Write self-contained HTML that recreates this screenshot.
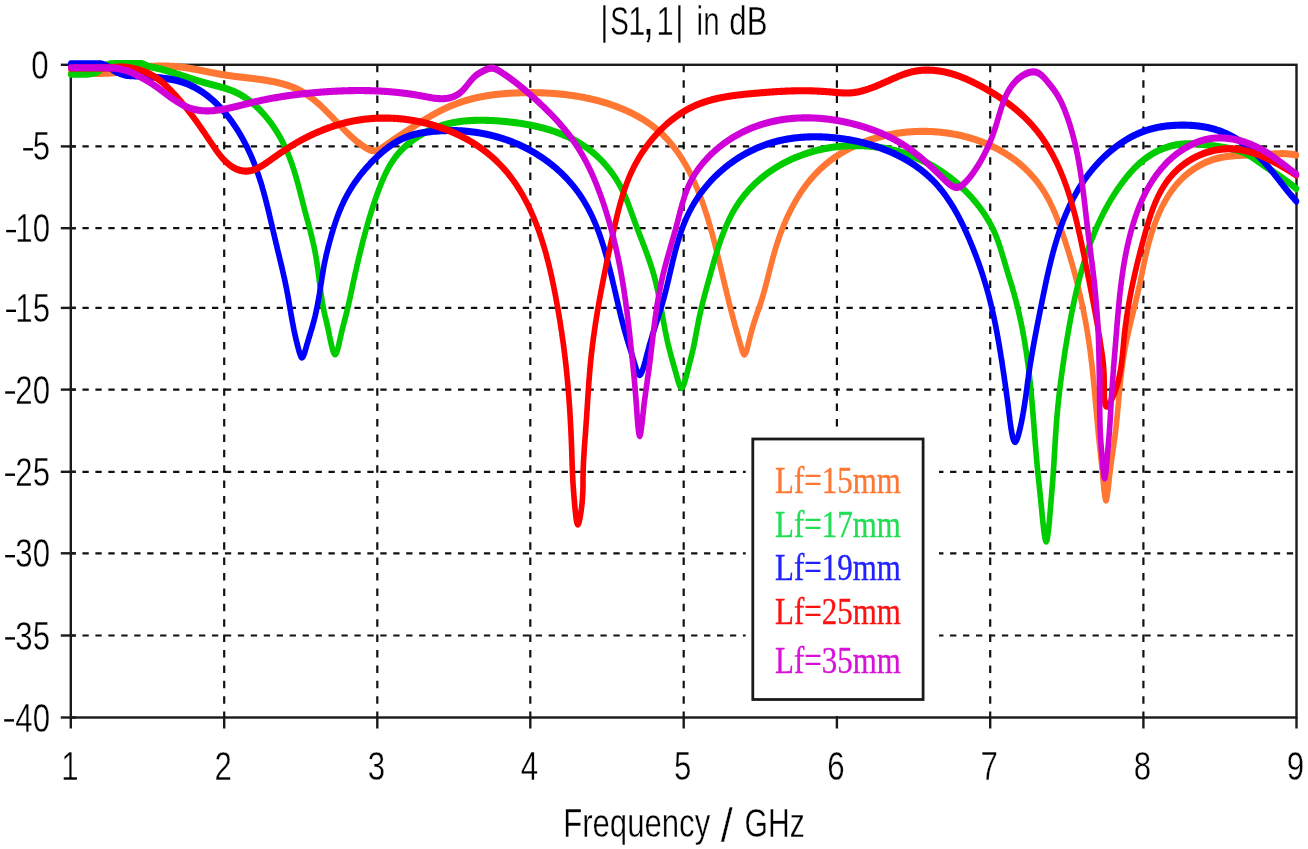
<!DOCTYPE html><html><head><meta charset="utf-8"><style>html,body{margin:0;padding:0;background:#fff;overflow:hidden;}svg{display:block;filter:blur(0.5px);}</style></head><body>
<svg width="1308" height="849" viewBox="0 0 1308 849">
<rect x="0" y="0" width="1308" height="849" fill="#fff"/>
<g stroke="#111" stroke-width="2.2" stroke-dasharray="7.5 7.9" fill="none"><line x1="224.2" y1="64.8" x2="224.2" y2="717.5" /><line x1="377.3" y1="64.8" x2="377.3" y2="717.5" /><line x1="530.3" y1="64.8" x2="530.3" y2="717.5" /><line x1="683.7" y1="64.8" x2="683.7" y2="717.5" /><line x1="836.9" y1="64.8" x2="836.9" y2="717.5" /><line x1="990.2" y1="64.8" x2="990.2" y2="717.5" /><line x1="1143.4" y1="64.8" x2="1143.4" y2="717.5" /></g>
<g stroke="#111" stroke-width="2.2" stroke-dasharray="6.3 6.65" fill="none"><line x1="69.5" y1="146.4" x2="1296.5" y2="146.4" /><line x1="69.5" y1="228.2" x2="1296.5" y2="228.2" /><line x1="69.5" y1="307.9" x2="1296.5" y2="307.9" /><line x1="69.5" y1="389.6" x2="1296.5" y2="389.6" /><line x1="69.5" y1="471.8" x2="1296.5" y2="471.8" /><line x1="69.5" y1="553.3" x2="1296.5" y2="553.3" /><line x1="69.5" y1="635.5" x2="1296.5" y2="635.5" /></g>
<rect x="745.7" y="431" width="193.3" height="285" fill="#fff"/>
<g stroke="#1a1a1a" stroke-width="2.4" fill="none"><line x1="60.8" y1="64.8" x2="75.8" y2="64.8" /><line x1="60.8" y1="146.4" x2="75.8" y2="146.4" /><line x1="60.8" y1="228.2" x2="75.8" y2="228.2" /><line x1="60.8" y1="307.9" x2="75.8" y2="307.9" /><line x1="60.8" y1="389.6" x2="75.8" y2="389.6" /><line x1="60.8" y1="471.8" x2="75.8" y2="471.8" /><line x1="60.8" y1="553.3" x2="75.8" y2="553.3" /><line x1="60.8" y1="635.5" x2="75.8" y2="635.5" /><line x1="60.8" y1="717.5" x2="75.8" y2="717.5" /><line x1="70.8" y1="717.5" x2="70.8" y2="728.5" /><line x1="224.2" y1="717.5" x2="224.2" y2="728.5" /><line x1="377.3" y1="717.5" x2="377.3" y2="728.5" /><line x1="530.3" y1="717.5" x2="530.3" y2="728.5" /><line x1="683.7" y1="717.5" x2="683.7" y2="728.5" /><line x1="836.9" y1="717.5" x2="836.9" y2="728.5" /><line x1="990.2" y1="717.5" x2="990.2" y2="728.5" /><line x1="1143.4" y1="717.5" x2="1143.4" y2="728.5" /><line x1="1296.5" y1="717.5" x2="1296.5" y2="728.5" /></g>
<rect x="70.8" y="64.8" width="1225.7" height="652.7" fill="none" stroke="#1a1a1a" stroke-width="2.4"/>
<g fill="none" stroke-width="5.6" stroke-linejoin="round" stroke-linecap="round" transform="scale(1,1.27)">
<path stroke="#FF7733" d="M70.8,57.64 L71.3,57.65 L71.8,57.67 L72.3,57.68 L72.8,57.69 L73.3,57.70 L73.8,57.72 L74.3,57.73 L74.8,57.74 L75.3,57.75 L75.8,57.76 L76.3,57.77 L76.8,57.77 L77.3,57.78 L77.8,57.79 L78.3,57.80 L78.8,57.80 L79.3,57.81 L79.8,57.82 L80.3,57.82 L80.8,57.83 L81.3,57.83 L81.8,57.84 L82.3,57.84 L82.8,57.84 L83.3,57.85 L83.8,57.85 L84.3,57.85 L84.8,57.86 L85.3,57.86 L85.8,57.86 L86.3,57.86 L86.8,57.86 L87.3,57.87 L87.8,57.87 L88.3,57.87 L88.8,57.87 L89.3,57.87 L89.8,57.87 L90.3,57.87 L90.8,57.87 L91.3,57.87 L91.8,57.87 L92.3,57.87 L92.8,57.87 L93.3,57.87 L93.8,57.87 L94.3,57.87 L94.8,57.87 L95.3,57.87 L95.8,57.87 L96.3,57.87 L96.8,57.87 L97.3,57.86 L97.8,57.86 L98.3,57.85 L98.8,57.84 L99.3,57.83 L99.8,57.83 L100.3,57.81 L100.8,57.80 L101.3,57.79 L101.8,57.78 L102.3,57.76 L102.8,57.75 L103.3,57.73 L103.8,57.72 L104.3,57.70 L104.8,57.68 L105.3,57.66 L105.8,57.65 L106.3,57.63 L106.8,57.60 L107.3,57.58 L107.8,57.56 L108.3,57.54 L108.8,57.52 L109.3,57.49 L109.8,57.47 L110.3,57.44 L110.8,57.42 L111.3,57.39 L111.8,57.37 L112.3,57.34 L112.8,57.31 L113.3,57.28 L113.8,57.26 L114.3,57.23 L114.8,57.19 L115.3,57.14 L115.8,57.09 L116.3,57.03 L116.8,56.97 L117.3,56.90 L117.8,56.82 L118.3,56.74 L118.8,56.65 L119.3,56.56 L119.8,56.47 L120.3,56.37 L120.8,56.27 L121.3,56.17 L121.8,56.07 L122.3,55.96 L122.8,55.85 L123.3,55.75 L123.8,55.64 L124.3,55.53 L124.8,55.43 L125.3,55.32 L125.8,55.22 L126.3,55.12 L126.8,55.02 L127.3,54.93 L127.8,54.84 L128.3,54.75 L128.8,54.67 L129.3,54.59 L129.8,54.52 L130.3,54.45 L130.8,54.38 L131.3,54.31 L131.8,54.24 L132.3,54.17 L132.8,54.09 L133.3,54.02 L133.8,53.95 L134.3,53.88 L134.8,53.81 L135.3,53.73 L135.8,53.66 L136.3,53.59 L136.8,53.52 L137.3,53.45 L137.8,53.38 L138.3,53.31 L138.8,53.24 L139.3,53.17 L139.8,53.11 L140.5,53.02 L141.2,52.94 L141.9,52.86 L142.6,52.79 L143.3,52.72 L144.0,52.65 L144.7,52.59 L145.4,52.54 L146.1,52.49 L146.8,52.44 L147.5,52.40 L148.2,52.37 L148.9,52.34 L149.6,52.31 L150.3,52.29 L150.9,52.27 L151.6,52.24 L152.3,52.22 L153.0,52.20 L153.7,52.18 L154.4,52.15 L155.1,52.13 L155.8,52.11 L156.5,52.09 L157.2,52.07 L157.9,52.05 L158.6,52.04 L159.2,52.02 L159.9,52.01 L160.6,52.00 L161.3,51.99 L162.0,51.98 L162.7,51.98 L163.4,51.98 L164.1,51.98 L164.8,51.98 L165.5,51.99 L166.2,52.00 L166.8,52.02 L167.5,52.04 L168.2,52.06 L168.9,52.08 L169.6,52.11 L170.3,52.13 L171.0,52.16 L171.7,52.19 L172.4,52.23 L173.0,52.26 L173.7,52.30 L174.4,52.34 L175.1,52.39 L175.8,52.43 L176.5,52.48 L177.2,52.53 L177.9,52.58 L178.5,52.63 L179.2,52.69 L179.9,52.75 L180.6,52.81 L181.3,52.87 L182.0,52.93 L182.7,53.00 L183.3,53.07 L184.0,53.14 L184.7,53.21 L185.4,53.29 L186.1,53.37 L186.8,53.45 L187.5,53.53 L188.1,53.61 L188.8,53.70 L189.5,53.78 L190.2,53.87 L190.9,53.96 L191.6,54.06 L192.2,54.15 L192.9,54.24 L193.6,54.34 L194.3,54.44 L195.0,54.54 L195.7,54.64 L196.3,54.74 L197.0,54.84 L197.7,54.95 L198.4,55.05 L199.1,55.15 L199.8,55.26 L200.5,55.37 L201.1,55.47 L201.8,55.58 L202.5,55.69 L203.2,55.80 L203.9,55.91 L204.6,56.02 L205.3,56.13 L206.0,56.24 L206.6,56.35 L207.3,56.46 L208.0,56.57 L208.7,56.68 L209.4,56.79 L210.1,56.90 L210.8,57.01 L211.5,57.12 L212.2,57.22 L212.9,57.33 L213.5,57.44 L214.2,57.55 L214.9,57.65 L215.6,57.76 L216.3,57.86 L217.0,57.97 L217.7,58.07 L218.4,58.17 L219.1,58.27 L219.8,58.37 L220.5,58.47 L221.2,58.56 L221.9,58.66 L222.6,58.75 L223.3,58.84 L224.0,58.93 L224.7,59.02 L225.4,59.11 L226.1,59.20 L226.8,59.28 L227.5,59.36 L228.3,59.44 L229.0,59.52 L229.7,59.60 L230.4,59.68 L231.1,59.76 L231.8,59.83 L232.5,59.91 L233.2,59.98 L233.9,60.05 L234.6,60.13 L235.4,60.20 L236.1,60.27 L236.8,60.34 L237.5,60.40 L238.2,60.47 L238.9,60.54 L239.6,60.61 L240.4,60.67 L241.1,60.74 L241.8,60.81 L242.5,60.87 L243.2,60.94 L243.9,61.00 L244.6,61.07 L245.4,61.13 L246.1,61.20 L246.8,61.26 L247.5,61.33 L248.2,61.39 L248.9,61.46 L249.6,61.52 L250.3,61.59 L251.1,61.66 L251.8,61.72 L252.5,61.79 L253.2,61.86 L253.9,61.93 L254.6,62.00 L255.3,62.07 L256.0,62.14 L256.7,62.21 L257.4,62.28 L258.2,62.36 L258.9,62.43 L259.6,62.51 L260.3,62.58 L261.0,62.66 L261.7,62.74 L262.4,62.82 L263.1,62.90 L263.8,62.98 L264.5,63.07 L265.2,63.15 L265.9,63.24 L266.6,63.33 L267.3,63.42 L268.0,63.51 L268.6,63.60 L269.3,63.70 L270.0,63.80 L270.7,63.90 L271.4,64.00 L272.1,64.10 L272.8,64.21 L273.5,64.31 L274.1,64.42 L274.8,64.54 L275.5,64.65 L276.2,64.77 L276.9,64.88 L277.5,65.01 L278.2,65.13 L278.9,65.26 L279.5,65.39 L280.2,65.52 L280.9,65.65 L281.5,65.79 L282.2,65.93 L282.9,66.07 L283.5,66.22 L284.2,66.37 L284.8,66.52 L285.5,66.67 L286.1,66.83 L286.8,66.99 L287.4,67.16 L288.1,67.33 L288.7,67.50 L289.3,67.67 L290.0,67.85 L290.6,68.03 L291.3,68.22 L291.9,68.41 L292.5,68.60 L293.1,68.79 L293.8,69.00 L294.4,69.20 L295.0,69.41 L295.6,69.62 L296.2,69.84 L296.8,70.06 L297.5,70.28 L298.1,70.51 L298.7,70.74 L299.3,70.98 L299.9,71.22 L300.5,71.47 L301.0,71.72 L301.6,71.97 L302.2,72.23 L302.8,72.49 L303.4,72.76 L304.0,73.03 L304.5,73.31 L305.1,73.59 L305.7,73.88 L306.2,74.17 L306.8,74.46 L307.4,74.76 L307.9,75.06 L308.5,75.37 L309.0,75.68 L309.6,75.99 L310.2,76.31 L310.7,76.63 L311.2,76.95 L311.8,77.28 L312.3,77.61 L312.9,77.94 L313.4,78.28 L313.9,78.62 L314.5,78.96 L315.0,79.31 L315.5,79.66 L316.1,80.01 L316.6,80.36 L317.1,80.72 L317.6,81.08 L318.2,81.44 L318.7,81.81 L319.2,82.18 L319.7,82.55 L320.2,82.92 L320.8,83.29 L321.3,83.67 L321.8,84.05 L322.3,84.43 L322.8,84.81 L323.3,85.20 L323.8,85.58 L324.3,85.97 L324.8,86.36 L325.3,86.75 L325.8,87.15 L326.3,87.54 L326.8,87.94 L327.3,88.33 L327.8,88.73 L328.3,89.13 L328.8,89.53 L329.3,89.93 L329.8,90.34 L330.3,90.74 L330.8,91.14 L331.3,91.55 L331.8,91.95 L332.3,92.36 L332.8,92.77 L333.3,93.17 L333.8,93.58 L334.3,93.99 L334.8,94.40 L335.3,94.81 L335.8,95.22 L336.3,95.62 L336.8,96.03 L337.3,96.44 L337.8,96.85 L338.2,97.26 L338.7,97.67 L339.2,98.07 L339.7,98.48 L340.2,98.89 L340.7,99.29 L341.2,99.70 L341.7,100.10 L342.2,100.51 L342.7,100.91 L343.2,101.31 L343.7,101.71 L344.2,102.11 L344.7,102.51 L345.2,102.91 L345.7,103.30 L346.2,103.70 L346.7,104.09 L347.2,104.49 L347.7,104.88 L348.2,105.26 L348.8,105.65 L349.3,106.04 L349.8,106.42 L350.3,106.80 L350.8,107.18 L351.3,107.56 L351.8,107.93 L352.4,108.31 L352.9,108.68 L353.4,109.05 L353.9,109.41 L354.5,109.78 L355.0,110.14 L355.5,110.50 L356.1,110.86 L356.6,111.21 L357.2,111.57 L357.7,111.91 L358.3,112.26 L358.9,112.61 L359.4,112.95 L360.0,113.29 L360.6,113.62 L361.2,113.95 L361.8,114.28 L362.4,114.61 L363.0,114.93 L363.6,115.25 L364.2,115.57 L364.8,115.88 L365.4,116.18 L366.0,116.47 L366.7,116.76 L367.3,117.03 L367.9,117.28 L368.6,117.53 L369.2,117.75 L369.8,117.96 L370.5,118.14 L371.1,118.30 L371.7,118.44 L372.4,118.55 L373.0,118.64 L373.6,118.70 L374.3,118.73 L374.9,118.72 L375.5,118.68 L376.1,118.61 L376.7,118.50 L377.3,118.37 L377.9,118.20 L378.5,118.01 L379.1,117.80 L379.6,117.57 L380.2,117.31 L380.8,117.05 L381.4,116.76 L381.9,116.47 L382.5,116.16 L383.1,115.85 L383.7,115.53 L384.2,115.20 L384.8,114.88 L385.4,114.56 L385.9,114.24 L386.5,113.92 L387.1,113.59 L387.7,113.27 L388.2,112.95 L388.8,112.63 L389.4,112.31 L390.0,111.99 L390.6,111.68 L391.1,111.36 L391.7,111.04 L392.3,110.72 L392.9,110.40 L393.5,110.09 L394.0,109.77 L394.6,109.45 L395.2,109.14 L395.8,108.82 L396.4,108.51 L397.0,108.19 L397.6,107.88 L398.2,107.57 L398.7,107.25 L399.3,106.94 L399.9,106.63 L400.5,106.31 L401.1,106.00 L401.7,105.69 L402.3,105.38 L402.9,105.07 L403.5,104.76 L404.1,104.45 L404.7,104.14 L405.3,103.83 L405.9,103.52 L406.5,103.21 L407.1,102.90 L407.7,102.60 L408.3,102.29 L408.9,101.98 L409.5,101.68 L410.1,101.37 L410.7,101.06 L411.3,100.76 L411.9,100.45 L412.5,100.15 L413.1,99.85 L413.7,99.54 L414.4,99.24 L415.0,98.94 L415.6,98.63 L416.2,98.33 L416.8,98.03 L417.4,97.73 L418.0,97.43 L418.6,97.13 L419.2,96.83 L419.9,96.53 L420.5,96.23 L421.1,95.93 L421.7,95.63 L422.3,95.33 L422.9,95.03 L423.6,94.74 L424.2,94.44 L424.8,94.14 L425.4,93.85 L426.1,93.55 L426.7,93.26 L427.3,92.97 L427.9,92.68 L428.5,92.39 L429.2,92.10 L429.8,91.81 L430.4,91.52 L431.1,91.24 L431.7,90.96 L432.3,90.67 L432.9,90.39 L433.6,90.11 L434.2,89.84 L434.8,89.56 L435.5,89.28 L436.1,89.01 L436.7,88.74 L437.4,88.47 L438.0,88.21 L438.6,87.94 L439.3,87.68 L439.9,87.42 L440.5,87.16 L441.2,86.91 L441.8,86.65 L442.4,86.40 L443.1,86.15 L443.7,85.91 L444.4,85.66 L445.0,85.42 L445.6,85.18 L446.3,84.95 L446.9,84.72 L447.6,84.49 L448.2,84.26 L448.9,84.04 L449.5,83.82 L450.2,83.60 L450.8,83.38 L451.4,83.17 L452.1,82.96 L452.7,82.75 L453.4,82.55 L454.0,82.35 L454.7,82.15 L455.3,81.95 L456.0,81.76 L456.6,81.57 L457.3,81.38 L457.9,81.19 L458.6,81.01 L459.3,80.83 L459.9,80.65 L460.6,80.48 L461.2,80.30 L461.9,80.13 L462.5,79.97 L463.2,79.80 L463.8,79.64 L464.5,79.48 L465.2,79.32 L465.8,79.16 L466.5,79.01 L467.1,78.86 L467.8,78.71 L468.5,78.56 L469.1,78.42 L469.8,78.28 L470.4,78.14 L471.1,78.00 L471.8,77.87 L472.4,77.74 L473.1,77.61 L473.8,77.48 L474.4,77.35 L475.1,77.23 L475.8,77.11 L476.4,76.99 L477.1,76.87 L477.8,76.76 L478.4,76.64 L479.1,76.53 L479.8,76.42 L480.4,76.32 L481.1,76.21 L481.8,76.11 L482.5,76.01 L483.1,75.91 L483.8,75.81 L484.5,75.72 L485.1,75.63 L485.8,75.54 L486.5,75.45 L487.2,75.36 L487.8,75.28 L488.5,75.19 L489.2,75.11 L489.9,75.03 L490.6,74.95 L491.2,74.88 L491.9,74.80 L492.6,74.73 L493.3,74.66 L494.0,74.59 L494.6,74.52 L495.3,74.46 L496.0,74.39 L496.7,74.33 L497.4,74.27 L498.0,74.21 L498.7,74.15 L499.4,74.10 L500.1,74.04 L500.8,73.99 L501.5,73.94 L502.1,73.89 L502.8,73.84 L503.5,73.79 L504.2,73.75 L504.9,73.70 L505.6,73.66 L506.3,73.62 L506.9,73.58 L507.6,73.54 L508.3,73.50 L509.0,73.47 L509.7,73.43 L510.4,73.40 L511.1,73.37 L511.8,73.34 L512.5,73.31 L513.2,73.28 L513.8,73.26 L514.5,73.23 L515.2,73.21 L515.9,73.18 L516.6,73.16 L517.3,73.14 L518.0,73.12 L518.7,73.10 L519.4,73.09 L520.1,73.07 L520.8,73.05 L521.5,73.04 L522.2,73.03 L522.9,73.01 L523.6,73.00 L524.3,72.99 L525.0,72.99 L525.7,72.98 L526.4,72.97 L527.1,72.97 L527.8,72.96 L528.5,72.96 L529.2,72.95 L529.9,72.95 L530.6,72.95 L531.3,72.95 L532.0,72.96 L532.7,72.96 L533.4,72.96 L534.1,72.97 L534.8,72.98 L535.5,72.99 L536.2,72.99 L536.9,73.00 L537.6,73.02 L538.3,73.03 L539.0,73.04 L539.7,73.06 L540.4,73.07 L541.1,73.09 L541.8,73.11 L542.5,73.13 L543.2,73.15 L543.9,73.17 L544.6,73.20 L545.3,73.22 L546.0,73.25 L546.7,73.28 L547.4,73.31 L548.1,73.34 L548.8,73.37 L549.5,73.40 L550.2,73.44 L551.0,73.47 L551.7,73.51 L552.4,73.55 L553.1,73.59 L553.8,73.63 L554.5,73.67 L555.2,73.71 L555.9,73.76 L556.6,73.80 L557.3,73.85 L558.0,73.90 L558.7,73.95 L559.4,74.00 L560.1,74.06 L560.8,74.11 L561.5,74.17 L562.2,74.22 L562.9,74.28 L563.6,74.34 L564.3,74.40 L565.0,74.47 L565.7,74.53 L566.4,74.60 L567.1,74.67 L567.8,74.74 L568.5,74.81 L569.2,74.88 L569.9,74.95 L570.6,75.03 L571.3,75.10 L572.0,75.18 L572.7,75.26 L573.4,75.34 L574.1,75.43 L574.8,75.51 L575.5,75.60 L576.2,75.69 L576.9,75.77 L577.6,75.86 L578.3,75.96 L579.0,76.05 L579.7,76.15 L580.4,76.24 L581.1,76.34 L581.8,76.44 L582.5,76.55 L583.2,76.65 L583.9,76.75 L584.6,76.86 L585.2,76.97 L585.9,77.08 L586.6,77.19 L587.3,77.31 L588.0,77.42 L588.7,77.54 L589.4,77.66 L590.1,77.78 L590.8,77.90 L591.5,78.02 L592.1,78.15 L592.8,78.28 L593.5,78.40 L594.2,78.54 L594.9,78.67 L595.6,78.80 L596.3,78.94 L596.9,79.08 L597.6,79.22 L598.3,79.36 L599.0,79.50 L599.7,79.65 L600.4,79.79 L601.0,79.94 L601.7,80.09 L602.4,80.24 L603.1,80.40 L603.7,80.55 L604.4,80.71 L605.1,80.87 L605.8,81.03 L606.4,81.20 L607.1,81.36 L607.8,81.53 L608.5,81.70 L609.1,81.87 L609.8,82.04 L610.5,82.22 L611.1,82.39 L611.8,82.57 L612.5,82.75 L613.1,82.93 L613.8,83.12 L614.4,83.30 L615.1,83.49 L615.8,83.68 L616.4,83.87 L617.1,84.07 L617.7,84.27 L618.4,84.46 L619.0,84.66 L619.7,84.87 L620.3,85.07 L621.0,85.28 L621.6,85.48 L622.3,85.69 L622.9,85.91 L623.5,86.12 L624.2,86.34 L624.8,86.56 L625.5,86.78 L626.1,87.00 L626.7,87.22 L627.4,87.45 L628.0,87.68 L628.6,87.91 L629.3,88.14 L629.9,88.38 L630.5,88.62 L631.1,88.86 L631.7,89.10 L632.4,89.34 L633.0,89.59 L633.6,89.84 L634.2,90.09 L634.8,90.34 L635.4,90.59 L636.0,90.85 L636.6,91.11 L637.2,91.37 L637.8,91.63 L638.4,91.90 L639.0,92.17 L639.6,92.44 L640.2,92.71 L640.8,92.98 L641.4,93.26 L642.0,93.54 L642.6,93.82 L643.2,94.10 L643.7,94.39 L644.3,94.68 L644.9,94.97 L645.5,95.26 L646.0,95.56 L646.6,95.85 L647.2,96.15 L647.7,96.46 L648.3,96.76 L648.9,97.07 L649.4,97.37 L650.0,97.69 L650.5,98.00 L651.1,98.32 L651.6,98.63 L652.2,98.95 L652.7,99.28 L653.3,99.60 L653.8,99.93 L654.3,100.26 L654.9,100.59 L655.4,100.93 L655.9,101.27 L656.4,101.61 L657.0,101.95 L657.5,102.29 L658.0,102.64 L658.5,102.99 L659.0,103.34 L659.5,103.70 L660.0,104.06 L660.5,104.42 L661.0,104.78 L661.5,105.14 L662.0,105.51 L662.5,105.88 L663.0,106.25 L663.5,106.62 L663.9,107.00 L664.4,107.38 L664.9,107.76 L665.4,108.15 L665.8,108.53 L666.3,108.92 L666.8,109.31 L667.2,109.70 L667.7,110.10 L668.1,110.49 L668.6,110.89 L669.0,111.30 L669.5,111.70 L669.9,112.10 L670.4,112.51 L670.8,112.92 L671.3,113.34 L671.7,113.75 L672.1,114.17 L672.6,114.58 L673.0,115.00 L673.4,115.43 L673.8,115.85 L674.2,116.28 L674.7,116.71 L675.1,117.14 L675.5,117.57 L675.9,118.00 L676.3,118.44 L676.7,118.88 L677.1,119.32 L677.5,119.76 L677.9,120.20 L678.3,120.65 L678.7,121.09 L679.1,121.54 L679.5,121.99 L679.9,122.45 L680.2,122.90 L680.6,123.36 L681.0,123.81 L681.4,124.27 L681.7,124.74 L682.1,125.20 L682.5,125.66 L682.9,126.13 L683.2,126.60 L683.6,127.06 L683.9,127.54 L684.3,128.01 L684.6,128.48 L685.0,128.96 L685.4,129.43 L685.7,129.91 L686.0,130.39 L686.4,130.87 L686.7,131.36 L687.1,131.84 L687.4,132.33 L687.7,132.81 L688.1,133.30 L688.4,133.79 L688.7,134.28 L689.1,134.77 L689.4,135.27 L689.7,135.76 L690.0,136.26 L690.4,136.76 L690.7,137.25 L691.0,137.75 L691.3,138.26 L691.6,138.76 L691.9,139.26 L692.2,139.77 L692.5,140.27 L692.8,140.78 L693.1,141.29 L693.4,141.80 L693.7,142.31 L694.0,142.82 L694.3,143.33 L694.6,143.84 L694.9,144.36 L695.2,144.87 L695.5,145.39 L695.8,145.91 L696.1,146.43 L696.3,146.95 L696.6,147.47 L696.9,147.99 L697.2,148.51 L697.5,149.03 L697.7,149.56 L698.0,150.08 L698.3,150.61 L698.5,151.13 L698.8,151.66 L699.1,152.19 L699.3,152.71 L699.6,153.24 L699.8,153.77 L700.1,154.30 L700.4,154.84 L700.6,155.37 L700.9,155.90 L701.1,156.43 L701.4,156.97 L701.6,157.50 L701.9,158.04 L702.1,158.57 L702.4,159.11 L702.6,159.65 L702.8,160.18 L703.1,160.72 L703.3,161.26 L703.6,161.80 L703.8,162.34 L704.0,162.88 L704.3,163.42 L704.5,163.96 L704.7,164.50 L704.9,165.04 L705.2,165.58 L705.4,166.12 L705.6,166.66 L705.8,167.21 L706.1,167.75 L706.3,168.29 L706.5,168.84 L706.7,169.38 L706.9,169.92 L707.2,170.47 L707.4,171.01 L707.6,171.56 L707.8,172.10 L708.0,172.64 L708.2,173.19 L708.4,173.73 L708.6,174.28 L708.8,174.82 L709.0,175.37 L709.2,175.91 L709.5,176.46 L709.7,177.01 L709.9,177.55 L710.1,178.10 L710.2,178.64 L710.4,179.19 L710.6,179.73 L710.8,180.28 L711.0,180.82 L711.2,181.37 L711.4,181.91 L711.6,182.45 L711.8,183.00 L712.0,183.54 L712.2,184.09 L712.4,184.63 L712.5,185.17 L712.7,185.72 L712.9,186.26 L713.1,186.80 L713.3,187.34 L713.5,187.89 L713.6,188.43 L713.8,188.97 L714.0,189.51 L714.2,190.05 L714.4,190.59 L714.5,191.13 L714.7,191.67 L714.9,192.21 L715.1,192.75 L715.2,193.29 L715.4,193.82 L715.6,194.36 L715.8,194.90 L715.9,195.43 L716.1,195.97 L716.3,196.50 L716.4,197.04 L716.6,197.57 L716.8,198.10 L716.9,198.63 L717.1,199.17 L717.3,199.70 L717.4,200.23 L717.6,200.76 L717.8,201.29 L717.9,201.81 L718.1,202.34 L718.3,202.87 L718.4,203.39 L718.6,203.92 L718.7,204.44 L718.9,204.96 L719.1,205.49 L719.2,206.01 L719.4,206.53 L719.5,207.05 L719.7,207.57 L719.9,208.08 L720.0,208.60 L720.2,209.12 L720.3,209.63 L720.5,210.15 L720.6,210.66 L720.8,211.18 L721.0,211.69 L721.1,212.20 L721.3,212.71 L721.4,213.22 L721.6,213.74 L721.7,214.25 L721.9,214.76 L722.0,215.27 L722.2,215.78 L722.4,216.28 L722.5,216.79 L722.7,217.30 L722.8,217.81 L723.0,218.32 L723.1,218.82 L723.3,219.33 L723.4,219.84 L723.6,220.35 L723.7,220.85 L723.9,221.36 L724.0,221.87 L724.2,222.38 L724.4,222.88 L724.5,223.39 L724.7,223.90 L724.8,224.41 L725.0,224.92 L725.1,225.42 L725.3,225.93 L725.4,226.44 L725.6,226.95 L725.7,227.46 L725.9,227.97 L726.1,228.48 L726.2,228.99 L726.4,229.50 L726.5,230.01 L726.7,230.53 L726.8,231.04 L727.0,231.55 L727.2,232.07 L727.3,232.58 L727.5,233.10 L727.6,233.61 L727.8,234.13 L728.0,234.65 L728.1,235.17 L728.3,235.69 L728.5,236.21 L728.6,236.73 L728.8,237.25 L728.9,237.77 L729.1,238.30 L729.3,238.82 L729.4,239.35 L729.6,239.88 L729.8,240.41 L729.9,240.93 L730.1,241.46 L730.3,242.00 L730.5,242.53 L730.6,243.06 L730.8,243.60 L731.0,244.13 L731.1,244.67 L731.3,245.21 L731.5,245.75 L731.7,246.29 L731.9,246.83 L732.0,247.37 L732.2,247.91 L732.4,248.46 L732.6,249.01 L732.8,249.55 L732.9,250.10 L733.1,250.65 L733.3,251.20 L733.5,251.75 L733.7,252.31 L733.9,252.86 L734.1,253.42 L734.2,253.98 L734.4,254.54 L734.6,255.10 L734.8,255.66 L735.0,256.22 L735.2,256.78 L735.4,257.35 L735.6,257.92 L735.8,258.48 L736.0,259.05 L736.2,259.62 L736.4,260.20 L736.6,260.77 L736.8,261.34 L737.0,261.92 L737.2,262.50 L737.4,263.07 L737.7,263.65 L737.9,264.23 L738.1,264.82 L738.3,265.40 L738.5,265.98 L738.7,266.57 L738.9,267.16 L739.1,267.74 L739.3,268.33 L739.6,268.92 L739.8,269.51 L740.0,270.10 L740.2,270.70 L740.4,271.29 L740.7,271.89 L740.9,272.48 L741.1,273.08 L741.3,273.67 L741.5,274.26 L741.8,274.84 L742.0,275.40 L742.2,275.94 L742.4,276.45 L742.6,276.92 L742.9,277.36 L743.1,277.75 L743.3,278.09 L743.5,278.37 L743.8,278.59 L744.0,278.75 L744.2,278.83 L744.4,278.83 L744.7,278.77 L744.9,278.65 L745.1,278.46 L745.3,278.21 L745.6,277.90 L745.8,277.55 L746.0,277.14 L746.2,276.69 L746.5,276.20 L746.7,275.66 L746.9,275.10 L747.1,274.50 L747.4,273.87 L747.6,273.22 L747.8,272.54 L748.0,271.85 L748.3,271.14 L748.5,270.42 L748.7,269.70 L748.9,268.97 L749.1,268.23 L749.4,267.50 L749.6,266.78 L749.8,266.06 L750.0,265.36 L750.3,264.67 L750.5,263.99 L750.7,263.32 L750.9,262.66 L751.1,262.00 L751.4,261.36 L751.6,260.73 L751.8,260.11 L752.0,259.50 L752.2,258.90 L752.4,258.30 L752.7,257.71 L752.9,257.13 L753.1,256.56 L753.3,256.00 L753.5,255.44 L753.7,254.89 L753.9,254.35 L754.2,253.81 L754.4,253.28 L754.6,252.76 L754.8,252.24 L755.0,251.72 L755.2,251.21 L755.4,250.71 L755.6,250.21 L755.9,249.71 L756.1,249.22 L756.3,248.73 L756.5,248.24 L756.7,247.76 L756.9,247.28 L757.1,246.81 L757.3,246.33 L757.5,245.86 L757.7,245.39 L757.9,244.92 L758.1,244.45 L758.3,243.98 L758.6,243.51 L758.8,243.05 L759.0,242.58 L759.2,242.11 L759.4,241.65 L759.6,241.18 L759.8,240.71 L760.0,240.24 L760.2,239.77 L760.4,239.29 L760.6,238.82 L760.8,238.34 L761.0,237.86 L761.2,237.38 L761.4,236.89 L761.6,236.40 L761.8,235.90 L762.0,235.41 L762.2,234.90 L762.4,234.40 L762.5,233.88 L762.7,233.37 L762.9,232.85 L763.1,232.32 L763.3,231.80 L763.5,231.26 L763.7,230.73 L763.9,230.19 L764.1,229.65 L764.3,229.10 L764.5,228.56 L764.7,228.01 L764.9,227.45 L765.0,226.90 L765.2,226.34 L765.4,225.79 L765.6,225.23 L765.8,224.67 L766.0,224.10 L766.2,223.54 L766.4,222.98 L766.5,222.41 L766.7,221.85 L766.9,221.28 L767.1,220.72 L767.3,220.15 L767.5,219.59 L767.6,219.03 L767.8,218.46 L768.0,217.90 L768.2,217.34 L768.4,216.78 L768.5,216.22 L768.7,215.67 L768.9,215.11 L769.1,214.56 L769.2,214.01 L769.4,213.46 L769.6,212.92 L769.8,212.38 L770.0,211.83 L770.1,211.29 L770.3,210.75 L770.5,210.22 L770.7,209.68 L770.8,209.15 L771.0,208.62 L771.2,208.09 L771.4,207.56 L771.5,207.03 L771.7,206.51 L771.9,205.98 L772.1,205.46 L772.2,204.94 L772.4,204.42 L772.6,203.90 L772.8,203.38 L772.9,202.87 L773.1,202.35 L773.3,201.84 L773.5,201.32 L773.7,200.81 L773.8,200.30 L774.0,199.79 L774.2,199.28 L774.4,198.77 L774.6,198.26 L774.8,197.75 L775.0,197.24 L775.2,196.74 L775.3,196.23 L775.5,195.73 L775.7,195.22 L775.9,194.72 L776.1,194.21 L776.3,193.71 L776.5,193.20 L776.7,192.70 L776.9,192.20 L777.1,191.69 L777.3,191.19 L777.5,190.69 L777.7,190.18 L778.0,189.68 L778.2,189.17 L778.4,188.67 L778.6,188.17 L778.8,187.66 L779.0,187.16 L779.3,186.65 L779.5,186.15 L779.7,185.64 L779.9,185.14 L780.2,184.63 L780.4,184.12 L780.6,183.61 L780.9,183.11 L781.1,182.60 L781.4,182.09 L781.6,181.58 L781.9,181.06 L782.1,180.55 L782.4,180.04 L782.6,179.53 L782.9,179.01 L783.2,178.50 L783.4,177.98 L783.7,177.47 L784.0,176.95 L784.2,176.44 L784.5,175.92 L784.8,175.40 L785.1,174.89 L785.4,174.37 L785.6,173.85 L785.9,173.34 L786.2,172.82 L786.5,172.30 L786.8,171.79 L787.1,171.27 L787.4,170.75 L787.7,170.24 L788.0,169.72 L788.3,169.21 L788.6,168.69 L789.0,168.18 L789.3,167.66 L789.6,167.15 L789.9,166.64 L790.2,166.12 L790.6,165.61 L790.9,165.10 L791.2,164.59 L791.6,164.08 L791.9,163.57 L792.2,163.06 L792.6,162.55 L792.9,162.05 L793.3,161.54 L793.6,161.04 L794.0,160.54 L794.3,160.03 L794.7,159.53 L795.0,159.03 L795.4,158.53 L795.8,158.04 L796.1,157.54 L796.5,157.05 L796.9,156.55 L797.3,156.06 L797.6,155.57 L798.0,155.08 L798.4,154.59 L798.8,154.11 L799.2,153.63 L799.5,153.14 L799.9,152.66 L800.3,152.18 L800.7,151.71 L801.1,151.23 L801.5,150.76 L801.9,150.29 L802.3,149.82 L802.7,149.35 L803.2,148.89 L803.6,148.43 L804.0,147.97 L804.4,147.51 L804.8,147.05 L805.2,146.60 L805.7,146.15 L806.1,145.70 L806.5,145.26 L806.9,144.81 L807.4,144.37 L807.8,143.93 L808.3,143.50 L808.7,143.06 L809.1,142.63 L809.6,142.21 L810.0,141.78 L810.5,141.36 L810.9,140.94 L811.4,140.52 L811.8,140.10 L812.3,139.69 L812.8,139.28 L813.2,138.87 L813.7,138.46 L814.2,138.06 L814.6,137.66 L815.1,137.26 L815.6,136.87 L816.0,136.47 L816.5,136.08 L817.0,135.69 L817.5,135.31 L818.0,134.92 L818.5,134.54 L819.0,134.16 L819.4,133.79 L819.9,133.41 L820.4,133.04 L820.9,132.67 L821.4,132.31 L821.9,131.94 L822.4,131.58 L823.0,131.22 L823.5,130.87 L824.0,130.51 L824.5,130.16 L825.0,129.81 L825.5,129.46 L826.0,129.12 L826.6,128.78 L827.1,128.44 L827.6,128.10 L828.1,127.76 L828.7,127.43 L829.2,127.10 L829.8,126.77 L830.3,126.45 L830.8,126.12 L831.4,125.80 L831.9,125.48 L832.5,125.17 L833.0,124.85 L833.6,124.54 L834.1,124.23 L834.7,123.93 L835.2,123.62 L835.8,123.32 L836.3,123.02 L836.9,122.72 L837.5,122.43 L838.0,122.13 L838.6,121.84 L839.2,121.56 L839.8,121.27 L840.3,120.99 L840.9,120.70 L841.5,120.43 L842.1,120.15 L842.7,119.87 L843.2,119.60 L843.8,119.33 L844.4,119.06 L845.0,118.80 L845.6,118.54 L846.2,118.28 L846.8,118.02 L847.4,117.76 L848.0,117.51 L848.6,117.25 L849.2,117.01 L849.8,116.76 L850.4,116.51 L851.0,116.27 L851.7,116.03 L852.3,115.79 L852.9,115.56 L853.5,115.32 L854.1,115.09 L854.8,114.86 L855.4,114.63 L856.0,114.41 L856.6,114.19 L857.3,113.97 L857.9,113.75 L858.5,113.53 L859.2,113.32 L859.8,113.11 L860.4,112.90 L861.1,112.69 L861.7,112.49 L862.4,112.29 L863.0,112.09 L863.7,111.89 L864.3,111.70 L865.0,111.50 L865.6,111.31 L866.3,111.12 L866.9,110.94 L867.6,110.75 L868.2,110.57 L868.9,110.39 L869.5,110.22 L870.2,110.04 L870.9,109.87 L871.5,109.70 L872.2,109.53 L872.9,109.37 L873.5,109.20 L874.2,109.04 L874.9,108.88 L875.5,108.73 L876.2,108.57 L876.9,108.42 L877.6,108.27 L878.2,108.12 L878.9,107.98 L879.6,107.83 L880.3,107.69 L880.9,107.56 L881.6,107.42 L882.3,107.29 L883.0,107.15 L883.7,107.02 L884.4,106.90 L885.0,106.77 L885.7,106.65 L886.4,106.53 L887.1,106.41 L887.8,106.30 L888.5,106.18 L889.2,106.07 L889.9,105.96 L890.6,105.86 L891.3,105.75 L892.0,105.65 L892.7,105.55 L893.4,105.46 L894.1,105.36 L894.7,105.27 L895.4,105.18 L896.1,105.09 L896.8,105.00 L897.5,104.92 L898.3,104.84 L899.0,104.76 L899.7,104.68 L900.4,104.61 L901.1,104.54 L901.8,104.47 L902.5,104.40 L903.2,104.33 L903.9,104.27 L904.6,104.21 L905.3,104.15 L906.0,104.09 L906.7,104.04 L907.4,103.99 L908.1,103.94 L908.8,103.89 L909.6,103.85 L910.3,103.81 L911.0,103.77 L911.7,103.73 L912.4,103.69 L913.1,103.66 L913.8,103.63 L914.5,103.60 L915.2,103.57 L916.0,103.55 L916.7,103.53 L917.4,103.51 L918.1,103.49 L918.8,103.47 L919.5,103.46 L920.2,103.45 L920.9,103.44 L921.7,103.44 L922.4,103.43 L923.1,103.43 L923.8,103.43 L924.5,103.44 L925.2,103.44 L925.9,103.45 L926.6,103.46 L927.4,103.47 L928.1,103.49 L928.8,103.51 L929.5,103.53 L930.2,103.55 L930.9,103.57 L931.6,103.60 L932.4,103.63 L933.1,103.66 L933.8,103.69 L934.5,103.73 L935.2,103.76 L935.9,103.80 L936.6,103.85 L937.3,103.89 L938.0,103.94 L938.7,103.99 L939.5,104.04 L940.2,104.09 L940.9,104.15 L941.6,104.21 L942.3,104.27 L943.0,104.33 L943.7,104.40 L944.4,104.47 L945.1,104.54 L945.8,104.61 L946.5,104.68 L947.2,104.76 L947.9,104.84 L948.6,104.92 L949.3,105.00 L950.0,105.09 L950.7,105.18 L951.4,105.27 L952.1,105.36 L952.8,105.46 L953.5,105.56 L954.2,105.66 L954.9,105.76 L955.6,105.86 L956.3,105.97 L957.0,106.08 L957.7,106.19 L958.4,106.31 L959.1,106.42 L959.8,106.54 L960.5,106.66 L961.1,106.78 L961.8,106.91 L962.5,107.04 L963.2,107.17 L963.9,107.30 L964.6,107.43 L965.3,107.57 L965.9,107.71 L966.6,107.85 L967.3,108.00 L968.0,108.14 L968.7,108.29 L969.3,108.44 L970.0,108.60 L970.7,108.75 L971.4,108.91 L972.0,109.07 L972.7,109.23 L973.4,109.40 L974.0,109.56 L974.7,109.73 L975.4,109.90 L976.0,110.08 L976.7,110.26 L977.3,110.43 L978.0,110.61 L978.7,110.80 L979.3,110.98 L980.0,111.17 L980.6,111.36 L981.3,111.55 L981.9,111.75 L982.6,111.95 L983.2,112.15 L983.9,112.35 L984.5,112.55 L985.2,112.76 L985.8,112.97 L986.4,113.18 L987.1,113.39 L987.7,113.61 L988.4,113.83 L989.0,114.05 L989.6,114.27 L990.2,114.49 L990.9,114.72 L991.5,114.95 L992.1,115.18 L992.8,115.42 L993.4,115.66 L994.0,115.89 L994.6,116.14 L995.2,116.38 L995.8,116.63 L996.5,116.87 L997.1,117.12 L997.7,117.38 L998.3,117.63 L998.9,117.89 L999.5,118.15 L1000.1,118.41 L1000.7,118.68 L1001.3,118.94 L1001.9,119.21 L1002.5,119.48 L1003.1,119.76 L1003.6,120.03 L1004.2,120.31 L1004.8,120.59 L1005.4,120.88 L1006.0,121.16 L1006.6,121.45 L1007.1,121.74 L1007.7,122.03 L1008.3,122.32 L1008.9,122.62 L1009.4,122.92 L1010.0,123.22 L1010.5,123.53 L1011.1,123.83 L1011.7,124.14 L1012.2,124.45 L1012.8,124.76 L1013.3,125.08 L1013.9,125.40 L1014.4,125.72 L1015.0,126.04 L1015.5,126.36 L1016.1,126.69 L1016.6,127.02 L1017.1,127.35 L1017.7,127.68 L1018.2,128.02 L1018.7,128.36 L1019.2,128.70 L1019.8,129.04 L1020.3,129.38 L1020.8,129.73 L1021.3,130.08 L1021.8,130.43 L1022.4,130.79 L1022.9,131.14 L1023.4,131.50 L1023.9,131.86 L1024.4,132.22 L1024.9,132.59 L1025.4,132.96 L1025.9,133.33 L1026.4,133.70 L1026.8,134.07 L1027.3,134.45 L1027.8,134.83 L1028.3,135.21 L1028.8,135.59 L1029.2,135.98 L1029.7,136.37 L1030.2,136.76 L1030.6,137.15 L1031.1,137.55 L1031.6,137.94 L1032.0,138.34 L1032.5,138.74 L1032.9,139.15 L1033.4,139.55 L1033.8,139.96 L1034.3,140.37 L1034.7,140.78 L1035.2,141.20 L1035.6,141.62 L1036.0,142.04 L1036.5,142.46 L1036.9,142.88 L1037.3,143.31 L1037.7,143.74 L1038.1,144.17 L1038.6,144.60 L1039.0,145.04 L1039.4,145.47 L1039.8,145.91 L1040.2,146.36 L1040.6,146.80 L1041.0,147.25 L1041.4,147.70 L1041.8,148.15 L1042.1,148.60 L1042.5,149.06 L1042.9,149.51 L1043.3,149.97 L1043.7,150.44 L1044.0,150.90 L1044.4,151.37 L1044.8,151.84 L1045.1,152.31 L1045.5,152.78 L1045.8,153.26 L1046.2,153.73 L1046.5,154.21 L1046.9,154.69 L1047.2,155.18 L1047.6,155.66 L1047.9,156.15 L1048.2,156.64 L1048.6,157.13 L1048.9,157.62 L1049.2,158.11 L1049.6,158.61 L1049.9,159.11 L1050.2,159.61 L1050.5,160.11 L1050.8,160.61 L1051.1,161.11 L1051.4,161.62 L1051.7,162.13 L1052.0,162.63 L1052.3,163.14 L1052.6,163.65 L1052.9,164.17 L1053.2,164.68 L1053.5,165.19 L1053.8,165.71 L1054.1,166.23 L1054.4,166.75 L1054.7,167.27 L1054.9,167.79 L1055.2,168.31 L1055.5,168.83 L1055.8,169.35 L1056.0,169.88 L1056.3,170.40 L1056.6,170.93 L1056.8,171.45 L1057.1,171.98 L1057.4,172.51 L1057.6,173.04 L1057.9,173.57 L1058.1,174.10 L1058.4,174.63 L1058.7,175.16 L1058.9,175.69 L1059.2,176.23 L1059.4,176.76 L1059.7,177.29 L1059.9,177.83 L1060.1,178.36 L1060.4,178.90 L1060.6,179.43 L1060.9,179.97 L1061.1,180.50 L1061.3,181.04 L1061.6,181.57 L1061.8,182.11 L1062.0,182.64 L1062.3,183.18 L1062.5,183.71 L1062.7,184.25 L1063.0,184.79 L1063.2,185.32 L1063.4,185.86 L1063.6,186.39 L1063.9,186.93 L1064.1,187.46 L1064.3,188.00 L1064.5,188.53 L1064.8,189.06 L1065.0,189.60 L1065.2,190.13 L1065.4,190.66 L1065.6,191.20 L1065.9,191.73 L1066.1,192.26 L1066.3,192.79 L1066.5,193.32 L1066.7,193.85 L1066.9,194.39 L1067.1,194.92 L1067.4,195.45 L1067.6,195.98 L1067.8,196.51 L1068.0,197.04 L1068.2,197.57 L1068.4,198.10 L1068.6,198.62 L1068.8,199.15 L1069.0,199.68 L1069.2,200.21 L1069.4,200.74 L1069.6,201.27 L1069.8,201.79 L1070.0,202.32 L1070.2,202.85 L1070.4,203.38 L1070.6,203.90 L1070.8,204.43 L1071.0,204.96 L1071.2,205.48 L1071.4,206.01 L1071.6,206.54 L1071.8,207.06 L1072.0,207.59 L1072.2,208.12 L1072.4,208.64 L1072.5,209.17 L1072.7,209.69 L1072.9,210.22 L1073.1,210.74 L1073.3,211.27 L1073.5,211.80 L1073.7,212.32 L1073.8,212.85 L1074.0,213.37 L1074.2,213.90 L1074.4,214.42 L1074.6,214.95 L1074.8,215.47 L1074.9,216.00 L1075.1,216.52 L1075.3,217.05 L1075.5,217.57 L1075.6,218.10 L1075.8,218.62 L1076.0,219.15 L1076.2,219.67 L1076.3,220.19 L1076.5,220.72 L1076.7,221.24 L1076.8,221.77 L1077.0,222.29 L1077.2,222.82 L1077.4,223.34 L1077.5,223.87 L1077.7,224.39 L1077.8,224.92 L1078.0,225.44 L1078.2,225.97 L1078.3,226.50 L1078.5,227.02 L1078.7,227.55 L1078.8,228.07 L1079.0,228.60 L1079.1,229.12 L1079.3,229.65 L1079.5,230.18 L1079.6,230.70 L1079.8,231.23 L1079.9,231.76 L1080.1,232.28 L1080.2,232.81 L1080.4,233.34 L1080.5,233.86 L1080.7,234.39 L1080.8,234.92 L1081.0,235.44 L1081.1,235.97 L1081.3,236.50 L1081.4,237.03 L1081.6,237.56 L1081.7,238.09 L1081.9,238.61 L1082.0,239.14 L1082.2,239.67 L1082.3,240.20 L1082.4,240.73 L1082.6,241.26 L1082.7,241.79 L1082.9,242.32 L1083.0,242.85 L1083.1,243.38 L1083.3,243.91 L1083.4,244.45 L1083.6,244.98 L1083.7,245.51 L1083.8,246.04 L1084.0,246.57 L1084.1,247.11 L1084.2,247.64 L1084.3,248.17 L1084.5,248.71 L1084.6,249.24 L1084.7,249.77 L1084.9,250.31 L1085.0,250.84 L1085.1,251.38 L1085.2,251.92 L1085.4,252.45 L1085.5,252.99 L1085.6,253.52 L1085.7,254.06 L1085.9,254.60 L1086.0,255.14 L1086.1,255.68 L1086.2,256.21 L1086.4,256.75 L1086.5,257.29 L1086.6,257.83 L1086.7,258.37 L1086.8,258.91 L1086.9,259.45 L1087.1,260.00 L1087.2,260.54 L1087.3,261.08 L1087.4,261.62 L1087.5,262.17 L1087.6,262.71 L1087.7,263.25 L1087.8,263.80 L1087.9,264.34 L1088.1,264.89 L1088.2,265.44 L1088.3,265.98 L1088.4,266.53 L1088.5,267.08 L1088.6,267.63 L1088.7,268.17 L1088.8,268.72 L1088.9,269.27 L1089.0,269.82 L1089.1,270.37 L1089.2,270.93 L1089.3,271.48 L1089.4,272.03 L1089.5,272.58 L1089.6,273.14 L1089.7,273.69 L1089.8,274.25 L1089.9,274.80 L1090.0,275.36 L1090.1,275.91 L1090.2,276.47 L1090.3,277.03 L1090.4,277.59 L1090.5,278.15 L1090.5,278.70 L1090.6,279.26 L1090.7,279.83 L1090.8,280.39 L1090.9,280.95 L1091.0,281.51 L1091.1,282.07 L1091.2,282.63 L1091.2,283.20 L1091.3,283.76 L1091.4,284.33 L1091.5,284.89 L1091.6,285.46 L1091.7,286.02 L1091.8,286.59 L1091.8,287.15 L1091.9,287.72 L1092.0,288.28 L1092.1,288.85 L1092.2,289.42 L1092.2,289.98 L1092.3,290.55 L1092.4,291.12 L1092.5,291.68 L1092.5,292.25 L1092.6,292.82 L1092.7,293.39 L1092.8,293.95 L1092.8,294.52 L1092.9,295.09 L1093.0,295.65 L1093.1,296.22 L1093.1,296.79 L1093.2,297.36 L1093.3,297.92 L1093.4,298.49 L1093.4,299.06 L1093.5,299.62 L1093.6,300.19 L1093.6,300.76 L1093.7,301.32 L1093.8,301.89 L1093.9,302.45 L1093.9,303.02 L1094.0,303.58 L1094.1,304.15 L1094.1,304.71 L1094.2,305.28 L1094.3,305.84 L1094.3,306.40 L1094.4,306.97 L1094.5,307.53 L1094.5,308.09 L1094.6,308.65 L1094.7,309.21 L1094.7,309.77 L1094.8,310.33 L1094.9,310.89 L1094.9,311.45 L1095.0,312.01 L1095.0,312.56 L1095.1,313.12 L1095.2,313.68 L1095.2,314.23 L1095.3,314.79 L1095.4,315.34 L1095.4,315.89 L1095.5,316.45 L1095.5,317.00 L1095.6,317.55 L1095.7,318.10 L1095.7,318.65 L1095.8,319.20 L1095.9,319.74 L1095.9,320.29 L1096.0,320.84 L1096.0,321.38 L1096.1,321.92 L1096.2,322.47 L1096.2,323.01 L1096.3,323.55 L1096.3,324.09 L1096.4,324.63 L1096.5,325.16 L1096.5,325.70 L1096.6,326.24 L1096.6,326.77 L1096.7,327.30 L1096.8,327.84 L1096.8,328.37 L1096.9,328.90 L1096.9,329.42 L1097.0,329.95 L1097.1,330.48 L1097.1,331.00 L1097.2,331.52 L1097.2,332.04 L1097.3,332.57 L1097.4,333.08 L1097.4,333.60 L1097.5,334.12 L1097.5,334.63 L1097.6,335.15 L1097.7,335.66 L1097.7,336.17 L1097.8,336.68 L1097.8,337.18 L1097.9,337.69 L1098.0,338.19 L1098.0,338.69 L1098.1,339.20 L1098.1,339.69 L1098.2,340.19 L1098.3,340.69 L1098.3,341.18 L1098.4,341.67 L1098.5,342.17 L1098.5,342.65 L1098.6,343.14 L1098.6,343.63 L1098.7,344.11 L1098.8,344.60 L1098.8,345.08 L1098.9,345.57 L1099.0,346.05 L1099.0,346.53 L1099.1,347.02 L1099.1,347.50 L1099.2,347.98 L1099.3,348.47 L1099.3,348.95 L1099.4,349.44 L1099.5,349.93 L1099.5,350.42 L1099.6,350.91 L1099.7,351.40 L1099.7,351.89 L1099.8,352.39 L1099.9,352.89 L1099.9,353.39 L1100.0,353.89 L1100.1,354.40 L1100.1,354.90 L1100.2,355.42 L1100.3,355.93 L1100.4,356.45 L1100.4,356.97 L1100.5,357.49 L1100.6,358.02 L1100.6,358.56 L1100.7,359.10 L1100.8,359.64 L1100.9,360.19 L1100.9,360.74 L1101.0,361.29 L1101.1,361.86 L1101.2,362.42 L1101.2,363.00 L1101.3,363.57 L1101.4,364.16 L1101.5,364.75 L1101.5,365.35 L1101.6,365.95 L1101.7,366.56 L1101.8,367.18 L1101.9,367.80 L1101.9,368.43 L1102.0,369.07 L1102.1,369.71 L1102.2,370.37 L1102.3,371.03 L1102.3,371.70 L1102.4,372.37 L1102.5,373.06 L1102.6,373.75 L1102.7,374.46 L1102.8,375.17 L1102.8,375.89 L1102.9,376.62 L1103.0,377.36 L1103.1,378.10 L1103.2,378.85 L1103.3,379.61 L1103.4,380.37 L1103.5,381.12 L1103.6,381.87 L1103.6,382.62 L1103.7,383.36 L1103.8,384.10 L1103.9,384.82 L1104.0,385.53 L1104.1,386.22 L1104.2,386.90 L1104.3,387.55 L1104.4,388.19 L1104.5,388.80 L1104.6,389.39 L1104.7,389.95 L1104.8,390.48 L1104.9,390.99 L1105.0,391.45 L1105.1,391.88 L1105.2,392.28 L1105.3,392.63 L1105.4,392.95 L1105.5,393.22 L1105.6,393.44 L1105.7,393.62 L1105.8,393.75 L1105.9,393.82 L1106.0,393.84 L1106.1,393.81 L1106.2,393.72 L1106.3,393.59 L1106.4,393.40 L1106.5,393.17 L1106.6,392.89 L1106.7,392.57 L1106.8,392.21 L1106.9,391.81 L1107.0,391.37 L1107.1,390.90 L1107.2,390.39 L1107.3,389.86 L1107.4,389.29 L1107.5,388.70 L1107.6,388.08 L1107.7,387.44 L1107.9,386.78 L1108.0,386.10 L1108.1,385.41 L1108.2,384.70 L1108.3,383.97 L1108.4,383.24 L1108.5,382.50 L1108.6,381.75 L1108.7,380.99 L1108.8,380.24 L1108.9,379.48 L1109.0,378.73 L1109.1,377.97 L1109.2,377.23 L1109.3,376.49 L1109.4,375.76 L1109.5,375.04 L1109.6,374.32 L1109.7,373.62 L1109.9,372.92 L1110.0,372.24 L1110.1,371.56 L1110.2,370.89 L1110.3,370.22 L1110.4,369.56 L1110.5,368.92 L1110.6,368.27 L1110.7,367.64 L1110.8,367.01 L1110.9,366.39 L1111.0,365.77 L1111.1,365.16 L1111.2,364.56 L1111.3,363.97 L1111.4,363.37 L1111.5,362.79 L1111.6,362.21 L1111.7,361.64 L1111.8,361.07 L1111.9,360.50 L1112.0,359.94 L1112.1,359.39 L1112.2,358.84 L1112.3,358.29 L1112.4,357.75 L1112.5,357.22 L1112.6,356.68 L1112.7,356.15 L1112.8,355.63 L1112.9,355.10 L1113.0,354.58 L1113.1,354.07 L1113.2,353.55 L1113.3,353.04 L1113.3,352.54 L1113.4,352.03 L1113.5,351.53 L1113.6,351.02 L1113.7,350.52 L1113.8,350.03 L1113.9,349.53 L1114.0,349.04 L1114.1,348.54 L1114.2,348.05 L1114.3,347.56 L1114.3,347.07 L1114.4,346.58 L1114.5,346.09 L1114.6,345.60 L1114.7,345.11 L1114.8,344.62 L1114.8,344.13 L1114.9,343.64 L1115.0,343.14 L1115.1,342.65 L1115.2,342.16 L1115.3,341.67 L1115.3,341.17 L1115.4,340.67 L1115.5,340.18 L1115.6,339.68 L1115.6,339.18 L1115.7,338.67 L1115.8,338.17 L1115.9,337.67 L1115.9,337.16 L1116.0,336.65 L1116.1,336.15 L1116.2,335.64 L1116.2,335.12 L1116.3,334.61 L1116.4,334.10 L1116.4,333.58 L1116.5,333.07 L1116.6,332.55 L1116.6,332.03 L1116.7,331.52 L1116.8,331.00 L1116.8,330.47 L1116.9,329.95 L1117.0,329.43 L1117.0,328.90 L1117.1,328.38 L1117.2,327.85 L1117.2,327.33 L1117.3,326.80 L1117.4,326.27 L1117.4,325.74 L1117.5,325.21 L1117.5,324.67 L1117.6,324.14 L1117.7,323.61 L1117.7,323.07 L1117.8,322.54 L1117.9,322.00 L1117.9,321.46 L1118.0,320.92 L1118.1,320.39 L1118.1,319.85 L1118.2,319.31 L1118.2,318.77 L1118.3,318.22 L1118.4,317.68 L1118.4,317.14 L1118.5,316.59 L1118.6,316.05 L1118.6,315.50 L1118.7,314.96 L1118.7,314.41 L1118.8,313.86 L1118.9,313.32 L1118.9,312.77 L1119.0,312.22 L1119.1,311.67 L1119.1,311.12 L1119.2,310.57 L1119.3,310.02 L1119.3,309.47 L1119.4,308.92 L1119.5,308.37 L1119.5,307.81 L1119.6,307.26 L1119.7,306.71 L1119.7,306.15 L1119.8,305.60 L1119.9,305.05 L1119.9,304.49 L1120.0,303.94 L1120.1,303.38 L1120.2,302.83 L1120.2,302.27 L1120.3,301.71 L1120.4,301.16 L1120.5,300.60 L1120.5,300.04 L1120.6,299.49 L1120.7,298.93 L1120.8,298.37 L1120.8,297.82 L1120.9,297.26 L1121.0,296.70 L1121.1,296.14 L1121.2,295.59 L1121.2,295.03 L1121.3,294.47 L1121.4,293.91 L1121.5,293.35 L1121.6,292.80 L1121.7,292.24 L1121.7,291.68 L1121.8,291.12 L1121.9,290.57 L1122.0,290.01 L1122.1,289.45 L1122.2,288.89 L1122.3,288.34 L1122.4,287.78 L1122.5,287.22 L1122.6,286.67 L1122.7,286.11 L1122.8,285.55 L1122.9,285.00 L1123.0,284.44 L1123.1,283.89 L1123.2,283.33 L1123.3,282.78 L1123.4,282.22 L1123.5,281.67 L1123.6,281.11 L1123.7,280.56 L1123.8,280.01 L1123.9,279.45 L1124.1,278.90 L1124.2,278.35 L1124.3,277.80 L1124.4,277.25 L1124.5,276.70 L1124.7,276.15 L1124.8,275.60 L1124.9,275.05 L1125.0,274.50 L1125.2,273.95 L1125.3,273.40 L1125.4,272.86 L1125.6,272.31 L1125.7,271.76 L1125.8,271.22 L1126.0,270.67 L1126.1,270.13 L1126.2,269.58 L1126.4,269.04 L1126.5,268.50 L1126.7,267.95 L1126.8,267.41 L1126.9,266.87 L1127.1,266.32 L1127.2,265.78 L1127.4,265.24 L1127.5,264.70 L1127.7,264.16 L1127.8,263.62 L1128.0,263.08 L1128.1,262.54 L1128.3,262.00 L1128.4,261.46 L1128.6,260.92 L1128.7,260.39 L1128.9,259.85 L1129.1,259.31 L1129.2,258.77 L1129.4,258.24 L1129.5,257.70 L1129.7,257.16 L1129.8,256.63 L1130.0,256.09 L1130.2,255.56 L1130.3,255.02 L1130.5,254.49 L1130.7,253.95 L1130.8,253.42 L1131.0,252.88 L1131.1,252.35 L1131.3,251.82 L1131.5,251.28 L1131.6,250.75 L1131.8,250.22 L1132.0,249.69 L1132.1,249.15 L1132.3,248.62 L1132.5,248.09 L1132.6,247.56 L1132.8,247.03 L1132.9,246.49 L1133.1,245.96 L1133.3,245.43 L1133.4,244.90 L1133.6,244.37 L1133.8,243.84 L1133.9,243.31 L1134.1,242.78 L1134.3,242.25 L1134.4,241.72 L1134.6,241.19 L1134.8,240.66 L1134.9,240.13 L1135.1,239.60 L1135.3,239.07 L1135.4,238.54 L1135.6,238.01 L1135.7,237.48 L1135.9,236.95 L1136.1,236.42 L1136.2,235.90 L1136.4,235.37 L1136.5,234.84 L1136.7,234.31 L1136.9,233.78 L1137.0,233.25 L1137.2,232.72 L1137.3,232.19 L1137.5,231.67 L1137.7,231.14 L1137.8,230.61 L1138.0,230.08 L1138.1,229.55 L1138.3,229.02 L1138.4,228.50 L1138.6,227.97 L1138.7,227.44 L1138.9,226.91 L1139.0,226.38 L1139.2,225.85 L1139.3,225.32 L1139.5,224.79 L1139.6,224.27 L1139.8,223.74 L1139.9,223.21 L1140.0,222.68 L1140.2,222.15 L1140.3,221.62 L1140.5,221.09 L1140.6,220.56 L1140.7,220.03 L1140.9,219.50 L1141.0,218.97 L1141.2,218.44 L1141.3,217.91 L1141.4,217.38 L1141.6,216.85 L1141.7,216.32 L1141.9,215.79 L1142.0,215.26 L1142.1,214.73 L1142.3,214.20 L1142.4,213.67 L1142.5,213.14 L1142.7,212.61 L1142.8,212.08 L1143.0,211.54 L1143.1,211.01 L1143.2,210.48 L1143.4,209.95 L1143.5,209.41 L1143.7,208.88 L1143.8,208.35 L1143.9,207.81 L1144.1,207.28 L1144.2,206.75 L1144.4,206.21 L1144.5,205.68 L1144.7,205.14 L1144.8,204.61 L1145.0,204.07 L1145.1,203.54 L1145.3,203.00 L1145.4,202.47 L1145.6,201.93 L1145.7,201.39 L1145.9,200.86 L1146.0,200.32 L1146.2,199.78 L1146.3,199.24 L1146.5,198.71 L1146.7,198.17 L1146.8,197.63 L1147.0,197.09 L1147.2,196.55 L1147.3,196.01 L1147.5,195.47 L1147.7,194.93 L1147.8,194.39 L1148.0,193.85 L1148.2,193.31 L1148.4,192.77 L1148.5,192.22 L1148.7,191.68 L1148.9,191.14 L1149.1,190.60 L1149.3,190.06 L1149.5,189.51 L1149.7,188.97 L1149.9,188.43 L1150.1,187.89 L1150.2,187.35 L1150.4,186.81 L1150.7,186.26 L1150.9,185.72 L1151.1,185.18 L1151.3,184.64 L1151.5,184.10 L1151.7,183.56 L1151.9,183.02 L1152.1,182.48 L1152.3,181.94 L1152.6,181.41 L1152.8,180.87 L1153.0,180.33 L1153.2,179.80 L1153.5,179.26 L1153.7,178.72 L1153.9,178.19 L1154.2,177.66 L1154.4,177.12 L1154.7,176.59 L1154.9,176.06 L1155.2,175.53 L1155.4,175.00 L1155.7,174.47 L1155.9,173.94 L1156.2,173.41 L1156.4,172.89 L1156.7,172.36 L1157.0,171.84 L1157.2,171.31 L1157.5,170.79 L1157.8,170.27 L1158.0,169.75 L1158.3,169.23 L1158.6,168.71 L1158.9,168.20 L1159.2,167.68 L1159.5,167.17 L1159.8,166.66 L1160.1,166.15 L1160.4,165.64 L1160.7,165.13 L1161.0,164.62 L1161.3,164.12 L1161.6,163.61 L1161.9,163.11 L1162.2,162.61 L1162.5,162.11 L1162.9,161.62 L1163.2,161.12 L1163.5,160.63 L1163.8,160.14 L1164.2,159.65 L1164.5,159.16 L1164.9,158.67 L1165.2,158.19 L1165.6,157.71 L1165.9,157.23 L1166.3,156.75 L1166.6,156.27 L1167.0,155.80 L1167.3,155.32 L1167.7,154.85 L1168.1,154.39 L1168.5,153.92 L1168.8,153.46 L1169.2,152.99 L1169.6,152.53 L1170.0,152.08 L1170.4,151.62 L1170.8,151.17 L1171.2,150.72 L1171.6,150.27 L1172.0,149.83 L1172.4,149.39 L1172.8,148.95 L1173.2,148.51 L1173.7,148.07 L1174.1,147.64 L1174.5,147.21 L1174.9,146.79 L1175.4,146.36 L1175.8,145.94 L1176.3,145.52 L1176.7,145.11 L1177.2,144.69 L1177.6,144.28 L1178.1,143.87 L1178.5,143.47 L1179.0,143.07 L1179.5,142.67 L1180.0,142.27 L1180.4,141.88 L1180.9,141.49 L1181.4,141.11 L1181.9,140.72 L1182.4,140.34 L1182.9,139.97 L1183.4,139.59 L1183.9,139.22 L1184.4,138.86 L1184.9,138.49 L1185.4,138.13 L1186.0,137.78 L1186.5,137.42 L1187.0,137.07 L1187.5,136.73 L1188.1,136.38 L1188.6,136.04 L1189.2,135.71 L1189.7,135.38 L1190.3,135.05 L1190.8,134.72 L1191.4,134.40 L1191.9,134.09 L1192.5,133.77 L1193.1,133.46 L1193.6,133.16 L1194.2,132.85 L1194.8,132.56 L1195.4,132.26 L1195.9,131.97 L1196.5,131.69 L1197.1,131.40 L1197.7,131.13 L1198.3,130.85 L1198.9,130.58 L1199.5,130.32 L1200.1,130.05 L1200.7,129.80 L1201.3,129.54 L1201.9,129.29 L1202.6,129.05 L1203.2,128.81 L1203.8,128.57 L1204.4,128.34 L1205.0,128.12 L1205.7,127.89 L1206.3,127.68 L1206.9,127.46 L1207.6,127.25 L1208.2,127.05 L1208.8,126.85 L1209.5,126.65 L1210.1,126.46 L1210.8,126.28 L1211.4,126.10 L1212.1,125.92 L1212.7,125.75 L1213.4,125.58 L1214.1,125.42 L1214.7,125.26 L1215.4,125.11 L1216.0,124.97 L1216.7,124.82 L1217.4,124.69 L1218.1,124.56 L1218.7,124.43 L1219.4,124.31 L1220.1,124.19 L1220.8,124.07 L1221.4,123.96 L1222.1,123.86 L1222.8,123.76 L1223.5,123.66 L1224.2,123.57 L1224.9,123.48 L1225.5,123.40 L1226.2,123.31 L1226.9,123.24 L1227.6,123.16 L1228.3,123.09 L1229.0,123.02 L1229.7,122.96 L1230.4,122.90 L1231.1,122.84 L1231.8,122.78 L1232.5,122.73 L1233.2,122.68 L1233.9,122.63 L1234.6,122.59 L1235.3,122.55 L1236.0,122.51 L1236.7,122.47 L1237.5,122.43 L1238.2,122.40 L1238.9,122.37 L1239.6,122.34 L1240.3,122.31 L1241.0,122.28 L1241.7,122.26 L1242.4,122.23 L1243.1,122.21 L1243.8,122.19 L1244.6,122.17 L1245.3,122.15 L1246.0,122.13 L1246.7,122.12 L1247.4,122.10 L1248.1,122.08 L1248.8,122.07 L1249.5,122.05 L1250.3,122.04 L1251.0,122.03 L1251.7,122.01 L1252.4,122.00 L1253.1,121.98 L1253.8,121.97 L1254.5,121.96 L1255.2,121.94 L1255.9,121.93 L1256.7,121.91 L1257.4,121.90 L1258.1,121.88 L1258.8,121.86 L1259.5,121.85 L1260.2,121.83 L1260.9,121.81 L1261.6,121.78 L1262.3,121.76 L1263.0,121.74 L1263.7,121.71 L1264.4,121.68 L1265.1,121.66 L1265.8,121.63 L1266.5,121.59 L1267.2,121.56 L1267.9,121.53 L1268.6,121.49 L1269.3,121.45 L1270.0,121.42 L1270.7,121.38 L1271.4,121.35 L1272.1,121.31 L1272.8,121.28 L1273.5,121.24 L1274.1,121.21 L1274.8,121.18 L1275.5,121.15 L1276.2,121.12 L1276.9,121.09 L1277.6,121.07 L1278.3,121.05 L1279.0,121.03 L1279.7,121.02 L1280.4,121.00 L1281.1,121.00 L1281.7,120.99 L1282.4,120.99 L1283.1,121.00 L1283.8,121.00 L1284.5,121.02 L1285.2,121.04 L1285.9,121.06 L1286.6,121.09 L1287.3,121.12 L1288.0,121.16 L1288.7,121.21 L1289.4,121.26 L1290.1,121.32 L1290.8,121.39 L1291.5,121.46 L1292.2,121.55 L1292.9,121.64 L1293.6,121.73 L1294.3,121.84 L1295.0,121.95 L1295.7,122.07 L1296.4,122.21"/>
<path stroke="#00CC00" d="M70.8,58.43 L71.3,58.43 L71.8,58.43 L72.3,58.43 L72.8,58.43 L73.3,58.43 L73.8,58.43 L74.3,58.43 L74.8,58.43 L75.3,58.43 L75.8,58.43 L76.3,58.43 L76.8,58.43 L77.3,58.43 L77.8,58.43 L78.3,58.43 L78.8,58.43 L79.3,58.43 L79.8,58.43 L80.3,58.43 L80.8,58.43 L81.3,58.43 L81.8,58.43 L82.3,58.43 L82.8,58.43 L83.3,58.43 L83.8,58.43 L84.3,58.43 L84.8,58.43 L85.3,58.42 L85.8,58.42 L86.3,58.40 L86.8,58.38 L87.3,58.36 L87.8,58.32 L88.3,58.29 L88.8,58.24 L89.3,58.19 L89.8,58.14 L90.3,58.08 L90.8,58.02 L91.3,57.95 L91.8,57.87 L92.3,57.79 L92.8,57.71 L93.3,57.62 L93.8,57.53 L94.3,57.43 L94.8,57.33 L95.3,57.23 L95.8,57.12 L96.3,57.01 L96.8,56.90 L97.3,56.77 L97.8,56.56 L98.3,56.29 L98.8,55.97 L99.3,55.60 L99.8,55.20 L100.3,54.77 L100.8,54.34 L101.3,53.91 L101.8,53.50 L102.3,53.11 L102.8,52.76 L103.3,52.45 L103.8,52.20 L104.3,52.02 L104.8,51.84 L105.3,51.66 L105.8,51.48 L106.3,51.31 L106.8,51.15 L107.3,50.99 L107.8,50.85 L108.3,50.71 L108.8,50.59 L109.3,50.47 L109.8,50.38 L110.3,50.30 L110.8,50.23 L111.3,50.19 L111.8,50.16 L112.3,50.15 L112.8,50.15 L113.3,50.14 L113.8,50.14 L114.3,50.13 L114.8,50.12 L115.3,50.12 L115.8,50.11 L116.3,50.11 L116.8,50.10 L117.3,50.10 L117.8,50.09 L118.3,50.09 L118.8,50.08 L119.3,50.08 L119.8,50.08 L120.3,50.07 L120.8,50.07 L121.3,50.06 L121.8,50.06 L122.3,50.06 L122.8,50.05 L123.3,50.05 L123.8,50.05 L124.3,50.04 L124.8,50.04 L125.3,50.04 L125.8,50.04 L126.3,50.03 L126.8,50.03 L127.3,50.03 L127.8,50.03 L128.3,50.02 L128.8,50.02 L129.3,50.02 L129.8,50.02 L130.3,50.02 L130.8,50.01 L131.3,50.01 L131.8,50.01 L132.3,50.01 L132.8,50.01 L133.3,50.01 L133.8,50.01 L134.3,50.01 L134.8,50.00 L135.3,50.00 L135.8,50.00 L136.3,50.00 L136.8,50.00 L137.3,50.00 L137.8,50.00 L138.3,50.00 L138.8,50.00 L139.3,50.00 L139.8,50.00 L140.0,50.00 L140.7,50.00 L141.4,50.03 L142.0,50.12 L142.7,50.26 L143.4,50.45 L144.1,50.66 L144.7,50.90 L145.4,51.15 L146.1,51.39 L146.8,51.64 L147.4,51.86 L148.1,52.07 L148.8,52.26 L149.5,52.42 L150.1,52.55 L150.8,52.67 L151.5,52.78 L152.2,52.89 L152.8,53.00 L153.5,53.11 L154.2,53.22 L154.9,53.33 L155.5,53.44 L156.2,53.55 L156.9,53.67 L157.6,53.79 L158.3,53.91 L158.9,54.03 L159.6,54.16 L160.3,54.29 L161.0,54.42 L161.7,54.56 L162.3,54.70 L163.0,54.85 L163.7,55.01 L164.4,55.16 L165.1,55.32 L165.7,55.48 L166.4,55.65 L167.1,55.81 L167.8,55.97 L168.5,56.14 L169.1,56.31 L169.8,56.47 L170.5,56.64 L171.2,56.81 L171.9,56.98 L172.6,57.15 L173.3,57.32 L173.9,57.50 L174.6,57.67 L175.3,57.84 L176.0,58.01 L176.7,58.19 L177.4,58.36 L178.1,58.54 L178.7,58.71 L179.4,58.89 L180.1,59.06 L180.8,59.24 L181.5,59.42 L182.2,59.59 L182.9,59.77 L183.6,59.94 L184.2,60.12 L184.9,60.29 L185.6,60.47 L186.3,60.64 L187.0,60.82 L187.7,60.99 L188.4,61.17 L189.0,61.34 L189.7,61.51 L190.4,61.69 L191.1,61.86 L191.8,62.03 L192.5,62.20 L193.1,62.37 L193.8,62.54 L194.5,62.71 L195.2,62.88 L195.9,63.04 L196.5,63.21 L197.2,63.37 L197.9,63.54 L198.6,63.70 L199.3,63.86 L199.9,64.02 L200.6,64.18 L201.3,64.33 L202.0,64.49 L202.6,64.64 L203.3,64.80 L204.0,64.95 L204.7,65.10 L205.3,65.24 L206.0,65.39 L206.7,65.54 L207.3,65.68 L208.0,65.82 L208.7,65.96 L209.3,66.10 L210.0,66.24 L210.7,66.37 L211.3,66.51 L212.0,66.65 L212.6,66.78 L213.3,66.92 L214.0,67.05 L214.6,67.19 L215.3,67.32 L215.9,67.46 L216.6,67.59 L217.2,67.73 L217.9,67.87 L218.5,68.00 L219.2,68.14 L219.8,68.28 L220.5,68.42 L221.1,68.57 L221.7,68.71 L222.4,68.86 L223.0,69.00 L223.7,69.15 L224.3,69.30 L224.9,69.46 L225.6,69.62 L226.2,69.78 L226.8,69.94 L227.4,70.10 L228.1,70.27 L228.7,70.44 L229.3,70.62 L229.9,70.79 L230.6,70.98 L231.2,71.16 L231.8,71.35 L232.4,71.54 L233.0,71.74 L233.6,71.94 L234.2,72.15 L234.8,72.36 L235.4,72.58 L236.0,72.80 L236.6,73.02 L237.2,73.25 L237.8,73.49 L238.4,73.73 L239.0,73.97 L239.6,74.23 L240.2,74.48 L240.8,74.74 L241.4,75.01 L241.9,75.28 L242.5,75.55 L243.1,75.83 L243.7,76.11 L244.2,76.40 L244.8,76.69 L245.4,76.99 L245.9,77.29 L246.5,77.60 L247.1,77.91 L247.6,78.22 L248.2,78.54 L248.7,78.86 L249.3,79.19 L249.8,79.52 L250.4,79.85 L250.9,80.19 L251.5,80.53 L252.0,80.88 L252.5,81.23 L253.1,81.58 L253.6,81.94 L254.1,82.30 L254.7,82.67 L255.2,83.03 L255.7,83.41 L256.2,83.78 L256.7,84.16 L257.3,84.54 L257.8,84.93 L258.3,85.32 L258.8,85.71 L259.3,86.10 L259.8,86.50 L260.3,86.90 L260.8,87.31 L261.3,87.71 L261.7,88.12 L262.2,88.54 L262.7,88.95 L263.2,89.37 L263.7,89.79 L264.2,90.22 L264.6,90.64 L265.1,91.07 L265.6,91.51 L266.0,91.94 L266.5,92.38 L266.9,92.82 L267.4,93.26 L267.8,93.70 L268.3,94.15 L268.7,94.60 L269.2,95.05 L269.6,95.50 L270.1,95.95 L270.5,96.41 L270.9,96.87 L271.3,97.33 L271.8,97.79 L272.2,98.26 L272.6,98.73 L273.0,99.19 L273.4,99.66 L273.8,100.13 L274.2,100.61 L274.6,101.08 L275.0,101.56 L275.4,102.04 L275.8,102.51 L276.2,103.00 L276.6,103.48 L277.0,103.96 L277.4,104.44 L277.7,104.93 L278.1,105.42 L278.5,105.90 L278.8,106.39 L279.2,106.88 L279.6,107.37 L279.9,107.86 L280.3,108.36 L280.6,108.85 L281.0,109.34 L281.3,109.84 L281.6,110.33 L282.0,110.83 L282.3,111.32 L282.6,111.82 L282.9,112.32 L283.3,112.82 L283.6,113.31 L283.9,113.81 L284.2,114.31 L284.5,114.81 L284.8,115.31 L285.1,115.81 L285.4,116.31 L285.7,116.81 L286.0,117.31 L286.3,117.82 L286.6,118.32 L286.8,118.82 L287.1,119.32 L287.4,119.83 L287.7,120.33 L287.9,120.84 L288.2,121.34 L288.4,121.85 L288.7,122.35 L289.0,122.86 L289.2,123.37 L289.5,123.87 L289.7,124.38 L290.0,124.89 L290.2,125.40 L290.4,125.91 L290.7,126.41 L290.9,126.92 L291.2,127.43 L291.4,127.94 L291.6,128.46 L291.8,128.97 L292.1,129.48 L292.3,129.99 L292.5,130.50 L292.7,131.01 L292.9,131.53 L293.2,132.04 L293.4,132.55 L293.6,133.07 L293.8,133.58 L294.0,134.10 L294.2,134.61 L294.4,135.13 L294.6,135.64 L294.8,136.16 L295.0,136.68 L295.2,137.19 L295.4,137.71 L295.6,138.23 L295.8,138.75 L296.0,139.27 L296.2,139.79 L296.4,140.30 L296.5,140.82 L296.7,141.34 L296.9,141.86 L297.1,142.38 L297.3,142.91 L297.5,143.43 L297.6,143.95 L297.8,144.47 L298.0,144.99 L298.2,145.51 L298.4,146.04 L298.5,146.56 L298.7,147.08 L298.9,147.61 L299.1,148.13 L299.2,148.66 L299.4,149.18 L299.6,149.71 L299.8,150.23 L299.9,150.76 L300.1,151.29 L300.3,151.81 L300.4,152.34 L300.6,152.87 L300.8,153.39 L301.0,153.92 L301.1,154.45 L301.3,154.98 L301.5,155.51 L301.6,156.03 L301.8,156.56 L302.0,157.09 L302.2,157.62 L302.3,158.15 L302.5,158.68 L302.7,159.21 L302.8,159.75 L303.0,160.28 L303.2,160.81 L303.4,161.34 L303.5,161.87 L303.7,162.40 L303.9,162.94 L304.1,163.47 L304.2,164.00 L304.4,164.54 L304.6,165.07 L304.8,165.60 L304.9,166.14 L305.1,166.67 L305.3,167.21 L305.5,167.74 L305.7,168.28 L305.8,168.81 L306.0,169.35 L306.2,169.89 L306.4,170.42 L306.6,170.96 L306.8,171.50 L306.9,172.03 L307.1,172.57 L307.3,173.11 L307.5,173.65 L307.7,174.18 L307.9,174.72 L308.0,175.26 L308.2,175.80 L308.4,176.34 L308.6,176.88 L308.8,177.42 L309.0,177.96 L309.1,178.50 L309.3,179.04 L309.5,179.58 L309.7,180.12 L309.9,180.66 L310.0,181.20 L310.2,181.74 L310.4,182.28 L310.6,182.82 L310.7,183.36 L310.9,183.91 L311.1,184.45 L311.3,184.99 L311.4,185.53 L311.6,186.08 L311.8,186.62 L311.9,187.16 L312.1,187.71 L312.3,188.25 L312.4,188.79 L312.6,189.34 L312.8,189.88 L312.9,190.43 L313.1,190.97 L313.2,191.52 L313.4,192.06 L313.6,192.61 L313.7,193.15 L313.9,193.70 L314.0,194.24 L314.2,194.79 L314.3,195.33 L314.4,195.88 L314.6,196.43 L314.7,196.97 L314.9,197.52 L315.0,198.07 L315.1,198.61 L315.3,199.16 L315.4,199.71 L315.5,200.26 L315.6,200.80 L315.8,201.35 L315.9,201.90 L316.0,202.45 L316.1,202.99 L316.2,203.54 L316.4,204.09 L316.5,204.64 L316.6,205.19 L316.7,205.73 L316.8,206.28 L316.9,206.83 L317.0,207.38 L317.1,207.92 L317.2,208.47 L317.3,209.02 L317.4,209.57 L317.5,210.11 L317.6,210.66 L317.7,211.21 L317.8,211.75 L317.9,212.30 L318.0,212.85 L318.1,213.39 L318.2,213.94 L318.3,214.48 L318.3,215.03 L318.4,215.57 L318.5,216.12 L318.6,216.66 L318.7,217.20 L318.8,217.75 L318.9,218.29 L319.0,218.83 L319.1,219.38 L319.1,219.92 L319.2,220.46 L319.3,221.00 L319.4,221.54 L319.5,222.08 L319.6,222.62 L319.7,223.16 L319.7,223.70 L319.8,224.23 L319.9,224.77 L320.0,225.31 L320.1,225.84 L320.2,226.38 L320.3,226.91 L320.3,227.45 L320.4,227.98 L320.5,228.51 L320.6,229.05 L320.7,229.58 L320.8,230.11 L320.9,230.64 L321.0,231.17 L321.1,231.70 L321.2,232.22 L321.3,232.75 L321.4,233.28 L321.5,233.80 L321.6,234.33 L321.7,234.85 L321.8,235.37 L321.9,235.89 L322.0,236.41 L322.1,236.93 L322.2,237.45 L322.3,237.97 L322.4,238.49 L322.5,239.00 L322.6,239.52 L322.8,240.03 L322.9,240.55 L323.0,241.06 L323.1,241.57 L323.2,242.08 L323.4,242.59 L323.5,243.10 L323.6,243.60 L323.8,244.11 L323.9,244.61 L324.0,245.11 L324.2,245.62 L324.3,246.12 L324.5,246.62 L324.6,247.13 L324.7,247.64 L324.9,248.15 L325.0,248.66 L325.2,249.17 L325.4,249.69 L325.5,250.21 L325.7,250.74 L325.8,251.28 L326.0,251.82 L326.2,252.36 L326.3,252.92 L326.5,253.48 L326.7,254.05 L326.8,254.62 L327.0,255.21 L327.2,255.81 L327.3,256.41 L327.5,257.03 L327.7,257.66 L327.9,258.30 L328.1,258.95 L328.2,259.62 L328.4,260.29 L328.6,260.99 L328.8,261.69 L329.0,262.41 L329.2,263.14 L329.4,263.87 L329.5,264.61 L329.7,265.35 L329.9,266.09 L330.1,266.83 L330.3,267.56 L330.5,268.29 L330.7,269.02 L330.9,269.73 L331.1,270.43 L331.3,271.12 L331.5,271.79 L331.7,272.44 L331.9,273.08 L332.1,273.69 L332.3,274.27 L332.5,274.83 L332.7,275.36 L332.9,275.86 L333.1,276.33 L333.3,276.76 L333.5,277.16 L333.7,277.52 L333.9,277.83 L334.1,278.10 L334.3,278.33 L334.5,278.51 L334.7,278.64 L334.9,278.72 L335.1,278.74 L335.3,278.71 L335.5,278.62 L335.7,278.48 L335.9,278.29 L336.2,278.04 L336.4,277.75 L336.6,277.42 L336.8,277.04 L337.0,276.63 L337.2,276.18 L337.4,275.69 L337.6,275.17 L337.8,274.63 L338.0,274.05 L338.2,273.46 L338.4,272.84 L338.6,272.20 L338.8,271.55 L339.0,270.89 L339.2,270.21 L339.3,269.52 L339.5,268.83 L339.7,268.14 L339.9,267.45 L340.1,266.76 L340.3,266.07 L340.5,265.39 L340.7,264.72 L340.9,264.06 L341.1,263.41 L341.3,262.78 L341.4,262.15 L341.6,261.53 L341.8,260.93 L342.0,260.33 L342.2,259.75 L342.4,259.17 L342.5,258.60 L342.7,258.03 L342.9,257.48 L343.1,256.93 L343.2,256.39 L343.4,255.85 L343.6,255.32 L343.8,254.79 L343.9,254.27 L344.1,253.75 L344.3,253.24 L344.4,252.73 L344.6,252.22 L344.8,251.71 L345.0,251.21 L345.1,250.71 L345.3,250.21 L345.5,249.71 L345.6,249.20 L345.8,248.70 L345.9,248.20 L346.1,247.70 L346.3,247.19 L346.4,246.69 L346.6,246.18 L346.8,245.67 L346.9,245.15 L347.1,244.64 L347.2,244.12 L347.4,243.59 L347.5,243.07 L347.7,242.54 L347.9,242.02 L348.0,241.49 L348.2,240.95 L348.3,240.42 L348.5,239.88 L348.6,239.35 L348.8,238.81 L348.9,238.27 L349.1,237.73 L349.3,237.18 L349.4,236.64 L349.6,236.09 L349.7,235.55 L349.9,235.00 L350.0,234.45 L350.2,233.90 L350.3,233.36 L350.5,232.81 L350.6,232.26 L350.8,231.71 L350.9,231.15 L351.1,230.60 L351.2,230.05 L351.4,229.50 L351.5,228.95 L351.7,228.40 L351.8,227.85 L352.0,227.30 L352.1,226.75 L352.3,226.21 L352.4,225.66 L352.6,225.11 L352.7,224.57 L352.9,224.02 L353.0,223.48 L353.1,222.93 L353.3,222.39 L353.4,221.85 L353.6,221.31 L353.7,220.77 L353.9,220.23 L354.0,219.70 L354.2,219.16 L354.3,218.62 L354.5,218.09 L354.6,217.56 L354.8,217.02 L354.9,216.49 L355.1,215.96 L355.2,215.43 L355.4,214.90 L355.5,214.37 L355.7,213.84 L355.8,213.31 L356.0,212.78 L356.1,212.25 L356.3,211.72 L356.4,211.20 L356.6,210.67 L356.7,210.14 L356.9,209.62 L357.0,209.09 L357.2,208.57 L357.3,208.04 L357.5,207.52 L357.6,206.99 L357.8,206.47 L358.0,205.95 L358.1,205.42 L358.3,204.90 L358.4,204.38 L358.6,203.85 L358.7,203.33 L358.9,202.81 L359.1,202.28 L359.2,201.76 L359.4,201.24 L359.5,200.71 L359.7,200.19 L359.8,199.66 L360.0,199.14 L360.2,198.62 L360.3,198.09 L360.5,197.57 L360.7,197.04 L360.8,196.52 L361.0,195.99 L361.2,195.47 L361.3,194.94 L361.5,194.42 L361.7,193.89 L361.8,193.36 L362.0,192.83 L362.2,192.31 L362.3,191.78 L362.5,191.25 L362.7,190.72 L362.8,190.19 L363.0,189.66 L363.2,189.12 L363.4,188.59 L363.5,188.06 L363.7,187.53 L363.9,186.99 L364.1,186.46 L364.3,185.93 L364.4,185.39 L364.6,184.86 L364.8,184.32 L365.0,183.79 L365.2,183.25 L365.4,182.71 L365.5,182.18 L365.7,181.64 L365.9,181.10 L366.1,180.57 L366.3,180.03 L366.5,179.49 L366.7,178.95 L366.9,178.42 L367.1,177.88 L367.3,177.34 L367.4,176.80 L367.6,176.26 L367.8,175.72 L368.0,175.19 L368.2,174.65 L368.4,174.11 L368.6,173.57 L368.8,173.03 L369.0,172.49 L369.2,171.96 L369.4,171.42 L369.6,170.88 L369.9,170.34 L370.1,169.80 L370.3,169.27 L370.5,168.73 L370.7,168.19 L370.9,167.66 L371.1,167.12 L371.3,166.58 L371.5,166.05 L371.7,165.51 L372.0,164.97 L372.2,164.44 L372.4,163.91 L372.6,163.37 L372.8,162.84 L373.1,162.30 L373.3,161.77 L373.5,161.24 L373.7,160.71 L373.9,160.17 L374.2,159.64 L374.4,159.11 L374.6,158.58 L374.9,158.05 L375.1,157.52 L375.3,157.00 L375.5,156.47 L375.8,155.94 L376.0,155.41 L376.2,154.89 L376.5,154.36 L376.7,153.84 L377.0,153.32 L377.2,152.79 L377.4,152.27 L377.7,151.75 L377.9,151.23 L378.2,150.71 L378.4,150.19 L378.7,149.68 L378.9,149.16 L379.2,148.64 L379.4,148.13 L379.6,147.61 L379.9,147.10 L380.2,146.59 L380.4,146.08 L380.7,145.57 L380.9,145.06 L381.2,144.55 L381.4,144.04 L381.7,143.54 L382.0,143.03 L382.2,142.53 L382.5,142.03 L382.8,141.53 L383.0,141.03 L383.3,140.53 L383.6,140.03 L383.9,139.54 L384.1,139.05 L384.4,138.55 L384.7,138.06 L385.0,137.57 L385.3,137.08 L385.6,136.60 L385.9,136.11 L386.2,135.63 L386.5,135.15 L386.8,134.67 L387.1,134.19 L387.4,133.71 L387.7,133.24 L388.1,132.76 L388.4,132.29 L388.7,131.82 L389.1,131.36 L389.4,130.89 L389.7,130.43 L390.1,129.96 L390.4,129.50 L390.8,129.05 L391.1,128.59 L391.5,128.14 L391.9,127.68 L392.3,127.23 L392.6,126.79 L393.0,126.34 L393.4,125.90 L393.8,125.46 L394.2,125.02 L394.6,124.58 L395.0,124.14 L395.4,123.71 L395.8,123.28 L396.3,122.85 L396.7,122.43 L397.1,122.01 L397.6,121.59 L398.0,121.17 L398.5,120.75 L398.9,120.34 L399.4,119.93 L399.9,119.52 L400.3,119.12 L400.8,118.71 L401.3,118.31 L401.8,117.92 L402.3,117.52 L402.8,117.13 L403.3,116.74 L403.8,116.36 L404.3,115.97 L404.8,115.59 L405.3,115.22 L405.9,114.84 L406.4,114.47 L406.9,114.10 L407.4,113.73 L408.0,113.37 L408.5,113.01 L409.1,112.66 L409.6,112.30 L410.2,111.95 L410.7,111.60 L411.3,111.26 L411.9,110.92 L412.4,110.58 L413.0,110.25 L413.6,109.92 L414.1,109.59 L414.7,109.26 L415.3,108.94 L415.9,108.63 L416.5,108.31 L417.1,108.00 L417.7,107.69 L418.3,107.39 L418.9,107.09 L419.5,106.79 L420.1,106.50 L420.7,106.21 L421.3,105.92 L421.9,105.64 L422.5,105.36 L423.1,105.09 L423.8,104.82 L424.4,104.55 L425.0,104.29 L425.6,104.03 L426.3,103.77 L426.9,103.52 L427.5,103.27 L428.2,103.03 L428.8,102.79 L429.4,102.55 L430.1,102.32 L430.7,102.09 L431.3,101.87 L432.0,101.65 L432.6,101.44 L433.3,101.22 L433.9,101.02 L434.6,100.81 L435.2,100.61 L435.9,100.42 L436.5,100.23 L437.2,100.04 L437.8,99.85 L438.5,99.67 L439.1,99.50 L439.8,99.32 L440.4,99.15 L441.1,98.99 L441.8,98.83 L442.4,98.67 L443.1,98.51 L443.7,98.36 L444.4,98.21 L445.1,98.07 L445.7,97.93 L446.4,97.79 L447.1,97.66 L447.8,97.53 L448.4,97.40 L449.1,97.28 L449.8,97.15 L450.4,97.04 L451.1,96.92 L451.8,96.81 L452.5,96.71 L453.2,96.60 L453.8,96.50 L454.5,96.40 L455.2,96.31 L455.9,96.21 L456.6,96.13 L457.2,96.04 L457.9,95.96 L458.6,95.88 L459.3,95.80 L460.0,95.72 L460.7,95.65 L461.4,95.58 L462.0,95.52 L462.7,95.46 L463.4,95.40 L464.1,95.34 L464.8,95.28 L465.5,95.23 L466.2,95.18 L466.9,95.13 L467.6,95.09 L468.3,95.05 L469.0,95.01 L469.7,94.97 L470.4,94.94 L471.1,94.90 L471.8,94.87 L472.5,94.85 L473.2,94.82 L473.9,94.80 L474.6,94.78 L475.3,94.76 L476.0,94.75 L476.7,94.73 L477.4,94.72 L478.1,94.71 L478.8,94.70 L479.5,94.70 L480.2,94.70 L480.9,94.70 L481.6,94.70 L482.3,94.70 L483.0,94.70 L483.7,94.71 L484.4,94.72 L485.1,94.73 L485.8,94.74 L486.5,94.76 L487.2,94.77 L487.9,94.79 L488.6,94.81 L489.4,94.83 L490.1,94.85 L490.8,94.88 L491.5,94.91 L492.2,94.93 L492.9,94.96 L493.6,94.99 L494.3,95.03 L495.0,95.06 L495.7,95.09 L496.4,95.13 L497.2,95.17 L497.9,95.21 L498.6,95.25 L499.3,95.29 L500.0,95.33 L500.7,95.38 L501.4,95.42 L502.1,95.47 L502.8,95.52 L503.5,95.57 L504.3,95.62 L505.0,95.67 L505.7,95.73 L506.4,95.78 L507.1,95.84 L507.8,95.89 L508.5,95.95 L509.2,96.01 L509.9,96.07 L510.6,96.13 L511.3,96.20 L512.1,96.26 L512.8,96.33 L513.5,96.40 L514.2,96.47 L514.9,96.54 L515.6,96.61 L516.3,96.69 L517.0,96.76 L517.7,96.84 L518.4,96.92 L519.1,97.00 L519.8,97.08 L520.5,97.16 L521.2,97.25 L521.9,97.33 L522.6,97.42 L523.3,97.51 L524.0,97.60 L524.7,97.69 L525.4,97.79 L526.1,97.88 L526.8,97.98 L527.5,98.08 L528.2,98.18 L528.9,98.28 L529.6,98.39 L530.3,98.50 L531.0,98.60 L531.7,98.71 L532.4,98.83 L533.1,98.94 L533.8,99.05 L534.5,99.17 L535.2,99.29 L535.8,99.41 L536.5,99.53 L537.2,99.66 L537.9,99.78 L538.6,99.91 L539.3,100.04 L540.0,100.17 L540.6,100.31 L541.3,100.44 L542.0,100.58 L542.7,100.72 L543.4,100.86 L544.0,101.01 L544.7,101.15 L545.4,101.30 L546.1,101.45 L546.7,101.60 L547.4,101.76 L548.1,101.91 L548.7,102.07 L549.4,102.23 L550.1,102.40 L550.7,102.56 L551.4,102.73 L552.1,102.90 L552.7,103.07 L553.4,103.24 L554.1,103.42 L554.7,103.60 L555.4,103.78 L556.0,103.96 L556.7,104.14 L557.3,104.33 L558.0,104.52 L558.6,104.71 L559.3,104.90 L559.9,105.10 L560.6,105.30 L561.2,105.50 L561.8,105.70 L562.5,105.91 L563.1,106.12 L563.8,106.33 L564.4,106.54 L565.0,106.76 L565.7,106.97 L566.3,107.19 L566.9,107.42 L567.5,107.64 L568.2,107.87 L568.8,108.10 L569.4,108.33 L570.0,108.57 L570.6,108.81 L571.3,109.05 L571.9,109.29 L572.5,109.53 L573.1,109.78 L573.7,110.03 L574.3,110.29 L574.9,110.54 L575.5,110.80 L576.1,111.06 L576.7,111.33 L577.3,111.59 L577.9,111.86 L578.5,112.14 L579.1,112.41 L579.7,112.69 L580.3,112.97 L580.8,113.25 L581.4,113.54 L582.0,113.83 L582.6,114.12 L583.1,114.42 L583.7,114.71 L584.3,115.01 L584.9,115.32 L585.4,115.62 L586.0,115.93 L586.6,116.24 L587.1,116.56 L587.7,116.88 L588.2,117.20 L588.8,117.52 L589.3,117.85 L589.9,118.18 L590.4,118.51 L591.0,118.85 L591.5,119.18 L592.0,119.53 L592.6,119.87 L593.1,120.22 L593.6,120.57 L594.2,120.92 L594.7,121.28 L595.2,121.64 L595.7,122.00 L596.2,122.37 L596.8,122.74 L597.3,123.11 L597.8,123.48 L598.3,123.86 L598.8,124.24 L599.3,124.62 L599.8,125.01 L600.3,125.39 L600.8,125.79 L601.3,126.18 L601.7,126.57 L602.2,126.97 L602.7,127.37 L603.2,127.78 L603.7,128.18 L604.1,128.59 L604.6,129.00 L605.1,129.41 L605.5,129.83 L606.0,130.25 L606.4,130.67 L606.9,131.09 L607.3,131.51 L607.8,131.94 L608.2,132.37 L608.7,132.80 L609.1,133.23 L609.5,133.67 L610.0,134.11 L610.4,134.55 L610.8,134.99 L611.2,135.43 L611.7,135.88 L612.1,136.33 L612.5,136.78 L612.9,137.23 L613.3,137.68 L613.7,138.14 L614.1,138.60 L614.5,139.06 L614.9,139.52 L615.3,139.98 L615.6,140.45 L616.0,140.91 L616.4,141.38 L616.8,141.85 L617.1,142.32 L617.5,142.80 L617.9,143.27 L618.2,143.75 L618.6,144.23 L618.9,144.71 L619.3,145.19 L619.6,145.67 L620.0,146.15 L620.3,146.64 L620.6,147.13 L621.0,147.62 L621.3,148.10 L621.6,148.60 L621.9,149.09 L622.2,149.58 L622.5,150.08 L622.8,150.57 L623.1,151.07 L623.4,151.57 L623.7,152.07 L624.0,152.57 L624.3,153.07 L624.6,153.57 L624.9,154.08 L625.2,154.58 L625.4,155.09 L625.7,155.60 L626.0,156.10 L626.2,156.61 L626.5,157.12 L626.8,157.63 L627.0,158.14 L627.3,158.66 L627.6,159.17 L627.8,159.68 L628.1,160.20 L628.3,160.71 L628.6,161.23 L628.8,161.74 L629.1,162.26 L629.3,162.78 L629.5,163.30 L629.8,163.82 L630.0,164.34 L630.3,164.86 L630.5,165.38 L630.8,165.90 L631.0,166.42 L631.2,166.94 L631.5,167.46 L631.7,167.98 L631.9,168.51 L632.2,169.03 L632.4,169.55 L632.7,170.08 L632.9,170.60 L633.1,171.12 L633.4,171.65 L633.6,172.17 L633.9,172.70 L634.1,173.22 L634.4,173.75 L634.6,174.27 L634.8,174.80 L635.1,175.32 L635.3,175.84 L635.6,176.37 L635.8,176.89 L636.1,177.42 L636.3,177.94 L636.6,178.47 L636.8,178.99 L637.1,179.52 L637.3,180.04 L637.6,180.57 L637.8,181.09 L638.1,181.62 L638.4,182.14 L638.6,182.67 L638.9,183.19 L639.1,183.72 L639.4,184.24 L639.6,184.77 L639.9,185.29 L640.2,185.82 L640.4,186.34 L640.7,186.87 L640.9,187.39 L641.2,187.92 L641.4,188.44 L641.7,188.97 L642.0,189.49 L642.2,190.02 L642.5,190.55 L642.7,191.07 L643.0,191.60 L643.2,192.12 L643.5,192.65 L643.7,193.17 L644.0,193.70 L644.2,194.22 L644.5,194.75 L644.8,195.27 L645.0,195.80 L645.3,196.33 L645.5,196.85 L645.7,197.38 L646.0,197.90 L646.2,198.43 L646.5,198.95 L646.7,199.48 L647.0,200.01 L647.2,200.53 L647.5,201.06 L647.7,201.58 L647.9,202.11 L648.2,202.63 L648.4,203.16 L648.7,203.69 L648.9,204.21 L649.1,204.74 L649.3,205.26 L649.6,205.79 L649.8,206.32 L650.0,206.84 L650.3,207.37 L650.5,207.89 L650.7,208.42 L650.9,208.95 L651.1,209.47 L651.3,210.00 L651.6,210.52 L651.8,211.05 L652.0,211.58 L652.2,212.10 L652.4,212.63 L652.6,213.15 L652.8,213.68 L653.0,214.21 L653.2,214.73 L653.4,215.26 L653.6,215.79 L653.8,216.31 L654.0,216.84 L654.1,217.36 L654.3,217.89 L654.5,218.42 L654.7,218.94 L654.9,219.47 L655.0,219.99 L655.2,220.52 L655.4,221.05 L655.5,221.57 L655.7,222.10 L655.9,222.63 L656.0,223.15 L656.2,223.68 L656.4,224.20 L656.5,224.73 L656.7,225.26 L656.8,225.78 L657.0,226.31 L657.1,226.84 L657.3,227.36 L657.4,227.89 L657.6,228.42 L657.7,228.94 L657.9,229.47 L658.0,229.99 L658.1,230.52 L658.3,231.05 L658.4,231.57 L658.5,232.10 L658.7,232.63 L658.8,233.15 L658.9,233.68 L659.1,234.21 L659.2,234.73 L659.3,235.26 L659.5,235.78 L659.6,236.31 L659.7,236.84 L659.9,237.36 L660.0,237.89 L660.1,238.42 L660.2,238.94 L660.4,239.47 L660.5,240.00 L660.6,240.52 L660.7,241.05 L660.8,241.57 L661.0,242.10 L661.1,242.63 L661.2,243.15 L661.3,243.68 L661.5,244.21 L661.6,244.73 L661.7,245.26 L661.8,245.79 L661.9,246.31 L662.1,246.84 L662.2,247.36 L662.3,247.89 L662.4,248.42 L662.5,248.94 L662.6,249.47 L662.8,250.00 L662.9,250.52 L663.0,251.05 L663.1,251.57 L663.2,252.10 L663.4,252.63 L663.5,253.15 L663.6,253.68 L663.7,254.21 L663.9,254.73 L664.0,255.26 L664.1,255.78 L664.2,256.31 L664.4,256.84 L664.5,257.36 L664.6,257.89 L664.7,258.42 L664.9,258.94 L665.0,259.47 L665.1,259.99 L665.2,260.52 L665.4,261.05 L665.5,261.57 L665.6,262.10 L665.8,262.62 L665.9,263.15 L666.1,263.68 L666.2,264.20 L666.3,264.73 L666.5,265.26 L666.6,265.78 L666.8,266.31 L666.9,266.83 L667.0,267.36 L667.2,267.88 L667.3,268.41 L667.5,268.94 L667.6,269.46 L667.8,269.99 L668.0,270.51 L668.1,271.04 L668.3,271.57 L668.4,272.09 L668.6,272.62 L668.8,273.14 L668.9,273.67 L669.1,274.20 L669.3,274.73 L669.4,275.26 L669.6,275.78 L669.8,276.32 L670.0,276.85 L670.1,277.38 L670.3,277.91 L670.5,278.45 L670.7,278.99 L670.9,279.53 L671.0,280.07 L671.2,280.61 L671.4,281.15 L671.6,281.70 L671.8,282.25 L672.0,282.80 L672.2,283.36 L672.4,283.91 L672.6,284.47 L672.8,285.04 L673.0,285.60 L673.2,286.17 L673.4,286.74 L673.6,287.32 L673.8,287.90 L674.0,288.48 L674.2,289.06 L674.4,289.65 L674.7,290.25 L674.9,290.84 L675.1,291.45 L675.3,292.05 L675.5,292.66 L675.7,293.28 L676.0,293.90 L676.2,294.52 L676.4,295.15 L676.6,295.79 L676.9,296.43 L677.1,297.07 L677.3,297.72 L677.5,298.37 L677.8,299.02 L678.0,299.66 L678.2,300.29 L678.5,300.90 L678.7,301.48 L679.0,302.04 L679.2,302.57 L679.4,303.06 L679.7,303.52 L679.9,303.92 L680.2,304.28 L680.4,304.58 L680.7,304.83 L680.9,305.01 L681.2,305.12 L681.4,305.16 L681.7,305.13 L681.9,305.04 L682.2,304.88 L682.4,304.66 L682.7,304.38 L682.9,304.06 L683.2,303.68 L683.4,303.26 L683.7,302.79 L683.9,302.29 L684.2,301.75 L684.4,301.18 L684.7,300.58 L684.9,299.95 L685.2,299.30 L685.4,298.63 L685.7,297.95 L685.9,297.25 L686.2,296.55 L686.4,295.84 L686.6,295.12 L686.9,294.41 L687.1,293.71 L687.3,293.01 L687.5,292.32 L687.7,291.64 L688.0,290.98 L688.2,290.33 L688.4,289.69 L688.6,289.05 L688.8,288.43 L689.0,287.82 L689.2,287.22 L689.4,286.63 L689.6,286.04 L689.8,285.46 L689.9,284.89 L690.1,284.33 L690.3,283.77 L690.5,283.22 L690.7,282.68 L690.8,282.14 L691.0,281.61 L691.2,281.08 L691.3,280.55 L691.5,280.03 L691.7,279.51 L691.8,279.00 L692.0,278.49 L692.1,277.98 L692.3,277.47 L692.4,276.96 L692.6,276.45 L692.7,275.95 L692.9,275.44 L693.0,274.94 L693.2,274.43 L693.3,273.92 L693.5,273.41 L693.6,272.90 L693.8,272.39 L693.9,271.87 L694.0,271.35 L694.2,270.83 L694.3,270.30 L694.4,269.78 L694.6,269.25 L694.7,268.71 L694.8,268.18 L695.0,267.64 L695.1,267.10 L695.2,266.56 L695.4,266.01 L695.5,265.47 L695.6,264.92 L695.7,264.37 L695.9,263.82 L696.0,263.27 L696.1,262.72 L696.3,262.17 L696.4,261.61 L696.5,261.06 L696.7,260.51 L696.8,259.95 L696.9,259.40 L697.0,258.84 L697.2,258.29 L697.3,257.74 L697.4,257.18 L697.6,256.63 L697.7,256.08 L697.8,255.52 L698.0,254.97 L698.1,254.43 L698.2,253.88 L698.4,253.33 L698.5,252.79 L698.7,252.24 L698.8,251.70 L698.9,251.16 L699.1,250.62 L699.2,250.09 L699.4,249.55 L699.5,249.02 L699.7,248.48 L699.8,247.95 L700.0,247.42 L700.1,246.90 L700.3,246.37 L700.4,245.84 L700.6,245.32 L700.7,244.79 L700.9,244.27 L701.0,243.75 L701.2,243.23 L701.3,242.71 L701.5,242.19 L701.6,241.68 L701.8,241.16 L702.0,240.64 L702.1,240.13 L702.3,239.61 L702.4,239.10 L702.6,238.59 L702.8,238.07 L702.9,237.56 L703.1,237.05 L703.3,236.54 L703.4,236.03 L703.6,235.52 L703.8,235.01 L703.9,234.50 L704.1,233.99 L704.3,233.48 L704.5,232.97 L704.6,232.46 L704.8,231.95 L705.0,231.44 L705.1,230.93 L705.3,230.42 L705.5,229.91 L705.7,229.40 L705.8,228.89 L706.0,228.38 L706.2,227.87 L706.4,227.36 L706.6,226.85 L706.7,226.34 L706.9,225.83 L707.1,225.32 L707.3,224.81 L707.4,224.29 L707.6,223.78 L707.8,223.26 L708.0,222.75 L708.2,222.23 L708.4,221.72 L708.5,221.20 L708.7,220.68 L708.9,220.16 L709.1,219.64 L709.3,219.12 L709.5,218.60 L709.6,218.07 L709.8,217.55 L710.0,217.02 L710.2,216.50 L710.4,215.97 L710.6,215.44 L710.8,214.91 L710.9,214.38 L711.1,213.84 L711.3,213.31 L711.5,212.78 L711.7,212.24 L711.9,211.71 L712.1,211.17 L712.3,210.63 L712.5,210.09 L712.7,209.56 L712.8,209.02 L713.0,208.48 L713.2,207.93 L713.4,207.39 L713.6,206.85 L713.8,206.31 L714.0,205.76 L714.2,205.22 L714.4,204.68 L714.6,204.13 L714.8,203.59 L715.0,203.04 L715.2,202.50 L715.4,201.95 L715.6,201.41 L715.9,200.86 L716.1,200.31 L716.3,199.77 L716.5,199.22 L716.7,198.67 L716.9,198.13 L717.1,197.58 L717.3,197.04 L717.6,196.49 L717.8,195.94 L718.0,195.40 L718.2,194.85 L718.4,194.31 L718.7,193.76 L718.9,193.21 L719.1,192.67 L719.4,192.13 L719.6,191.58 L719.8,191.04 L720.1,190.49 L720.3,189.95 L720.5,189.41 L720.8,188.87 L721.0,188.33 L721.3,187.78 L721.5,187.24 L721.8,186.71 L722.0,186.17 L722.3,185.63 L722.5,185.09 L722.8,184.56 L723.0,184.02 L723.3,183.49 L723.5,182.95 L723.8,182.42 L724.1,181.89 L724.3,181.36 L724.6,180.83 L724.9,180.30 L725.2,179.77 L725.4,179.25 L725.7,178.72 L726.0,178.20 L726.3,177.67 L726.6,177.15 L726.9,176.63 L727.2,176.11 L727.5,175.60 L727.8,175.08 L728.1,174.56 L728.4,174.05 L728.7,173.54 L729.0,173.03 L729.3,172.52 L729.6,172.01 L729.9,171.51 L730.2,171.01 L730.6,170.50 L730.9,170.00 L731.2,169.51 L731.5,169.01 L731.9,168.51 L732.2,168.02 L732.6,167.53 L732.9,167.04 L733.2,166.56 L733.6,166.07 L734.0,165.59 L734.3,165.11 L734.7,164.63 L735.0,164.15 L735.4,163.68 L735.8,163.20 L736.1,162.73 L736.5,162.27 L736.9,161.80 L737.3,161.34 L737.7,160.88 L738.0,160.42 L738.4,159.96 L738.8,159.51 L739.2,159.05 L739.6,158.60 L740.0,158.16 L740.4,157.71 L740.9,157.27 L741.3,156.83 L741.7,156.39 L742.1,155.95 L742.5,155.51 L742.9,155.08 L743.4,154.65 L743.8,154.22 L744.2,153.80 L744.7,153.38 L745.1,152.95 L745.6,152.53 L746.0,152.12 L746.5,151.70 L746.9,151.29 L747.4,150.88 L747.8,150.47 L748.3,150.07 L748.7,149.66 L749.2,149.26 L749.7,148.86 L750.1,148.47 L750.6,148.07 L751.1,147.68 L751.6,147.29 L752.1,146.90 L752.5,146.52 L753.0,146.13 L753.5,145.75 L754.0,145.37 L754.5,145.00 L755.0,144.62 L755.5,144.25 L756.0,143.88 L756.5,143.51 L757.0,143.15 L757.5,142.79 L758.0,142.43 L758.6,142.07 L759.1,141.71 L759.6,141.36 L760.1,141.01 L760.6,140.66 L761.2,140.31 L761.7,139.96 L762.2,139.62 L762.8,139.28 L763.3,138.94 L763.8,138.61 L764.4,138.28 L764.9,137.94 L765.5,137.62 L766.0,137.29 L766.6,136.96 L767.1,136.64 L767.7,136.32 L768.2,136.01 L768.8,135.69 L769.4,135.38 L769.9,135.07 L770.5,134.76 L771.1,134.45 L771.6,134.15 L772.2,133.85 L772.8,133.55 L773.3,133.25 L773.9,132.96 L774.5,132.66 L775.1,132.37 L775.7,132.09 L776.2,131.80 L776.8,131.52 L777.4,131.24 L778.0,130.96 L778.6,130.68 L779.2,130.41 L779.8,130.14 L780.4,129.87 L781.0,129.60 L781.6,129.34 L782.2,129.08 L782.8,128.82 L783.4,128.56 L784.0,128.30 L784.6,128.05 L785.3,127.80 L785.9,127.55 L786.5,127.30 L787.1,127.06 L787.7,126.82 L788.4,126.58 L789.0,126.34 L789.6,126.11 L790.2,125.88 L790.9,125.65 L791.5,125.42 L792.1,125.20 L792.7,124.97 L793.4,124.75 L794.0,124.53 L794.7,124.32 L795.3,124.11 L795.9,123.89 L796.6,123.69 L797.2,123.48 L797.9,123.28 L798.5,123.07 L799.2,122.87 L799.8,122.68 L800.5,122.48 L801.1,122.29 L801.8,122.10 L802.4,121.91 L803.1,121.73 L803.7,121.55 L804.4,121.36 L805.0,121.19 L805.7,121.01 L806.4,120.84 L807.0,120.67 L807.7,120.50 L808.3,120.33 L809.0,120.17 L809.7,120.01 L810.3,119.85 L811.0,119.69 L811.7,119.54 L812.4,119.38 L813.0,119.23 L813.7,119.09 L814.4,118.94 L815.1,118.80 L815.7,118.66 L816.4,118.52 L817.1,118.39 L817.8,118.25 L818.4,118.12 L819.1,117.99 L819.8,117.87 L820.5,117.74 L821.2,117.62 L821.9,117.51 L822.5,117.39 L823.2,117.27 L823.9,117.16 L824.6,117.05 L825.3,116.95 L826.0,116.84 L826.7,116.74 L827.4,116.64 L828.0,116.54 L828.7,116.45 L829.4,116.36 L830.1,116.27 L830.8,116.18 L831.5,116.10 L832.2,116.01 L832.9,115.93 L833.6,115.85 L834.3,115.78 L835.0,115.71 L835.7,115.64 L836.4,115.57 L837.1,115.50 L837.8,115.44 L838.5,115.38 L839.2,115.32 L839.9,115.26 L840.6,115.21 L841.3,115.16 L842.0,115.11 L842.7,115.06 L843.4,115.02 L844.1,114.98 L844.8,114.94 L845.5,114.90 L846.2,114.87 L846.9,114.83 L847.6,114.81 L848.3,114.78 L849.0,114.75 L849.7,114.73 L850.4,114.71 L851.1,114.69 L851.8,114.68 L852.5,114.67 L853.2,114.66 L854.0,114.65 L854.7,114.65 L855.4,114.64 L856.1,114.64 L856.8,114.65 L857.5,114.65 L858.2,114.66 L858.9,114.67 L859.6,114.68 L860.3,114.69 L861.0,114.71 L861.7,114.73 L862.4,114.75 L863.1,114.78 L863.8,114.80 L864.5,114.83 L865.2,114.87 L865.9,114.90 L866.6,114.94 L867.3,114.98 L868.1,115.02 L868.8,115.06 L869.5,115.11 L870.2,115.16 L870.9,115.21 L871.6,115.26 L872.3,115.32 L873.0,115.38 L873.7,115.44 L874.4,115.51 L875.1,115.57 L875.8,115.64 L876.5,115.71 L877.2,115.79 L877.9,115.86 L878.6,115.94 L879.3,116.02 L880.0,116.11 L880.7,116.19 L881.4,116.28 L882.1,116.38 L882.8,116.47 L883.4,116.57 L884.1,116.66 L884.8,116.77 L885.5,116.87 L886.2,116.98 L886.9,117.09 L887.6,117.20 L888.3,117.31 L889.0,117.43 L889.7,117.55 L890.4,117.67 L891.1,117.79 L891.7,117.92 L892.4,118.05 L893.1,118.18 L893.8,118.31 L894.5,118.45 L895.2,118.59 L895.8,118.73 L896.5,118.88 L897.2,119.02 L897.9,119.17 L898.6,119.32 L899.2,119.48 L899.9,119.63 L900.6,119.79 L901.3,119.96 L901.9,120.12 L902.6,120.29 L903.3,120.46 L904.0,120.63 L904.6,120.80 L905.3,120.98 L906.0,121.16 L906.6,121.34 L907.3,121.52 L908.0,121.71 L908.6,121.90 L909.3,122.09 L909.9,122.28 L910.6,122.48 L911.3,122.68 L911.9,122.88 L912.6,123.08 L913.2,123.29 L913.9,123.49 L914.5,123.70 L915.2,123.92 L915.8,124.13 L916.5,124.35 L917.1,124.57 L917.8,124.79 L918.4,125.01 L919.1,125.24 L919.7,125.47 L920.4,125.70 L921.0,125.93 L921.6,126.17 L922.3,126.41 L922.9,126.65 L923.5,126.89 L924.2,127.13 L924.8,127.38 L925.4,127.63 L926.1,127.88 L926.7,128.13 L927.3,128.39 L927.9,128.65 L928.6,128.91 L929.2,129.17 L929.8,129.43 L930.4,129.70 L931.0,129.97 L931.7,130.24 L932.3,130.51 L932.9,130.79 L933.5,131.07 L934.1,131.35 L934.7,131.63 L935.3,131.91 L935.9,132.20 L936.5,132.48 L937.1,132.77 L937.7,133.07 L938.3,133.36 L938.9,133.66 L939.5,133.96 L940.1,134.26 L940.7,134.56 L941.3,134.86 L941.9,135.17 L942.4,135.48 L943.0,135.79 L943.6,136.10 L944.2,136.42 L944.8,136.73 L945.3,137.05 L945.9,137.37 L946.5,137.69 L947.0,138.02 L947.6,138.34 L948.2,138.67 L948.7,139.00 L949.3,139.34 L949.9,139.67 L950.4,140.01 L951.0,140.34 L951.5,140.68 L952.1,141.03 L952.6,141.37 L953.2,141.72 L953.7,142.06 L954.3,142.41 L954.8,142.76 L955.4,143.12 L955.9,143.47 L956.4,143.83 L957.0,144.19 L957.5,144.55 L958.0,144.91 L958.6,145.28 L959.1,145.64 L959.6,146.01 L960.1,146.38 L960.6,146.75 L961.2,147.12 L961.7,147.50 L962.2,147.88 L962.7,148.25 L963.2,148.63 L963.7,149.02 L964.2,149.40 L964.7,149.79 L965.2,150.17 L965.7,150.56 L966.2,150.95 L966.7,151.35 L967.2,151.74 L967.7,152.14 L968.1,152.53 L968.6,152.93 L969.1,153.33 L969.6,153.74 L970.1,154.14 L970.5,154.55 L971.0,154.95 L971.5,155.36 L971.9,155.77 L972.4,156.18 L972.8,156.60 L973.3,157.01 L973.8,157.43 L974.2,157.85 L974.7,158.27 L975.1,158.69 L975.5,159.12 L976.0,159.54 L976.4,159.97 L976.9,160.40 L977.3,160.83 L977.7,161.26 L978.1,161.69 L978.6,162.12 L979.0,162.56 L979.4,163.00 L979.8,163.44 L980.2,163.88 L980.7,164.32 L981.1,164.76 L981.5,165.21 L981.9,165.65 L982.3,166.10 L982.7,166.55 L983.1,167.00 L983.5,167.45 L983.8,167.91 L984.2,168.36 L984.6,168.82 L985.0,169.27 L985.4,169.73 L985.7,170.19 L986.1,170.66 L986.5,171.12 L986.8,171.58 L987.2,172.05 L987.6,172.52 L987.9,172.98 L988.3,173.45 L988.6,173.92 L989.0,174.40 L989.3,174.87 L989.6,175.34 L990.0,175.82 L990.3,176.30 L990.6,176.77 L991.0,177.25 L991.3,177.73 L991.6,178.22 L991.9,178.70 L992.2,179.18 L992.5,179.67 L992.8,180.15 L993.1,180.64 L993.4,181.13 L993.7,181.62 L994.0,182.11 L994.3,182.60 L994.6,183.09 L994.8,183.59 L995.1,184.08 L995.4,184.58 L995.6,185.08 L995.9,185.57 L996.2,186.07 L996.4,186.57 L996.7,187.07 L996.9,187.57 L997.2,188.08 L997.4,188.58 L997.6,189.09 L997.9,189.59 L998.1,190.10 L998.3,190.60 L998.6,191.11 L998.8,191.62 L999.0,192.13 L999.2,192.64 L999.4,193.15 L999.7,193.67 L999.9,194.18 L1000.1,194.69 L1000.3,195.21 L1000.5,195.72 L1000.7,196.24 L1000.9,196.76 L1001.1,197.27 L1001.3,197.79 L1001.5,198.31 L1001.7,198.83 L1001.9,199.35 L1002.1,199.87 L1002.3,200.39 L1002.5,200.92 L1002.7,201.44 L1002.9,201.96 L1003.1,202.49 L1003.3,203.01 L1003.5,203.54 L1003.7,204.06 L1003.9,204.59 L1004.1,205.12 L1004.3,205.65 L1004.5,206.18 L1004.7,206.70 L1004.9,207.23 L1005.1,207.76 L1005.3,208.29 L1005.5,208.83 L1005.7,209.36 L1005.9,209.89 L1006.1,210.42 L1006.3,210.95 L1006.5,211.49 L1006.7,212.02 L1006.9,212.55 L1007.1,213.09 L1007.3,213.62 L1007.5,214.16 L1007.7,214.70 L1007.9,215.23 L1008.1,215.77 L1008.3,216.30 L1008.5,216.84 L1008.7,217.38 L1009.0,217.92 L1009.2,218.45 L1009.4,218.99 L1009.6,219.53 L1009.8,220.07 L1010.0,220.61 L1010.2,221.15 L1010.4,221.69 L1010.6,222.23 L1010.8,222.77 L1011.1,223.31 L1011.3,223.85 L1011.5,224.39 L1011.7,224.93 L1011.9,225.47 L1012.1,226.01 L1012.3,226.55 L1012.5,227.09 L1012.7,227.63 L1012.9,228.17 L1013.1,228.71 L1013.3,229.25 L1013.5,229.79 L1013.7,230.34 L1013.9,230.88 L1014.1,231.42 L1014.3,231.96 L1014.5,232.50 L1014.6,233.04 L1014.8,233.58 L1015.0,234.13 L1015.2,234.67 L1015.4,235.21 L1015.6,235.75 L1015.8,236.29 L1015.9,236.83 L1016.1,237.37 L1016.3,237.92 L1016.5,238.46 L1016.6,239.00 L1016.8,239.54 L1017.0,240.08 L1017.2,240.62 L1017.3,241.16 L1017.5,241.71 L1017.7,242.25 L1017.8,242.79 L1018.0,243.33 L1018.2,243.87 L1018.3,244.41 L1018.5,244.95 L1018.6,245.49 L1018.8,246.03 L1019.0,246.57 L1019.1,247.12 L1019.3,247.66 L1019.4,248.20 L1019.6,248.74 L1019.7,249.28 L1019.9,249.82 L1020.0,250.36 L1020.2,250.90 L1020.3,251.44 L1020.5,251.98 L1020.6,252.52 L1020.8,253.06 L1020.9,253.60 L1021.1,254.14 L1021.2,254.68 L1021.3,255.21 L1021.5,255.75 L1021.6,256.29 L1021.8,256.83 L1021.9,257.37 L1022.0,257.91 L1022.2,258.45 L1022.3,258.98 L1022.4,259.52 L1022.6,260.06 L1022.7,260.60 L1022.8,261.13 L1022.9,261.67 L1023.1,262.21 L1023.2,262.75 L1023.3,263.28 L1023.4,263.82 L1023.6,264.35 L1023.7,264.89 L1023.8,265.43 L1023.9,265.96 L1024.1,266.50 L1024.2,267.03 L1024.3,267.57 L1024.4,268.10 L1024.5,268.64 L1024.6,269.17 L1024.8,269.71 L1024.9,270.24 L1025.0,270.77 L1025.1,271.31 L1025.2,271.84 L1025.3,272.38 L1025.4,272.91 L1025.5,273.44 L1025.6,273.98 L1025.7,274.51 L1025.8,275.05 L1026.0,275.58 L1026.1,276.11 L1026.2,276.65 L1026.3,277.18 L1026.4,277.71 L1026.5,278.25 L1026.6,278.78 L1026.7,279.32 L1026.8,279.85 L1026.9,280.38 L1027.0,280.92 L1027.1,281.45 L1027.2,281.99 L1027.3,282.52 L1027.3,283.06 L1027.4,283.59 L1027.5,284.13 L1027.6,284.67 L1027.7,285.20 L1027.8,285.74 L1027.9,286.27 L1028.0,286.81 L1028.1,287.35 L1028.2,287.89 L1028.3,288.42 L1028.3,288.96 L1028.4,289.50 L1028.5,290.04 L1028.6,290.58 L1028.7,291.12 L1028.8,291.66 L1028.8,292.20 L1028.9,292.74 L1029.0,293.28 L1029.1,293.82 L1029.2,294.36 L1029.3,294.91 L1029.3,295.45 L1029.4,295.99 L1029.5,296.54 L1029.6,297.08 L1029.6,297.63 L1029.7,298.17 L1029.8,298.72 L1029.9,299.27 L1029.9,299.81 L1030.0,300.36 L1030.1,300.91 L1030.2,301.46 L1030.2,302.01 L1030.3,302.56 L1030.4,303.11 L1030.5,303.66 L1030.5,304.22 L1030.6,304.77 L1030.7,305.32 L1030.7,305.88 L1030.8,306.44 L1030.9,306.99 L1031.0,307.55 L1031.0,308.11 L1031.1,308.66 L1031.2,309.22 L1031.2,309.78 L1031.3,310.34 L1031.4,310.90 L1031.4,311.46 L1031.5,312.02 L1031.6,312.58 L1031.6,313.14 L1031.7,313.71 L1031.7,314.27 L1031.8,314.83 L1031.9,315.40 L1031.9,315.96 L1032.0,316.52 L1032.1,317.09 L1032.1,317.65 L1032.2,318.21 L1032.2,318.78 L1032.3,319.34 L1032.4,319.91 L1032.4,320.47 L1032.5,321.04 L1032.5,321.60 L1032.6,322.17 L1032.7,322.73 L1032.7,323.30 L1032.8,323.87 L1032.8,324.43 L1032.9,325.00 L1033.0,325.56 L1033.0,326.13 L1033.1,326.69 L1033.1,327.26 L1033.2,327.82 L1033.2,328.39 L1033.3,328.95 L1033.4,329.52 L1033.4,330.08 L1033.5,330.64 L1033.5,331.21 L1033.6,331.77 L1033.6,332.33 L1033.7,332.90 L1033.8,333.46 L1033.8,334.02 L1033.9,334.58 L1033.9,335.14 L1034.0,335.70 L1034.0,336.26 L1034.1,336.82 L1034.1,337.38 L1034.2,337.94 L1034.2,338.50 L1034.3,339.06 L1034.4,339.61 L1034.4,340.17 L1034.5,340.73 L1034.5,341.28 L1034.6,341.84 L1034.6,342.39 L1034.7,342.94 L1034.7,343.49 L1034.8,344.05 L1034.8,344.60 L1034.9,345.15 L1035.0,345.70 L1035.0,346.25 L1035.1,346.79 L1035.1,347.34 L1035.2,347.89 L1035.2,348.43 L1035.3,348.97 L1035.3,349.52 L1035.4,350.06 L1035.4,350.60 L1035.5,351.14 L1035.6,351.68 L1035.6,352.22 L1035.7,352.75 L1035.7,353.29 L1035.8,353.83 L1035.8,354.36 L1035.9,354.89 L1035.9,355.42 L1036.0,355.95 L1036.1,356.48 L1036.1,357.01 L1036.2,357.54 L1036.2,358.06 L1036.3,358.58 L1036.3,359.11 L1036.4,359.63 L1036.4,360.15 L1036.5,360.67 L1036.6,361.18 L1036.6,361.70 L1036.7,362.21 L1036.7,362.72 L1036.8,363.23 L1036.9,363.74 L1036.9,364.25 L1037.0,364.76 L1037.0,365.26 L1037.1,365.77 L1037.1,366.27 L1037.2,366.77 L1037.3,367.27 L1037.3,367.76 L1037.4,368.26 L1037.4,368.75 L1037.5,369.25 L1037.6,369.74 L1037.6,370.23 L1037.7,370.72 L1037.8,371.22 L1037.8,371.71 L1037.9,372.20 L1037.9,372.69 L1038.0,373.18 L1038.1,373.68 L1038.1,374.17 L1038.2,374.67 L1038.3,375.16 L1038.3,375.66 L1038.4,376.16 L1038.5,376.66 L1038.5,377.16 L1038.6,377.66 L1038.7,378.17 L1038.7,378.68 L1038.8,379.19 L1038.9,379.70 L1038.9,380.22 L1039.0,380.74 L1039.1,381.26 L1039.2,381.79 L1039.2,382.32 L1039.3,382.85 L1039.4,383.39 L1039.4,383.93 L1039.5,384.48 L1039.6,385.03 L1039.7,385.58 L1039.7,386.14 L1039.8,386.71 L1039.9,387.27 L1040.0,387.85 L1040.0,388.43 L1040.1,389.01 L1040.2,389.61 L1040.3,390.20 L1040.3,390.81 L1040.4,391.41 L1040.5,392.03 L1040.6,392.65 L1040.7,393.28 L1040.7,393.92 L1040.8,394.56 L1040.9,395.21 L1041.0,395.87 L1041.1,396.54 L1041.2,397.21 L1041.3,397.89 L1041.3,398.58 L1041.4,399.28 L1041.5,399.98 L1041.6,400.70 L1041.7,401.42 L1041.8,402.15 L1041.9,402.89 L1042.0,403.63 L1042.0,404.37 L1042.1,405.12 L1042.2,405.87 L1042.3,406.63 L1042.4,407.38 L1042.5,408.13 L1042.6,408.88 L1042.7,409.62 L1042.8,410.37 L1042.9,411.10 L1043.0,411.84 L1043.1,412.56 L1043.2,413.28 L1043.3,413.98 L1043.4,414.68 L1043.5,415.37 L1043.6,416.04 L1043.7,416.71 L1043.8,417.36 L1043.9,417.99 L1044.0,418.61 L1044.1,419.21 L1044.2,419.79 L1044.3,420.35 L1044.4,420.90 L1044.5,421.42 L1044.6,421.92 L1044.7,422.40 L1044.8,422.85 L1044.9,423.28 L1045.0,423.69 L1045.1,424.06 L1045.2,424.41 L1045.3,424.73 L1045.4,425.02 L1045.5,425.28 L1045.6,425.51 L1045.7,425.70 L1045.8,425.86 L1045.9,425.98 L1046.0,426.07 L1046.1,426.12 L1046.2,426.14 L1046.3,426.11 L1046.4,426.05 L1046.5,425.95 L1046.6,425.82 L1046.7,425.65 L1046.8,425.45 L1046.9,425.21 L1047.0,424.94 L1047.1,424.64 L1047.2,424.32 L1047.3,423.96 L1047.4,423.58 L1047.4,423.16 L1047.5,422.73 L1047.6,422.27 L1047.7,421.78 L1047.8,421.28 L1047.9,420.75 L1048.0,420.20 L1048.1,419.63 L1048.2,419.04 L1048.3,418.44 L1048.4,417.81 L1048.5,417.18 L1048.6,416.52 L1048.7,415.86 L1048.8,415.18 L1048.9,414.49 L1048.9,413.79 L1049.0,413.08 L1049.1,412.36 L1049.2,411.64 L1049.3,410.91 L1049.4,410.17 L1049.5,409.43 L1049.5,408.68 L1049.6,407.93 L1049.7,407.18 L1049.8,406.43 L1049.9,405.69 L1050.0,404.94 L1050.0,404.19 L1050.1,403.45 L1050.2,402.71 L1050.3,401.98 L1050.3,401.26 L1050.4,400.54 L1050.5,399.83 L1050.6,399.13 L1050.6,398.44 L1050.7,397.76 L1050.8,397.08 L1050.9,396.42 L1050.9,395.76 L1051.0,395.11 L1051.1,394.47 L1051.1,393.83 L1051.2,393.21 L1051.3,392.58 L1051.3,391.97 L1051.4,391.36 L1051.5,390.76 L1051.5,390.17 L1051.6,389.58 L1051.6,389.00 L1051.7,388.42 L1051.8,387.85 L1051.8,387.28 L1051.9,386.72 L1051.9,386.17 L1052.0,385.62 L1052.0,385.07 L1052.1,384.53 L1052.1,383.99 L1052.2,383.46 L1052.3,382.93 L1052.3,382.40 L1052.4,381.88 L1052.4,381.36 L1052.5,380.84 L1052.5,380.33 L1052.6,379.82 L1052.6,379.31 L1052.7,378.80 L1052.7,378.30 L1052.8,377.80 L1052.8,377.30 L1052.9,376.80 L1052.9,376.30 L1053.0,375.81 L1053.0,375.31 L1053.0,374.82 L1053.1,374.33 L1053.1,373.83 L1053.2,373.34 L1053.2,372.85 L1053.3,372.36 L1053.3,371.87 L1053.4,371.37 L1053.4,370.88 L1053.4,370.38 L1053.5,369.89 L1053.5,369.39 L1053.6,368.89 L1053.6,368.39 L1053.7,367.89 L1053.7,367.39 L1053.7,366.88 L1053.8,366.38 L1053.8,365.86 L1053.9,365.35 L1053.9,364.84 L1053.9,364.32 L1054.0,363.80 L1054.0,363.28 L1054.1,362.76 L1054.1,362.23 L1054.1,361.71 L1054.2,361.18 L1054.2,360.65 L1054.3,360.12 L1054.3,359.58 L1054.3,359.05 L1054.4,358.51 L1054.4,357.97 L1054.5,357.43 L1054.5,356.89 L1054.5,356.34 L1054.6,355.80 L1054.6,355.25 L1054.7,354.71 L1054.7,354.16 L1054.8,353.61 L1054.8,353.06 L1054.8,352.50 L1054.9,351.95 L1054.9,351.40 L1055.0,350.84 L1055.0,350.29 L1055.0,349.73 L1055.1,349.17 L1055.1,348.61 L1055.2,348.05 L1055.2,347.49 L1055.3,346.93 L1055.3,346.37 L1055.3,345.81 L1055.4,345.25 L1055.4,344.69 L1055.5,344.12 L1055.5,343.56 L1055.6,343.00 L1055.6,342.43 L1055.7,341.87 L1055.7,341.30 L1055.8,340.74 L1055.8,340.17 L1055.9,339.61 L1055.9,339.04 L1056.0,338.48 L1056.0,337.91 L1056.1,337.35 L1056.1,336.79 L1056.2,336.22 L1056.2,335.66 L1056.3,335.09 L1056.3,334.53 L1056.4,333.97 L1056.4,333.41 L1056.5,332.84 L1056.5,332.28 L1056.6,331.72 L1056.6,331.16 L1056.7,330.60 L1056.8,330.04 L1056.8,329.49 L1056.9,328.93 L1056.9,328.37 L1057.0,327.81 L1057.1,327.26 L1057.1,326.70 L1057.2,326.14 L1057.2,325.59 L1057.3,325.03 L1057.4,324.48 L1057.4,323.92 L1057.5,323.37 L1057.6,322.82 L1057.6,322.26 L1057.7,321.71 L1057.8,321.16 L1057.8,320.61 L1057.9,320.05 L1058.0,319.50 L1058.0,318.95 L1058.1,318.40 L1058.2,317.85 L1058.3,317.30 L1058.3,316.75 L1058.4,316.20 L1058.5,315.65 L1058.5,315.11 L1058.6,314.56 L1058.7,314.01 L1058.8,313.46 L1058.8,312.91 L1058.9,312.37 L1059.0,311.82 L1059.1,311.27 L1059.2,310.73 L1059.2,310.18 L1059.3,309.64 L1059.4,309.09 L1059.5,308.55 L1059.5,308.00 L1059.6,307.46 L1059.7,306.91 L1059.8,306.37 L1059.9,305.83 L1060.0,305.28 L1060.0,304.74 L1060.1,304.20 L1060.2,303.65 L1060.3,303.11 L1060.4,302.57 L1060.5,302.03 L1060.5,301.48 L1060.6,300.94 L1060.7,300.40 L1060.8,299.86 L1060.9,299.32 L1061.0,298.78 L1061.1,298.23 L1061.2,297.69 L1061.3,297.15 L1061.3,296.61 L1061.4,296.07 L1061.5,295.53 L1061.6,294.99 L1061.7,294.45 L1061.8,293.91 L1061.9,293.37 L1062.0,292.83 L1062.1,292.29 L1062.2,291.75 L1062.3,291.21 L1062.4,290.67 L1062.5,290.13 L1062.6,289.59 L1062.7,289.05 L1062.8,288.52 L1062.9,287.98 L1063.0,287.44 L1063.1,286.90 L1063.2,286.36 L1063.3,285.82 L1063.4,285.28 L1063.5,284.74 L1063.6,284.20 L1063.7,283.66 L1063.8,283.12 L1063.9,282.59 L1064.0,282.05 L1064.1,281.51 L1064.2,280.97 L1064.3,280.43 L1064.4,279.89 L1064.5,279.35 L1064.6,278.81 L1064.7,278.27 L1064.8,277.73 L1064.9,277.19 L1065.0,276.65 L1065.1,276.12 L1065.2,275.58 L1065.4,275.04 L1065.5,274.50 L1065.6,273.96 L1065.7,273.42 L1065.8,272.88 L1065.9,272.34 L1066.0,271.80 L1066.1,271.26 L1066.2,270.72 L1066.4,270.18 L1066.5,269.63 L1066.6,269.09 L1066.7,268.55 L1066.8,268.01 L1066.9,267.47 L1067.0,266.93 L1067.2,266.39 L1067.3,265.84 L1067.4,265.30 L1067.5,264.76 L1067.6,264.22 L1067.7,263.68 L1067.9,263.13 L1068.0,262.59 L1068.1,262.05 L1068.2,261.50 L1068.3,260.96 L1068.5,260.42 L1068.6,259.87 L1068.7,259.33 L1068.8,258.79 L1068.9,258.24 L1069.1,257.70 L1069.2,257.16 L1069.3,256.61 L1069.4,256.07 L1069.6,255.52 L1069.7,254.98 L1069.8,254.43 L1069.9,253.89 L1070.1,253.34 L1070.2,252.80 L1070.3,252.26 L1070.4,251.71 L1070.6,251.17 L1070.7,250.62 L1070.8,250.08 L1071.0,249.53 L1071.1,248.99 L1071.2,248.44 L1071.4,247.90 L1071.5,247.35 L1071.6,246.81 L1071.8,246.26 L1071.9,245.72 L1072.0,245.17 L1072.2,244.63 L1072.3,244.08 L1072.5,243.54 L1072.6,242.99 L1072.7,242.45 L1072.9,241.90 L1073.0,241.36 L1073.2,240.81 L1073.3,240.27 L1073.4,239.73 L1073.6,239.18 L1073.7,238.64 L1073.9,238.09 L1074.0,237.55 L1074.2,237.01 L1074.3,236.46 L1074.5,235.92 L1074.6,235.37 L1074.8,234.83 L1074.9,234.29 L1075.1,233.74 L1075.2,233.20 L1075.4,232.66 L1075.5,232.11 L1075.7,231.57 L1075.8,231.03 L1076.0,230.49 L1076.2,229.94 L1076.3,229.40 L1076.5,228.86 L1076.6,228.32 L1076.8,227.78 L1077.0,227.23 L1077.1,226.69 L1077.3,226.15 L1077.5,225.61 L1077.6,225.07 L1077.8,224.53 L1078.0,223.99 L1078.1,223.45 L1078.3,222.91 L1078.5,222.37 L1078.6,221.83 L1078.8,221.29 L1079.0,220.75 L1079.2,220.21 L1079.3,219.68 L1079.5,219.14 L1079.7,218.60 L1079.9,218.06 L1080.0,217.53 L1080.2,216.99 L1080.4,216.45 L1080.6,215.92 L1080.8,215.38 L1081.0,214.84 L1081.2,214.31 L1081.3,213.77 L1081.5,213.24 L1081.7,212.70 L1081.9,212.17 L1082.1,211.63 L1082.3,211.10 L1082.5,210.57 L1082.7,210.03 L1082.9,209.50 L1083.1,208.97 L1083.3,208.44 L1083.5,207.91 L1083.7,207.38 L1083.9,206.85 L1084.1,206.31 L1084.3,205.78 L1084.5,205.26 L1084.7,204.73 L1084.9,204.20 L1085.1,203.67 L1085.3,203.14 L1085.5,202.61 L1085.8,202.09 L1086.0,201.56 L1086.2,201.03 L1086.4,200.51 L1086.6,199.98 L1086.8,199.46 L1087.1,198.93 L1087.3,198.41 L1087.5,197.89 L1087.7,197.36 L1088.0,196.84 L1088.2,196.32 L1088.4,195.80 L1088.7,195.27 L1088.9,194.75 L1089.1,194.23 L1089.4,193.71 L1089.6,193.20 L1089.8,192.68 L1090.1,192.16 L1090.3,191.64 L1090.5,191.12 L1090.8,190.61 L1091.0,190.09 L1091.3,189.58 L1091.5,189.06 L1091.8,188.55 L1092.0,188.03 L1092.3,187.52 L1092.5,187.01 L1092.8,186.50 L1093.0,185.98 L1093.3,185.47 L1093.6,184.96 L1093.8,184.45 L1094.1,183.94 L1094.3,183.44 L1094.6,182.93 L1094.9,182.42 L1095.1,181.91 L1095.4,181.41 L1095.7,180.90 L1096.0,180.40 L1096.2,179.89 L1096.5,179.39 L1096.8,178.89 L1097.1,178.39 L1097.3,177.88 L1097.6,177.38 L1097.9,176.88 L1098.2,176.38 L1098.5,175.89 L1098.8,175.39 L1099.1,174.89 L1099.4,174.39 L1099.7,173.90 L1100.0,173.40 L1100.2,172.91 L1100.5,172.41 L1100.8,171.92 L1101.2,171.43 L1101.5,170.94 L1101.8,170.45 L1102.1,169.96 L1102.4,169.47 L1102.7,168.98 L1103.0,168.49 L1103.3,168.00 L1103.6,167.52 L1103.9,167.03 L1104.3,166.55 L1104.6,166.06 L1104.9,165.58 L1105.2,165.10 L1105.6,164.61 L1105.9,164.13 L1106.2,163.65 L1106.6,163.17 L1106.9,162.70 L1107.2,162.22 L1107.6,161.74 L1107.9,161.27 L1108.2,160.79 L1108.6,160.32 L1108.9,159.84 L1109.3,159.37 L1109.6,158.90 L1110.0,158.43 L1110.3,157.96 L1110.7,157.49 L1111.0,157.02 L1111.4,156.55 L1111.8,156.09 L1112.1,155.62 L1112.5,155.16 L1112.9,154.69 L1113.2,154.23 L1113.6,153.77 L1114.0,153.31 L1114.3,152.85 L1114.7,152.39 L1115.1,151.93 L1115.5,151.47 L1115.9,151.02 L1116.2,150.56 L1116.6,150.11 L1117.0,149.65 L1117.4,149.20 L1117.8,148.75 L1118.2,148.30 L1118.6,147.85 L1119.0,147.40 L1119.4,146.95 L1119.8,146.51 L1120.2,146.06 L1120.6,145.62 L1121.0,145.18 L1121.4,144.73 L1121.8,144.29 L1122.3,143.85 L1122.7,143.41 L1123.1,142.97 L1123.5,142.54 L1123.9,142.10 L1124.4,141.67 L1124.8,141.23 L1125.2,140.80 L1125.7,140.37 L1126.1,139.94 L1126.5,139.51 L1127.0,139.08 L1127.4,138.66 L1127.9,138.24 L1128.3,137.81 L1128.8,137.39 L1129.2,136.98 L1129.7,136.56 L1130.1,136.15 L1130.6,135.73 L1131.0,135.32 L1131.5,134.91 L1132.0,134.51 L1132.5,134.10 L1132.9,133.70 L1133.4,133.30 L1133.9,132.90 L1134.4,132.51 L1134.9,132.12 L1135.4,131.73 L1135.8,131.34 L1136.3,130.95 L1136.8,130.57 L1137.4,130.19 L1137.9,129.82 L1138.4,129.44 L1138.9,129.07 L1139.4,128.70 L1139.9,128.34 L1140.4,127.98 L1141.0,127.62 L1141.5,127.26 L1142.0,126.91 L1142.6,126.56 L1143.1,126.21 L1143.7,125.87 L1144.2,125.53 L1144.8,125.19 L1145.3,124.86 L1145.9,124.53 L1146.4,124.21 L1147.0,123.89 L1147.6,123.57 L1148.2,123.25 L1148.7,122.94 L1149.3,122.64 L1149.9,122.33 L1150.5,122.04 L1151.1,121.74 L1151.7,121.45 L1152.3,121.17 L1152.9,120.88 L1153.5,120.61 L1154.1,120.33 L1154.7,120.06 L1155.4,119.80 L1156.0,119.54 L1156.6,119.28 L1157.2,119.03 L1157.9,118.79 L1158.5,118.55 L1159.2,118.31 L1159.8,118.08 L1160.5,117.85 L1161.1,117.63 L1161.8,117.41 L1162.4,117.20 L1163.1,116.99 L1163.7,116.79 L1164.4,116.59 L1165.0,116.40 L1165.7,116.21 L1166.4,116.03 L1167.1,115.86 L1167.7,115.69 L1168.4,115.52 L1169.1,115.36 L1169.8,115.21 L1170.4,115.06 L1171.1,114.92 L1171.8,114.78 L1172.5,114.65 L1173.2,114.53 L1173.9,114.41 L1174.5,114.30 L1175.2,114.19 L1175.9,114.09 L1176.6,114.00 L1177.3,113.91 L1178.0,113.82 L1178.7,113.75 L1179.4,113.67 L1180.1,113.61 L1180.8,113.54 L1181.5,113.49 L1182.2,113.43 L1182.9,113.39 L1183.6,113.34 L1184.3,113.31 L1185.0,113.27 L1185.7,113.25 L1186.4,113.22 L1187.1,113.20 L1187.8,113.19 L1188.5,113.18 L1189.2,113.17 L1189.9,113.17 L1190.6,113.17 L1191.3,113.18 L1192.0,113.19 L1192.7,113.20 L1193.4,113.22 L1194.2,113.24 L1194.9,113.26 L1195.6,113.29 L1196.3,113.32 L1197.0,113.35 L1197.7,113.39 L1198.4,113.42 L1199.1,113.47 L1199.8,113.51 L1200.5,113.56 L1201.2,113.61 L1201.9,113.66 L1202.6,113.72 L1203.3,113.77 L1204.0,113.83 L1204.7,113.90 L1205.4,113.96 L1206.1,114.03 L1206.8,114.09 L1207.5,114.16 L1208.2,114.24 L1208.9,114.31 L1209.6,114.38 L1210.3,114.46 L1211.0,114.54 L1211.7,114.62 L1212.4,114.70 L1213.1,114.78 L1213.8,114.86 L1214.5,114.94 L1215.2,115.03 L1215.9,115.11 L1216.6,115.19 L1217.2,115.28 L1217.9,115.37 L1218.6,115.45 L1219.3,115.54 L1220.0,115.63 L1220.7,115.71 L1221.3,115.80 L1222.0,115.89 L1222.7,115.97 L1223.4,116.06 L1224.0,116.15 L1224.7,116.23 L1225.4,116.32 L1226.0,116.41 L1226.7,116.50 L1227.4,116.59 L1228.0,116.68 L1228.7,116.78 L1229.4,116.87 L1230.0,116.97 L1230.7,117.07 L1231.3,117.18 L1232.0,117.29 L1232.6,117.40 L1233.3,117.51 L1233.9,117.63 L1234.6,117.76 L1235.2,117.88 L1235.9,118.02 L1236.5,118.15 L1237.1,118.30 L1237.8,118.44 L1238.4,118.60 L1239.1,118.76 L1239.7,118.92 L1240.3,119.10 L1241.0,119.28 L1241.6,119.46 L1242.2,119.66 L1242.9,119.86 L1243.5,120.07 L1244.1,120.29 L1244.7,120.51 L1245.4,120.75 L1246.0,120.99 L1246.6,121.24 L1247.2,121.50 L1247.8,121.78 L1248.5,122.05 L1249.1,122.34 L1249.7,122.63 L1250.3,122.94 L1250.9,123.24 L1251.5,123.55 L1252.1,123.87 L1252.8,124.19 L1253.4,124.52 L1254.0,124.85 L1254.6,125.18 L1255.2,125.51 L1255.8,125.84 L1256.4,126.18 L1257.0,126.51 L1257.6,126.85 L1258.2,127.18 L1258.8,127.51 L1259.4,127.84 L1260.0,128.17 L1260.6,128.50 L1261.2,128.83 L1261.8,129.15 L1262.4,129.47 L1263.0,129.79 L1263.5,130.11 L1264.1,130.43 L1264.7,130.74 L1265.3,131.06 L1265.9,131.37 L1266.5,131.68 L1267.1,131.99 L1267.6,132.30 L1268.2,132.61 L1268.8,132.92 L1269.4,133.23 L1270.0,133.54 L1270.5,133.84 L1271.1,134.15 L1271.7,134.45 L1272.3,134.76 L1272.9,135.06 L1273.4,135.37 L1274.0,135.67 L1274.6,135.98 L1275.1,136.28 L1275.7,136.59 L1276.3,136.89 L1276.9,137.20 L1277.4,137.50 L1278.0,137.81 L1278.6,138.11 L1279.1,138.42 L1279.7,138.73 L1280.3,139.03 L1280.8,139.34 L1281.4,139.65 L1282.0,139.96 L1282.5,140.27 L1283.1,140.58 L1283.6,140.90 L1284.2,141.21 L1284.8,141.53 L1285.3,141.85 L1285.9,142.16 L1286.4,142.48 L1287.0,142.81 L1287.6,143.13 L1288.1,143.45 L1288.7,143.78 L1289.2,144.11 L1289.8,144.44 L1290.3,144.77 L1290.9,145.11 L1291.4,145.44 L1292.0,145.78 L1292.5,146.12 L1293.1,146.47 L1293.6,146.81 L1294.2,147.16 L1294.7,147.51 L1295.3,147.87 L1295.8,148.22 L1296.4,148.58"/>
<path stroke="#0000FF" d="M70.8,50.16 L71.3,50.16 L71.8,50.16 L72.3,50.16 L72.8,50.16 L73.3,50.16 L73.8,50.16 L74.3,50.16 L74.8,50.16 L75.3,50.16 L75.8,50.16 L76.3,50.16 L76.8,50.16 L77.3,50.16 L77.8,50.16 L78.3,50.16 L78.8,50.16 L79.3,50.16 L79.8,50.16 L80.3,50.16 L80.8,50.16 L81.3,50.16 L81.8,50.17 L82.3,50.17 L82.8,50.17 L83.3,50.17 L83.8,50.17 L84.3,50.17 L84.8,50.17 L85.3,50.17 L85.8,50.17 L86.3,50.18 L86.8,50.18 L87.3,50.18 L87.8,50.18 L88.3,50.18 L88.8,50.18 L89.3,50.18 L89.8,50.19 L90.3,50.19 L90.8,50.19 L91.3,50.19 L91.8,50.19 L92.3,50.20 L92.8,50.20 L93.3,50.20 L93.8,50.20 L94.3,50.20 L94.8,50.21 L95.3,50.21 L95.8,50.21 L96.3,50.21 L96.8,50.22 L97.3,50.22 L97.8,50.22 L98.3,50.23 L98.8,50.23 L99.3,50.23 L99.8,50.23 L100.3,50.24 L100.8,50.28 L101.3,50.34 L101.8,50.43 L102.3,50.53 L102.8,50.66 L103.3,50.80 L103.8,50.96 L104.3,51.13 L104.8,51.31 L105.3,51.50 L105.8,51.69 L106.3,51.88 L106.8,52.07 L107.3,52.26 L107.8,52.45 L108.3,52.63 L108.8,52.83 L109.3,53.05 L109.8,53.29 L110.3,53.54 L110.8,53.80 L111.3,54.07 L111.8,54.34 L112.3,54.61 L112.8,54.89 L113.3,55.16 L113.8,55.43 L114.3,55.69 L114.8,55.94 L115.3,56.18 L115.8,56.40 L116.3,56.60 L116.8,56.78 L117.3,56.95 L117.8,57.11 L118.3,57.27 L118.8,57.43 L119.3,57.58 L119.8,57.74 L120.3,57.89 L120.8,58.04 L121.3,58.18 L121.8,58.32 L122.3,58.46 L122.8,58.58 L123.3,58.71 L123.8,58.82 L124.3,58.93 L124.8,59.03 L125.3,59.12 L125.8,59.21 L126.3,59.28 L126.8,59.34 L127.3,59.39 L127.8,59.44 L128.3,59.47 L128.8,59.49 L129.3,59.52 L129.8,59.55 L130.3,59.57 L130.8,59.59 L131.3,59.61 L131.8,59.63 L132.3,59.65 L132.8,59.67 L133.3,59.68 L133.8,59.70 L134.3,59.71 L134.8,59.73 L135.3,59.74 L135.8,59.76 L136.3,59.77 L136.8,59.78 L137.3,59.79 L137.8,59.80 L138.3,59.81 L138.8,59.83 L139.3,59.84 L139.8,59.85 L140.3,59.87 L141.0,59.90 L141.7,59.93 L142.4,59.97 L143.1,60.01 L143.8,60.05 L144.5,60.09 L145.3,60.14 L146.0,60.19 L146.7,60.24 L147.4,60.29 L148.1,60.34 L148.8,60.38 L149.5,60.43 L150.3,60.49 L151.0,60.54 L151.7,60.59 L152.4,60.64 L153.1,60.70 L153.8,60.75 L154.5,60.81 L155.3,60.87 L156.0,60.93 L156.7,60.99 L157.4,61.05 L158.1,61.11 L158.8,61.17 L159.5,61.24 L160.2,61.31 L161.0,61.38 L161.7,61.45 L162.4,61.53 L163.1,61.60 L163.8,61.68 L164.5,61.75 L165.2,61.82 L165.9,61.88 L166.6,61.94 L167.3,62.01 L168.0,62.09 L168.7,62.16 L169.3,62.24 L170.0,62.32 L170.7,62.41 L171.4,62.50 L172.1,62.60 L172.8,62.70 L173.5,62.80 L174.1,62.91 L174.8,63.02 L175.5,63.14 L176.1,63.27 L176.8,63.39 L177.5,63.53 L178.1,63.66 L178.8,63.81 L179.4,63.95 L180.1,64.10 L180.8,64.26 L181.4,64.42 L182.0,64.58 L182.7,64.75 L183.3,64.93 L184.0,65.11 L184.6,65.29 L185.2,65.47 L185.9,65.67 L186.5,65.86 L187.1,66.06 L187.8,66.26 L188.4,66.47 L189.0,66.68 L189.6,66.90 L190.2,67.12 L190.8,67.34 L191.5,67.57 L192.1,67.80 L192.7,68.04 L193.3,68.28 L193.9,68.52 L194.5,68.77 L195.1,69.02 L195.7,69.28 L196.3,69.54 L196.8,69.80 L197.4,70.07 L198.0,70.34 L198.6,70.61 L199.2,70.89 L199.7,71.17 L200.3,71.46 L200.9,71.75 L201.5,72.04 L202.0,72.34 L202.6,72.63 L203.2,72.94 L203.7,73.24 L204.3,73.55 L204.8,73.87 L205.4,74.18 L205.9,74.50 L206.5,74.83 L207.0,75.15 L207.6,75.48 L208.1,75.81 L208.6,76.15 L209.2,76.49 L209.7,76.83 L210.2,77.18 L210.8,77.53 L211.3,77.88 L211.8,78.23 L212.3,78.59 L212.8,78.95 L213.4,79.31 L213.9,79.68 L214.4,80.05 L214.9,80.42 L215.4,80.79 L215.9,81.17 L216.4,81.55 L216.9,81.93 L217.4,82.32 L217.9,82.71 L218.4,83.10 L218.9,83.49 L219.4,83.89 L219.8,84.29 L220.3,84.69 L220.8,85.09 L221.3,85.50 L221.8,85.90 L222.2,86.32 L222.7,86.73 L223.2,87.14 L223.6,87.56 L224.1,87.98 L224.5,88.40 L225.0,88.83 L225.5,89.26 L225.9,89.68 L226.4,90.12 L226.8,90.55 L227.3,90.98 L227.7,91.42 L228.1,91.86 L228.6,92.30 L229.0,92.75 L229.4,93.19 L229.9,93.64 L230.3,94.09 L230.7,94.54 L231.1,94.99 L231.6,95.45 L232.0,95.90 L232.4,96.36 L232.8,96.82 L233.2,97.28 L233.6,97.75 L234.0,98.21 L234.4,98.68 L234.8,99.14 L235.2,99.61 L235.6,100.09 L236.0,100.56 L236.4,101.03 L236.8,101.51 L237.2,101.98 L237.6,102.46 L238.0,102.94 L238.3,103.42 L238.7,103.90 L239.1,104.39 L239.4,104.87 L239.8,105.36 L240.2,105.85 L240.5,106.33 L240.9,106.82 L241.3,107.31 L241.6,107.80 L242.0,108.30 L242.3,108.79 L242.7,109.28 L243.0,109.78 L243.4,110.28 L243.7,110.77 L244.0,111.27 L244.4,111.77 L244.7,112.27 L245.0,112.77 L245.4,113.27 L245.7,113.77 L246.0,114.28 L246.3,114.78 L246.7,115.28 L247.0,115.79 L247.3,116.29 L247.6,116.80 L247.9,117.30 L248.2,117.81 L248.5,118.32 L248.8,118.82 L249.1,119.33 L249.4,119.84 L249.7,120.35 L250.0,120.86 L250.3,121.37 L250.6,121.88 L250.9,122.39 L251.2,122.90 L251.4,123.41 L251.7,123.92 L252.0,124.43 L252.3,124.94 L252.5,125.45 L252.8,125.96 L253.1,126.48 L253.3,126.99 L253.6,127.50 L253.9,128.01 L254.1,128.53 L254.4,129.04 L254.6,129.56 L254.9,130.07 L255.1,130.59 L255.4,131.10 L255.6,131.62 L255.9,132.13 L256.1,132.65 L256.3,133.16 L256.6,133.68 L256.8,134.20 L257.0,134.71 L257.3,135.23 L257.5,135.75 L257.7,136.27 L258.0,136.78 L258.2,137.30 L258.4,137.82 L258.6,138.34 L258.9,138.86 L259.1,139.38 L259.3,139.90 L259.5,140.42 L259.7,140.94 L259.9,141.46 L260.1,141.98 L260.3,142.50 L260.6,143.02 L260.8,143.54 L261.0,144.06 L261.2,144.59 L261.4,145.11 L261.6,145.63 L261.8,146.15 L262.0,146.68 L262.2,147.20 L262.4,147.72 L262.5,148.25 L262.7,148.77 L262.9,149.29 L263.1,149.82 L263.3,150.34 L263.5,150.87 L263.7,151.39 L263.9,151.92 L264.0,152.44 L264.2,152.97 L264.4,153.49 L264.6,154.02 L264.8,154.54 L265.0,155.07 L265.1,155.60 L265.3,156.12 L265.5,156.65 L265.7,157.18 L265.8,157.70 L266.0,158.23 L266.2,158.76 L266.3,159.29 L266.5,159.82 L266.7,160.34 L266.9,160.87 L267.0,161.40 L267.2,161.93 L267.4,162.46 L267.5,162.99 L267.7,163.52 L267.9,164.04 L268.0,164.57 L268.2,165.10 L268.3,165.63 L268.5,166.16 L268.7,166.69 L268.8,167.22 L269.0,167.75 L269.2,168.28 L269.3,168.81 L269.5,169.35 L269.6,169.88 L269.8,170.41 L270.0,170.94 L270.1,171.47 L270.3,172.00 L270.4,172.53 L270.6,173.06 L270.7,173.60 L270.9,174.13 L271.1,174.66 L271.2,175.19 L271.4,175.73 L271.5,176.26 L271.7,176.79 L271.8,177.32 L272.0,177.86 L272.2,178.39 L272.3,178.92 L272.5,179.45 L272.6,179.99 L272.8,180.52 L272.9,181.05 L273.1,181.59 L273.3,182.12 L273.4,182.66 L273.6,183.19 L273.7,183.72 L273.9,184.26 L274.1,184.79 L274.2,185.32 L274.4,185.86 L274.5,186.39 L274.7,186.93 L274.8,187.46 L275.0,188.00 L275.2,188.53 L275.3,189.07 L275.5,189.60 L275.7,190.13 L275.8,190.67 L276.0,191.20 L276.1,191.74 L276.3,192.27 L276.5,192.81 L276.6,193.34 L276.8,193.88 L277.0,194.41 L277.1,194.95 L277.3,195.48 L277.4,196.02 L277.6,196.56 L277.8,197.09 L277.9,197.63 L278.1,198.16 L278.3,198.70 L278.4,199.23 L278.6,199.77 L278.8,200.30 L278.9,200.84 L279.1,201.37 L279.3,201.91 L279.4,202.45 L279.6,202.98 L279.7,203.52 L279.9,204.05 L280.1,204.59 L280.2,205.12 L280.4,205.66 L280.6,206.20 L280.7,206.73 L280.9,207.27 L281.0,207.80 L281.2,208.34 L281.4,208.87 L281.5,209.41 L281.7,209.94 L281.8,210.48 L282.0,211.02 L282.2,211.55 L282.3,212.09 L282.5,212.62 L282.6,213.16 L282.8,213.69 L282.9,214.23 L283.1,214.76 L283.3,215.30 L283.4,215.83 L283.6,216.37 L283.7,216.91 L283.9,217.44 L284.0,217.98 L284.2,218.51 L284.3,219.05 L284.5,219.58 L284.6,220.12 L284.8,220.65 L284.9,221.19 L285.1,221.72 L285.2,222.25 L285.3,222.79 L285.5,223.32 L285.6,223.86 L285.8,224.39 L285.9,224.93 L286.0,225.46 L286.2,226.00 L286.3,226.53 L286.5,227.06 L286.6,227.60 L286.7,228.13 L286.9,228.67 L287.0,229.20 L287.1,229.73 L287.2,230.27 L287.4,230.80 L287.5,231.33 L287.6,231.87 L287.7,232.40 L287.9,232.93 L288.0,233.47 L288.1,234.00 L288.2,234.53 L288.4,235.07 L288.5,235.60 L288.6,236.14 L288.7,236.67 L288.8,237.20 L288.9,237.74 L289.1,238.27 L289.2,238.81 L289.3,239.34 L289.4,239.88 L289.5,240.41 L289.6,240.95 L289.8,241.48 L289.9,242.02 L290.0,242.56 L290.1,243.09 L290.2,243.63 L290.3,244.17 L290.5,244.71 L290.6,245.25 L290.7,245.79 L290.8,246.32 L290.9,246.86 L291.0,247.40 L291.2,247.95 L291.3,248.49 L291.4,249.03 L291.5,249.57 L291.6,250.12 L291.8,250.66 L291.9,251.20 L292.0,251.75 L292.1,252.29 L292.3,252.84 L292.4,253.39 L292.5,253.94 L292.7,254.48 L292.8,255.03 L292.9,255.58 L293.1,256.14 L293.2,256.69 L293.3,257.24 L293.5,257.79 L293.6,258.35 L293.7,258.90 L293.9,259.46 L294.0,260.02 L294.2,260.57 L294.3,261.13 L294.5,261.69 L294.6,262.25 L294.8,262.82 L294.9,263.38 L295.1,263.95 L295.3,264.51 L295.4,265.08 L295.6,265.65 L295.8,266.22 L295.9,266.79 L296.1,267.37 L296.3,267.95 L296.4,268.53 L296.6,269.11 L296.8,269.69 L297.0,270.28 L297.2,270.86 L297.4,271.45 L297.6,272.05 L297.8,272.64 L298.0,273.24 L298.2,273.84 L298.4,274.44 L298.6,275.05 L298.8,275.66 L299.0,276.26 L299.2,276.87 L299.4,277.46 L299.7,278.03 L299.9,278.57 L300.1,279.08 L300.4,279.55 L300.6,279.98 L300.8,280.35 L301.1,280.67 L301.3,280.91 L301.5,281.09 L301.8,281.19 L302.0,281.21 L302.3,281.15 L302.5,281.01 L302.8,280.81 L303.0,280.54 L303.3,280.21 L303.5,279.83 L303.8,279.40 L304.0,278.92 L304.3,278.40 L304.5,277.85 L304.8,277.26 L305.0,276.65 L305.2,276.01 L305.5,275.36 L305.7,274.69 L306.0,274.02 L306.2,273.34 L306.5,272.66 L306.7,271.99 L307.0,271.33 L307.2,270.68 L307.4,270.03 L307.7,269.40 L307.9,268.77 L308.2,268.14 L308.4,267.53 L308.6,266.92 L308.8,266.32 L309.1,265.72 L309.3,265.14 L309.5,264.55 L309.7,263.97 L310.0,263.40 L310.2,262.83 L310.4,262.27 L310.6,261.71 L310.8,261.16 L311.0,260.61 L311.2,260.06 L311.5,259.52 L311.7,258.98 L311.9,258.44 L312.1,257.91 L312.3,257.38 L312.5,256.85 L312.6,256.32 L312.8,255.79 L313.0,255.27 L313.2,254.74 L313.4,254.22 L313.6,253.70 L313.7,253.17 L313.9,252.65 L314.1,252.13 L314.3,251.61 L314.4,251.09 L314.6,250.57 L314.8,250.05 L314.9,249.53 L315.1,249.01 L315.2,248.49 L315.4,247.97 L315.5,247.45 L315.7,246.93 L315.8,246.41 L316.0,245.89 L316.1,245.38 L316.3,244.86 L316.4,244.34 L316.5,243.82 L316.7,243.30 L316.8,242.78 L317.0,242.26 L317.1,241.73 L317.2,241.21 L317.3,240.69 L317.5,240.17 L317.6,239.65 L317.7,239.12 L317.8,238.60 L318.0,238.07 L318.1,237.55 L318.2,237.02 L318.3,236.50 L318.5,235.97 L318.6,235.44 L318.7,234.91 L318.8,234.38 L318.9,233.85 L319.0,233.32 L319.2,232.79 L319.3,232.25 L319.4,231.72 L319.5,231.18 L319.6,230.64 L319.7,230.10 L319.8,229.56 L319.9,229.02 L320.0,228.48 L320.2,227.94 L320.3,227.39 L320.4,226.84 L320.5,226.29 L320.6,225.74 L320.7,225.19 L320.8,224.64 L320.9,224.09 L321.0,223.53 L321.1,222.98 L321.2,222.42 L321.4,221.87 L321.5,221.31 L321.6,220.76 L321.7,220.20 L321.8,219.64 L321.9,219.08 L322.0,218.53 L322.1,217.97 L322.2,217.41 L322.4,216.86 L322.5,216.30 L322.6,215.75 L322.7,215.19 L322.8,214.64 L322.9,214.08 L323.1,213.53 L323.2,212.98 L323.3,212.43 L323.4,211.88 L323.5,211.34 L323.7,210.79 L323.8,210.25 L323.9,209.70 L324.0,209.16 L324.2,208.63 L324.3,208.09 L324.4,207.55 L324.6,207.02 L324.7,206.49 L324.8,205.96 L325.0,205.43 L325.1,204.90 L325.3,204.37 L325.4,203.85 L325.6,203.32 L325.7,202.80 L325.8,202.28 L326.0,201.76 L326.1,201.23 L326.3,200.71 L326.4,200.19 L326.6,199.67 L326.8,199.15 L326.9,198.64 L327.1,198.12 L327.2,197.60 L327.4,197.08 L327.6,196.56 L327.7,196.04 L327.9,195.52 L328.0,195.00 L328.2,194.48 L328.4,193.96 L328.6,193.44 L328.7,192.92 L328.9,192.40 L329.1,191.87 L329.3,191.35 L329.4,190.82 L329.6,190.30 L329.8,189.77 L330.0,189.24 L330.2,188.71 L330.4,188.18 L330.6,187.65 L330.8,187.12 L330.9,186.58 L331.1,186.04 L331.3,185.50 L331.5,184.96 L331.7,184.42 L331.9,183.88 L332.1,183.33 L332.4,182.78 L332.6,182.23 L332.8,181.68 L333.0,181.13 L333.2,180.58 L333.4,180.03 L333.6,179.48 L333.8,178.93 L334.1,178.38 L334.3,177.82 L334.5,177.27 L334.7,176.72 L335.0,176.17 L335.2,175.62 L335.4,175.08 L335.6,174.53 L335.9,173.99 L336.1,173.44 L336.4,172.90 L336.6,172.36 L336.8,171.83 L337.1,171.29 L337.3,170.76 L337.6,170.23 L337.8,169.71 L338.1,169.18 L338.3,168.66 L338.6,168.14 L338.8,167.62 L339.1,167.10 L339.4,166.59 L339.6,166.07 L339.9,165.56 L340.2,165.05 L340.4,164.55 L340.7,164.04 L341.0,163.54 L341.3,163.04 L341.5,162.54 L341.8,162.04 L342.1,161.55 L342.4,161.05 L342.7,160.56 L343.0,160.07 L343.2,159.59 L343.5,159.10 L343.8,158.62 L344.1,158.13 L344.4,157.65 L344.7,157.17 L345.0,156.70 L345.4,156.22 L345.7,155.75 L346.0,155.27 L346.3,154.80 L346.6,154.33 L346.9,153.87 L347.3,153.40 L347.6,152.94 L347.9,152.47 L348.2,152.01 L348.6,151.55 L348.9,151.09 L349.2,150.64 L349.6,150.18 L349.9,149.73 L350.3,149.27 L350.6,148.82 L351.0,148.37 L351.3,147.92 L351.7,147.48 L352.0,147.03 L352.4,146.59 L352.8,146.14 L353.1,145.70 L353.5,145.26 L353.9,144.82 L354.2,144.38 L354.6,143.94 L355.0,143.51 L355.4,143.07 L355.8,142.64 L356.2,142.20 L356.6,141.77 L357.0,141.34 L357.4,140.91 L357.8,140.48 L358.2,140.05 L358.6,139.63 L359.0,139.20 L359.4,138.78 L359.8,138.35 L360.2,137.93 L360.6,137.51 L361.1,137.09 L361.5,136.66 L361.9,136.25 L362.4,135.83 L362.8,135.41 L363.2,134.99 L363.7,134.57 L364.1,134.16 L364.6,133.74 L365.0,133.33 L365.5,132.92 L365.9,132.50 L366.4,132.09 L366.9,131.68 L367.3,131.27 L367.8,130.86 L368.3,130.45 L368.8,130.04 L369.3,129.63 L369.7,129.22 L370.2,128.81 L370.7,128.40 L371.2,128.00 L371.7,127.59 L372.2,127.18 L372.7,126.78 L373.2,126.37 L373.7,125.97 L374.3,125.57 L374.8,125.16 L375.3,124.76 L375.8,124.36 L376.4,123.96 L376.9,123.57 L377.4,123.17 L378.0,122.77 L378.5,122.38 L379.0,121.99 L379.6,121.60 L380.1,121.21 L380.7,120.83 L381.3,120.45 L381.8,120.07 L382.4,119.69 L382.9,119.31 L383.5,118.94 L384.1,118.57 L384.6,118.20 L385.2,117.84 L385.8,117.47 L386.4,117.12 L387.0,116.76 L387.6,116.41 L388.1,116.06 L388.7,115.72 L389.3,115.37 L389.9,115.04 L390.5,114.70 L391.1,114.37 L391.7,114.05 L392.3,113.73 L392.9,113.41 L393.5,113.10 L394.2,112.79 L394.8,112.48 L395.4,112.18 L396.0,111.89 L396.6,111.60 L397.2,111.32 L397.9,111.04 L398.5,110.76 L399.1,110.49 L399.8,110.23 L400.4,109.97 L401.0,109.72 L401.7,109.47 L402.3,109.23 L402.9,109.00 L403.6,108.77 L404.2,108.55 L404.9,108.33 L405.5,108.12 L406.1,107.92 L406.8,107.72 L407.4,107.53 L408.1,107.34 L408.8,107.16 L409.4,106.99 L410.1,106.82 L410.7,106.66 L411.4,106.50 L412.0,106.35 L412.7,106.21 L413.4,106.06 L414.0,105.93 L414.7,105.79 L415.4,105.67 L416.0,105.54 L416.7,105.42 L417.4,105.31 L418.0,105.20 L418.7,105.09 L419.4,104.99 L420.1,104.88 L420.7,104.79 L421.4,104.69 L422.1,104.60 L422.8,104.51 L423.4,104.43 L424.1,104.35 L424.8,104.26 L425.5,104.19 L426.2,104.11 L426.9,104.04 L427.5,103.96 L428.2,103.90 L428.9,103.83 L429.6,103.76 L430.3,103.70 L431.0,103.64 L431.6,103.58 L432.3,103.52 L433.0,103.47 L433.7,103.41 L434.4,103.36 L435.1,103.31 L435.8,103.27 L436.5,103.22 L437.2,103.18 L437.8,103.14 L438.5,103.10 L439.2,103.07 L439.9,103.03 L440.6,103.00 L441.3,102.97 L442.0,102.95 L442.7,102.92 L443.4,102.90 L444.1,102.88 L444.8,102.86 L445.5,102.84 L446.2,102.83 L446.9,102.81 L447.5,102.80 L448.2,102.80 L448.9,102.79 L449.6,102.79 L450.3,102.78 L451.0,102.78 L451.7,102.79 L452.4,102.79 L453.1,102.80 L453.8,102.81 L454.5,102.82 L455.2,102.83 L455.9,102.85 L456.6,102.87 L457.3,102.89 L458.0,102.91 L458.7,102.93 L459.4,102.96 L460.1,102.99 L460.8,103.02 L461.5,103.05 L462.2,103.09 L462.9,103.12 L463.6,103.16 L464.3,103.21 L465.0,103.25 L465.7,103.30 L466.4,103.34 L467.0,103.39 L467.7,103.45 L468.4,103.50 L469.1,103.56 L469.8,103.62 L470.5,103.68 L471.2,103.74 L471.9,103.81 L472.6,103.88 L473.3,103.95 L474.0,104.02 L474.7,104.09 L475.4,104.17 L476.1,104.25 L476.8,104.33 L477.5,104.41 L478.1,104.50 L478.8,104.59 L479.5,104.68 L480.2,104.77 L480.9,104.86 L481.6,104.96 L482.3,105.06 L483.0,105.16 L483.7,105.26 L484.3,105.37 L485.0,105.48 L485.7,105.59 L486.4,105.70 L487.1,105.81 L487.8,105.93 L488.4,106.05 L489.1,106.17 L489.8,106.30 L490.5,106.42 L491.2,106.55 L491.9,106.68 L492.5,106.81 L493.2,106.95 L493.9,107.08 L494.6,107.22 L495.2,107.36 L495.9,107.51 L496.6,107.65 L497.3,107.80 L497.9,107.95 L498.6,108.10 L499.3,108.26 L499.9,108.42 L500.6,108.57 L501.3,108.74 L502.0,108.90 L502.6,109.07 L503.3,109.23 L504.0,109.41 L504.6,109.58 L505.3,109.75 L505.9,109.93 L506.6,110.11 L507.3,110.29 L507.9,110.48 L508.6,110.66 L509.2,110.85 L509.9,111.04 L510.5,111.24 L511.2,111.43 L511.9,111.63 L512.5,111.83 L513.2,112.03 L513.8,112.24 L514.4,112.45 L515.1,112.65 L515.7,112.87 L516.4,113.08 L517.0,113.30 L517.7,113.52 L518.3,113.74 L518.9,113.96 L519.6,114.18 L520.2,114.41 L520.9,114.64 L521.5,114.88 L522.1,115.11 L522.8,115.35 L523.4,115.59 L524.0,115.83 L524.6,116.07 L525.3,116.32 L525.9,116.57 L526.5,116.82 L527.1,117.07 L527.7,117.32 L528.4,117.58 L529.0,117.84 L529.6,118.10 L530.2,118.37 L530.8,118.63 L531.4,118.90 L532.0,119.17 L532.6,119.45 L533.3,119.72 L533.9,120.00 L534.5,120.28 L535.1,120.56 L535.7,120.84 L536.3,121.13 L536.9,121.42 L537.4,121.71 L538.0,122.00 L538.6,122.30 L539.2,122.59 L539.8,122.89 L540.4,123.19 L541.0,123.50 L541.6,123.80 L542.1,124.11 L542.7,124.42 L543.3,124.73 L543.9,125.04 L544.4,125.36 L545.0,125.68 L545.6,126.00 L546.1,126.32 L546.7,126.64 L547.3,126.97 L547.8,127.30 L548.4,127.63 L548.9,127.96 L549.5,128.29 L550.0,128.63 L550.6,128.97 L551.1,129.31 L551.7,129.65 L552.2,130.00 L552.8,130.34 L553.3,130.69 L553.9,131.04 L554.4,131.39 L554.9,131.75 L555.5,132.11 L556.0,132.46 L556.5,132.82 L557.0,133.19 L557.6,133.55 L558.1,133.92 L558.6,134.28 L559.1,134.66 L559.6,135.03 L560.1,135.40 L560.6,135.78 L561.2,136.15 L561.7,136.53 L562.2,136.92 L562.7,137.30 L563.2,137.68 L563.6,138.07 L564.1,138.46 L564.6,138.85 L565.1,139.24 L565.6,139.64 L566.1,140.04 L566.6,140.43 L567.0,140.83 L567.5,141.24 L568.0,141.64 L568.5,142.05 L568.9,142.45 L569.4,142.86 L569.9,143.27 L570.3,143.69 L570.8,144.10 L571.2,144.52 L571.7,144.94 L572.1,145.36 L572.6,145.78 L573.0,146.20 L573.5,146.63 L573.9,147.05 L574.3,147.48 L574.8,147.91 L575.2,148.34 L575.6,148.78 L576.0,149.21 L576.5,149.65 L576.9,150.09 L577.3,150.53 L577.7,150.97 L578.1,151.42 L578.5,151.86 L578.9,152.31 L579.3,152.76 L579.7,153.21 L580.1,153.67 L580.5,154.12 L580.9,154.58 L581.3,155.03 L581.7,155.49 L582.1,155.95 L582.4,156.42 L582.8,156.88 L583.2,157.35 L583.5,157.81 L583.9,158.28 L584.3,158.75 L584.6,159.22 L585.0,159.70 L585.3,160.17 L585.7,160.65 L586.0,161.13 L586.4,161.61 L586.7,162.09 L587.1,162.57 L587.4,163.05 L587.8,163.54 L588.1,164.02 L588.4,164.51 L588.7,165.00 L589.1,165.49 L589.4,165.98 L589.7,166.47 L590.0,166.97 L590.3,167.46 L590.6,167.96 L591.0,168.46 L591.3,168.96 L591.6,169.46 L591.9,169.96 L592.2,170.46 L592.5,170.96 L592.8,171.47 L593.1,171.97 L593.3,172.48 L593.6,172.99 L593.9,173.50 L594.2,174.01 L594.5,174.52 L594.8,175.03 L595.0,175.54 L595.3,176.06 L595.6,176.57 L595.9,177.09 L596.1,177.60 L596.4,178.12 L596.7,178.64 L596.9,179.16 L597.2,179.68 L597.4,180.20 L597.7,180.72 L597.9,181.24 L598.2,181.77 L598.4,182.29 L598.7,182.82 L598.9,183.34 L599.2,183.87 L599.4,184.40 L599.7,184.92 L599.9,185.45 L600.1,185.98 L600.4,186.51 L600.6,187.04 L600.8,187.57 L601.1,188.10 L601.3,188.63 L601.5,189.17 L601.7,189.70 L602.0,190.23 L602.2,190.77 L602.4,191.30 L602.6,191.84 L602.8,192.37 L603.1,192.91 L603.3,193.45 L603.5,193.98 L603.7,194.52 L603.9,195.06 L604.1,195.59 L604.3,196.13 L604.5,196.67 L604.7,197.21 L604.9,197.75 L605.1,198.29 L605.3,198.83 L605.5,199.37 L605.7,199.91 L605.9,200.45 L606.1,200.99 L606.3,201.53 L606.5,202.07 L606.7,202.61 L606.9,203.15 L607.1,203.69 L607.2,204.24 L607.4,204.78 L607.6,205.32 L607.8,205.86 L608.0,206.40 L608.2,206.94 L608.3,207.48 L608.5,208.03 L608.7,208.57 L608.9,209.11 L609.0,209.65 L609.2,210.19 L609.4,210.73 L609.6,211.27 L609.7,211.82 L609.9,212.36 L610.1,212.90 L610.3,213.44 L610.4,213.98 L610.6,214.52 L610.8,215.06 L610.9,215.60 L611.1,216.14 L611.3,216.67 L611.4,217.21 L611.6,217.75 L611.8,218.29 L611.9,218.83 L612.1,219.36 L612.2,219.90 L612.4,220.44 L612.6,220.98 L612.7,221.51 L612.9,222.05 L613.0,222.58 L613.2,223.12 L613.4,223.65 L613.5,224.19 L613.7,224.72 L613.8,225.26 L614.0,225.79 L614.2,226.33 L614.3,226.86 L614.5,227.39 L614.6,227.92 L614.8,228.46 L614.9,228.99 L615.1,229.52 L615.2,230.05 L615.4,230.58 L615.6,231.11 L615.7,231.64 L615.9,232.17 L616.0,232.70 L616.2,233.23 L616.3,233.76 L616.5,234.29 L616.6,234.82 L616.8,235.34 L616.9,235.87 L617.1,236.40 L617.3,236.92 L617.4,237.45 L617.6,237.98 L617.7,238.50 L617.9,239.03 L618.0,239.55 L618.2,240.07 L618.3,240.60 L618.5,241.12 L618.7,241.64 L618.8,242.17 L619.0,242.69 L619.1,243.21 L619.3,243.73 L619.4,244.25 L619.6,244.77 L619.8,245.29 L619.9,245.81 L620.1,246.33 L620.2,246.85 L620.4,247.37 L620.6,247.88 L620.7,248.40 L620.9,248.92 L621.0,249.43 L621.2,249.95 L621.4,250.46 L621.5,250.98 L621.7,251.49 L621.9,252.01 L622.0,252.52 L622.2,253.03 L622.4,253.55 L622.5,254.06 L622.7,254.57 L622.9,255.08 L623.0,255.59 L623.2,256.10 L623.4,256.61 L623.6,257.12 L623.7,257.63 L623.9,258.13 L624.1,258.64 L624.3,259.15 L624.4,259.65 L624.6,260.16 L624.8,260.66 L625.0,261.17 L625.2,261.67 L625.3,262.18 L625.5,262.68 L625.7,263.18 L625.9,263.68 L626.1,264.19 L626.3,264.69 L626.5,265.19 L626.6,265.69 L626.8,266.19 L627.0,266.70 L627.2,267.20 L627.4,267.71 L627.6,268.21 L627.8,268.72 L628.0,269.24 L628.2,269.75 L628.4,270.27 L628.6,270.79 L628.8,271.31 L629.0,271.83 L629.2,272.36 L629.4,272.90 L629.7,273.43 L629.9,273.98 L630.1,274.52 L630.3,275.07 L630.5,275.63 L630.7,276.19 L631.0,276.76 L631.2,277.33 L631.4,277.91 L631.6,278.49 L631.8,279.09 L632.1,279.68 L632.3,280.29 L632.5,280.90 L632.8,281.52 L633.0,282.15 L633.2,282.79 L633.5,283.43 L633.7,284.08 L634.0,284.74 L634.2,285.41 L634.5,286.09 L634.7,286.76 L635.0,287.43 L635.2,288.10 L635.5,288.76 L635.7,289.40 L636.0,290.03 L636.2,290.63 L636.5,291.21 L636.7,291.76 L637.0,292.28 L637.3,292.77 L637.5,293.22 L637.8,293.62 L638.0,293.98 L638.3,294.29 L638.6,294.55 L638.8,294.75 L639.1,294.88 L639.4,294.96 L639.6,294.97 L639.9,294.92 L640.1,294.81 L640.4,294.64 L640.7,294.42 L640.9,294.15 L641.2,293.83 L641.5,293.46 L641.7,293.05 L642.0,292.60 L642.2,292.12 L642.5,291.60 L642.8,291.04 L643.0,290.46 L643.3,289.85 L643.5,289.21 L643.8,288.55 L644.0,287.88 L644.3,287.18 L644.5,286.48 L644.8,285.76 L645.0,285.03 L645.3,284.30 L645.5,283.57 L645.8,282.83 L646.0,282.10 L646.2,281.37 L646.5,280.65 L646.7,279.94 L646.9,279.25 L647.2,278.56 L647.4,277.88 L647.6,277.21 L647.8,276.56 L648.1,275.91 L648.3,275.27 L648.5,274.65 L648.7,274.03 L648.9,273.42 L649.1,272.81 L649.3,272.22 L649.5,271.63 L649.8,271.05 L650.0,270.48 L650.2,269.92 L650.4,269.36 L650.6,268.81 L650.8,268.27 L651.0,267.73 L651.2,267.19 L651.4,266.67 L651.6,266.14 L651.8,265.63 L652.0,265.11 L652.1,264.60 L652.3,264.10 L652.5,263.60 L652.7,263.10 L652.9,262.60 L653.1,262.11 L653.3,261.62 L653.5,261.14 L653.7,260.65 L653.9,260.17 L654.1,259.69 L654.3,259.21 L654.5,258.73 L654.7,258.25 L654.8,257.77 L655.0,257.29 L655.2,256.82 L655.4,256.34 L655.6,255.86 L655.8,255.38 L656.0,254.90 L656.2,254.42 L656.4,253.93 L656.6,253.45 L656.8,252.96 L657.0,252.48 L657.2,251.99 L657.4,251.50 L657.6,251.01 L657.8,250.51 L658.0,250.02 L658.2,249.53 L658.4,249.03 L658.6,248.54 L658.8,248.04 L659.0,247.54 L659.2,247.04 L659.4,246.54 L659.6,246.04 L659.8,245.53 L660.0,245.03 L660.2,244.52 L660.4,244.02 L660.6,243.51 L660.8,243.00 L661.0,242.49 L661.2,241.98 L661.4,241.47 L661.6,240.96 L661.8,240.44 L662.0,239.93 L662.2,239.41 L662.4,238.90 L662.6,238.38 L662.8,237.86 L663.0,237.34 L663.1,236.82 L663.3,236.30 L663.5,235.78 L663.7,235.26 L663.9,234.74 L664.1,234.21 L664.2,233.69 L664.4,233.16 L664.6,232.63 L664.8,232.11 L664.9,231.58 L665.1,231.05 L665.3,230.52 L665.5,229.99 L665.6,229.46 L665.8,228.92 L666.0,228.39 L666.1,227.86 L666.3,227.32 L666.5,226.79 L666.7,226.26 L666.8,225.72 L667.0,225.18 L667.1,224.65 L667.3,224.11 L667.5,223.57 L667.6,223.03 L667.8,222.50 L668.0,221.96 L668.1,221.42 L668.3,220.88 L668.4,220.34 L668.6,219.80 L668.8,219.25 L668.9,218.71 L669.1,218.17 L669.2,217.63 L669.4,217.09 L669.6,216.54 L669.7,216.00 L669.9,215.46 L670.0,214.91 L670.2,214.37 L670.4,213.83 L670.5,213.28 L670.7,212.74 L670.8,212.19 L671.0,211.65 L671.2,211.10 L671.3,210.56 L671.5,210.01 L671.7,209.47 L671.8,208.92 L672.0,208.38 L672.1,207.83 L672.3,207.29 L672.5,206.74 L672.6,206.20 L672.8,205.66 L673.0,205.11 L673.1,204.57 L673.3,204.02 L673.5,203.48 L673.6,202.93 L673.8,202.39 L674.0,201.84 L674.2,201.30 L674.3,200.76 L674.5,200.21 L674.7,199.67 L674.9,199.13 L675.0,198.59 L675.2,198.04 L675.4,197.50 L675.6,196.96 L675.8,196.42 L675.9,195.88 L676.1,195.34 L676.3,194.80 L676.5,194.26 L676.7,193.72 L676.9,193.18 L677.1,192.64 L677.3,192.11 L677.5,191.57 L677.7,191.03 L677.9,190.50 L678.1,189.96 L678.3,189.43 L678.5,188.89 L678.7,188.36 L678.9,187.82 L679.1,187.29 L679.3,186.76 L679.5,186.23 L679.7,185.70 L680.0,185.17 L680.2,184.64 L680.4,184.11 L680.6,183.58 L680.8,183.06 L681.1,182.53 L681.3,182.01 L681.5,181.48 L681.8,180.96 L682.0,180.44 L682.2,179.91 L682.5,179.39 L682.7,178.87 L683.0,178.36 L683.2,177.84 L683.5,177.32 L683.7,176.80 L684.0,176.29 L684.2,175.78 L684.5,175.26 L684.8,174.75 L685.0,174.24 L685.3,173.73 L685.6,173.22 L685.9,172.71 L686.1,172.21 L686.4,171.70 L686.7,171.20 L687.0,170.70 L687.3,170.19 L687.6,169.69 L687.9,169.20 L688.2,168.70 L688.5,168.20 L688.8,167.71 L689.1,167.21 L689.4,166.72 L689.7,166.23 L690.1,165.74 L690.4,165.25 L690.7,164.76 L691.0,164.28 L691.4,163.79 L691.7,163.31 L692.0,162.83 L692.4,162.35 L692.7,161.87 L693.1,161.39 L693.4,160.92 L693.8,160.44 L694.2,159.97 L694.5,159.50 L694.9,159.03 L695.3,158.56 L695.6,158.09 L696.0,157.63 L696.4,157.17 L696.8,156.70 L697.1,156.24 L697.5,155.78 L697.9,155.33 L698.3,154.87 L698.7,154.42 L699.1,153.96 L699.5,153.51 L699.9,153.06 L700.3,152.62 L700.7,152.17 L701.1,151.73 L701.6,151.28 L702.0,150.84 L702.4,150.40 L702.8,149.97 L703.3,149.53 L703.7,149.10 L704.1,148.66 L704.6,148.23 L705.0,147.80 L705.4,147.38 L705.9,146.95 L706.3,146.53 L706.8,146.10 L707.2,145.68 L707.7,145.27 L708.1,144.85 L708.6,144.44 L709.1,144.02 L709.5,143.61 L710.0,143.20 L710.5,142.80 L710.9,142.39 L711.4,141.99 L711.9,141.58 L712.4,141.18 L712.9,140.79 L713.4,140.39 L713.8,140.00 L714.3,139.61 L714.8,139.22 L715.3,138.83 L715.8,138.44 L716.3,138.06 L716.8,137.68 L717.3,137.30 L717.8,136.92 L718.4,136.54 L718.9,136.17 L719.4,135.80 L719.9,135.43 L720.4,135.06 L720.9,134.69 L721.5,134.33 L722.0,133.97 L722.5,133.61 L723.1,133.25 L723.6,132.89 L724.1,132.54 L724.7,132.19 L725.2,131.84 L725.7,131.50 L726.3,131.15 L726.8,130.81 L727.4,130.47 L727.9,130.13 L728.5,129.79 L729.0,129.46 L729.6,129.13 L730.2,128.80 L730.7,128.47 L731.3,128.15 L731.9,127.83 L732.4,127.51 L733.0,127.19 L733.6,126.88 L734.1,126.56 L734.7,126.25 L735.3,125.94 L735.9,125.64 L736.4,125.33 L737.0,125.03 L737.6,124.73 L738.2,124.44 L738.8,124.14 L739.4,123.85 L740.0,123.56 L740.6,123.28 L741.2,122.99 L741.8,122.71 L742.4,122.43 L743.0,122.15 L743.6,121.88 L744.2,121.61 L744.8,121.34 L745.4,121.07 L746.0,120.81 L746.6,120.54 L747.2,120.28 L747.8,120.03 L748.4,119.77 L749.1,119.52 L749.7,119.27 L750.3,119.02 L750.9,118.78 L751.5,118.54 L752.2,118.30 L752.8,118.06 L753.4,117.83 L754.1,117.60 L754.7,117.37 L755.3,117.15 L756.0,116.92 L756.6,116.70 L757.2,116.48 L757.9,116.27 L758.5,116.06 L759.1,115.85 L759.8,115.64 L760.4,115.44 L761.1,115.24 L761.7,115.04 L762.4,114.84 L763.0,114.65 L763.7,114.46 L764.3,114.27 L765.0,114.09 L765.6,113.90 L766.3,113.73 L766.9,113.55 L767.6,113.38 L768.3,113.21 L768.9,113.04 L769.6,112.87 L770.2,112.71 L770.9,112.55 L771.6,112.40 L772.2,112.24 L772.9,112.09 L773.6,111.94 L774.2,111.80 L774.9,111.65 L775.6,111.51 L776.2,111.38 L776.9,111.24 L777.6,111.11 L778.3,110.98 L778.9,110.85 L779.6,110.73 L780.3,110.61 L781.0,110.49 L781.7,110.37 L782.3,110.26 L783.0,110.15 L783.7,110.04 L784.4,109.93 L785.1,109.83 L785.7,109.73 L786.4,109.63 L787.1,109.54 L787.8,109.44 L788.5,109.35 L789.2,109.27 L789.9,109.18 L790.6,109.10 L791.2,109.02 L791.9,108.94 L792.6,108.86 L793.3,108.79 L794.0,108.72 L794.7,108.65 L795.4,108.59 L796.1,108.52 L796.8,108.46 L797.5,108.41 L798.2,108.35 L798.9,108.30 L799.6,108.24 L800.3,108.20 L801.0,108.15 L801.7,108.11 L802.4,108.06 L803.1,108.02 L803.8,107.99 L804.5,107.95 L805.2,107.92 L805.9,107.89 L806.6,107.86 L807.3,107.84 L808.0,107.81 L808.7,107.79 L809.4,107.77 L810.1,107.76 L810.8,107.74 L811.5,107.73 L812.2,107.72 L812.9,107.71 L813.6,107.71 L814.3,107.71 L815.0,107.70 L815.7,107.71 L816.4,107.71 L817.1,107.71 L817.8,107.72 L818.5,107.73 L819.2,107.74 L819.9,107.76 L820.7,107.77 L821.4,107.79 L822.1,107.81 L822.8,107.83 L823.5,107.86 L824.2,107.89 L824.9,107.91 L825.6,107.94 L826.3,107.98 L827.0,108.01 L827.7,108.05 L828.4,108.09 L829.1,108.13 L829.8,108.17 L830.5,108.22 L831.2,108.26 L831.9,108.31 L832.6,108.36 L833.4,108.41 L834.1,108.47 L834.8,108.52 L835.5,108.58 L836.2,108.64 L836.9,108.70 L837.6,108.77 L838.3,108.83 L839.0,108.90 L839.7,108.97 L840.4,109.04 L841.1,109.12 L841.8,109.19 L842.5,109.27 L843.2,109.35 L843.9,109.43 L844.6,109.51 L845.3,109.59 L846.0,109.68 L846.7,109.77 L847.4,109.86 L848.1,109.95 L848.8,110.04 L849.5,110.14 L850.2,110.23 L850.9,110.33 L851.6,110.43 L852.3,110.54 L853.0,110.64 L853.6,110.75 L854.3,110.86 L855.0,110.97 L855.7,111.08 L856.4,111.19 L857.1,111.31 L857.8,111.43 L858.5,111.55 L859.2,111.67 L859.9,111.79 L860.5,111.92 L861.2,112.04 L861.9,112.17 L862.6,112.30 L863.3,112.44 L864.0,112.57 L864.6,112.71 L865.3,112.85 L866.0,112.99 L866.7,113.13 L867.4,113.28 L868.0,113.43 L868.7,113.57 L869.4,113.73 L870.1,113.88 L870.7,114.03 L871.4,114.19 L872.1,114.35 L872.8,114.51 L873.4,114.67 L874.1,114.84 L874.8,115.00 L875.4,115.17 L876.1,115.34 L876.8,115.52 L877.4,115.69 L878.1,115.87 L878.7,116.05 L879.4,116.23 L880.1,116.41 L880.7,116.60 L881.4,116.78 L882.0,116.97 L882.7,117.17 L883.3,117.36 L884.0,117.55 L884.6,117.75 L885.3,117.95 L885.9,118.15 L886.6,118.36 L887.2,118.56 L887.9,118.77 L888.5,118.98 L889.1,119.19 L889.8,119.41 L890.4,119.62 L891.0,119.84 L891.7,120.06 L892.3,120.28 L892.9,120.51 L893.6,120.74 L894.2,120.97 L894.8,121.20 L895.4,121.43 L896.1,121.66 L896.7,121.90 L897.3,122.14 L897.9,122.38 L898.5,122.63 L899.2,122.87 L899.8,123.12 L900.4,123.37 L901.0,123.63 L901.6,123.88 L902.2,124.14 L902.8,124.40 L903.4,124.66 L904.0,124.92 L904.6,125.19 L905.2,125.46 L905.8,125.73 L906.4,126.00 L907.0,126.27 L907.6,126.55 L908.2,126.83 L908.8,127.11 L909.4,127.39 L909.9,127.68 L910.5,127.97 L911.1,128.26 L911.7,128.55 L912.2,128.85 L912.8,129.14 L913.4,129.44 L914.0,129.74 L914.5,130.05 L915.1,130.35 L915.7,130.66 L916.2,130.97 L916.8,131.29 L917.3,131.60 L917.9,131.92 L918.4,132.24 L919.0,132.56 L919.5,132.88 L920.1,133.21 L920.6,133.54 L921.2,133.87 L921.7,134.21 L922.2,134.54 L922.8,134.88 L923.3,135.22 L923.8,135.56 L924.4,135.91 L924.9,136.26 L925.4,136.61 L925.9,136.96 L926.5,137.31 L927.0,137.67 L927.5,138.03 L928.0,138.39 L928.5,138.75 L929.0,139.12 L929.5,139.49 L930.0,139.86 L930.5,140.24 L931.0,140.61 L931.5,140.99 L932.0,141.37 L932.5,141.75 L933.0,142.14 L933.4,142.53 L933.9,142.92 L934.4,143.31 L934.9,143.71 L935.4,144.10 L935.8,144.50 L936.3,144.91 L936.8,145.31 L937.2,145.72 L937.7,146.13 L938.1,146.54 L938.6,146.96 L939.0,147.37 L939.5,147.79 L939.9,148.21 L940.4,148.64 L940.8,149.06 L941.3,149.49 L941.7,149.92 L942.1,150.35 L942.6,150.79 L943.0,151.23 L943.4,151.66 L943.8,152.11 L944.3,152.55 L944.7,152.99 L945.1,153.44 L945.5,153.89 L945.9,154.34 L946.3,154.79 L946.7,155.25 L947.1,155.70 L947.5,156.16 L947.9,156.62 L948.3,157.08 L948.7,157.54 L949.1,158.01 L949.5,158.47 L949.9,158.94 L950.3,159.41 L950.7,159.88 L951.0,160.35 L951.4,160.83 L951.8,161.30 L952.2,161.78 L952.5,162.26 L952.9,162.74 L953.3,163.22 L953.7,163.70 L954.0,164.19 L954.4,164.67 L954.7,165.16 L955.1,165.65 L955.4,166.13 L955.8,166.62 L956.2,167.11 L956.5,167.61 L956.8,168.10 L957.2,168.59 L957.5,169.09 L957.9,169.59 L958.2,170.08 L958.6,170.58 L958.9,171.08 L959.2,171.58 L959.6,172.08 L959.9,172.58 L960.2,173.09 L960.5,173.59 L960.9,174.09 L961.2,174.60 L961.5,175.10 L961.8,175.61 L962.1,176.12 L962.5,176.62 L962.8,177.13 L963.1,177.64 L963.4,178.15 L963.7,178.66 L964.0,179.17 L964.3,179.68 L964.6,180.19 L964.9,180.70 L965.2,181.21 L965.5,181.73 L965.8,182.24 L966.1,182.75 L966.4,183.26 L966.7,183.78 L967.0,184.29 L967.3,184.80 L967.6,185.32 L967.9,185.83 L968.1,186.34 L968.4,186.86 L968.7,187.37 L969.0,187.88 L969.3,188.40 L969.6,188.91 L969.8,189.43 L970.1,189.94 L970.4,190.45 L970.6,190.97 L970.9,191.48 L971.2,191.99 L971.5,192.50 L971.7,193.02 L972.0,193.53 L972.3,194.04 L972.5,194.55 L972.8,195.07 L973.0,195.58 L973.3,196.09 L973.6,196.60 L973.8,197.11 L974.1,197.62 L974.3,198.13 L974.6,198.64 L974.8,199.16 L975.1,199.67 L975.3,200.18 L975.6,200.69 L975.8,201.20 L976.1,201.71 L976.3,202.22 L976.6,202.73 L976.8,203.24 L977.0,203.75 L977.3,204.27 L977.5,204.78 L977.8,205.29 L978.0,205.80 L978.2,206.31 L978.5,206.82 L978.7,207.33 L978.9,207.84 L979.2,208.36 L979.4,208.87 L979.6,209.38 L979.8,209.89 L980.1,210.40 L980.3,210.92 L980.5,211.43 L980.7,211.94 L981.0,212.45 L981.2,212.97 L981.4,213.48 L981.6,213.99 L981.8,214.51 L982.0,215.02 L982.3,215.54 L982.5,216.05 L982.7,216.56 L982.9,217.08 L983.1,217.59 L983.3,218.11 L983.5,218.63 L983.7,219.14 L983.9,219.66 L984.1,220.18 L984.3,220.69 L984.5,221.21 L984.7,221.73 L984.9,222.25 L985.1,222.77 L985.3,223.28 L985.5,223.80 L985.7,224.32 L985.9,224.84 L986.1,225.37 L986.3,225.89 L986.5,226.41 L986.7,226.93 L986.9,227.45 L987.1,227.98 L987.2,228.50 L987.4,229.02 L987.6,229.55 L987.8,230.07 L988.0,230.60 L988.2,231.13 L988.3,231.65 L988.5,232.18 L988.7,232.71 L988.9,233.24 L989.1,233.77 L989.2,234.30 L989.4,234.83 L989.6,235.36 L989.8,235.89 L989.9,236.42 L990.1,236.95 L990.3,237.49 L990.4,238.02 L990.6,238.56 L990.8,239.09 L990.9,239.63 L991.1,240.16 L991.3,240.70 L991.4,241.24 L991.6,241.78 L991.8,242.32 L991.9,242.86 L992.1,243.40 L992.2,243.94 L992.4,244.48 L992.5,245.03 L992.7,245.57 L992.9,246.12 L993.0,246.66 L993.2,247.21 L993.3,247.75 L993.5,248.30 L993.6,248.84 L993.8,249.39 L993.9,249.94 L994.1,250.48 L994.2,251.03 L994.4,251.58 L994.5,252.13 L994.6,252.68 L994.8,253.23 L994.9,253.78 L995.1,254.33 L995.2,254.88 L995.4,255.43 L995.5,255.98 L995.6,256.53 L995.8,257.08 L995.9,257.63 L996.0,258.18 L996.2,258.73 L996.3,259.29 L996.4,259.84 L996.6,260.39 L996.7,260.94 L996.8,261.49 L997.0,262.04 L997.1,262.59 L997.2,263.14 L997.4,263.70 L997.5,264.25 L997.6,264.80 L997.7,265.35 L997.9,265.90 L998.0,266.45 L998.1,267.00 L998.2,267.55 L998.4,268.10 L998.5,268.65 L998.6,269.20 L998.7,269.75 L998.9,270.30 L999.0,270.84 L999.1,271.39 L999.2,271.94 L999.3,272.49 L999.5,273.03 L999.6,273.58 L999.7,274.13 L999.8,274.67 L999.9,275.22 L1000.0,275.76 L1000.1,276.31 L1000.3,276.85 L1000.4,277.39 L1000.5,277.93 L1000.6,278.48 L1000.7,279.02 L1000.8,279.56 L1000.9,280.10 L1001.0,280.63 L1001.1,281.17 L1001.2,281.71 L1001.4,282.25 L1001.5,282.78 L1001.6,283.32 L1001.7,283.85 L1001.8,284.39 L1001.9,284.92 L1002.0,285.45 L1002.1,285.98 L1002.2,286.51 L1002.3,287.04 L1002.4,287.57 L1002.5,288.10 L1002.6,288.62 L1002.7,289.15 L1002.8,289.67 L1002.9,290.20 L1003.0,290.72 L1003.1,291.24 L1003.2,291.76 L1003.3,292.28 L1003.4,292.79 L1003.5,293.31 L1003.6,293.83 L1003.7,294.34 L1003.8,294.85 L1003.9,295.37 L1004.0,295.88 L1004.1,296.38 L1004.2,296.89 L1004.3,297.40 L1004.3,297.90 L1004.4,298.41 L1004.5,298.91 L1004.6,299.41 L1004.7,299.91 L1004.8,300.41 L1004.9,300.91 L1005.0,301.41 L1005.1,301.91 L1005.2,302.41 L1005.3,302.91 L1005.4,303.41 L1005.4,303.91 L1005.5,304.42 L1005.6,304.92 L1005.7,305.43 L1005.8,305.94 L1005.9,306.45 L1006.0,306.96 L1006.1,307.47 L1006.2,307.99 L1006.3,308.51 L1006.4,309.04 L1006.4,309.56 L1006.5,310.09 L1006.6,310.63 L1006.7,311.17 L1006.8,311.71 L1006.9,312.26 L1007.0,312.81 L1007.1,313.37 L1007.2,313.93 L1007.3,314.49 L1007.4,315.07 L1007.5,315.65 L1007.6,316.23 L1007.7,316.82 L1007.8,317.42 L1007.9,318.03 L1008.0,318.64 L1008.1,319.26 L1008.2,319.88 L1008.3,320.52 L1008.4,321.16 L1008.5,321.81 L1008.6,322.46 L1008.7,323.13 L1008.8,323.81 L1008.9,324.49 L1009.0,325.18 L1009.1,325.88 L1009.2,326.60 L1009.4,327.31 L1009.5,328.04 L1009.6,328.77 L1009.7,329.50 L1009.8,330.23 L1009.9,330.97 L1010.1,331.70 L1010.2,332.43 L1010.3,333.16 L1010.4,333.89 L1010.6,334.61 L1010.7,335.32 L1010.8,336.03 L1010.9,336.73 L1011.1,337.42 L1011.2,338.09 L1011.4,338.76 L1011.5,339.41 L1011.6,340.04 L1011.8,340.66 L1011.9,341.26 L1012.1,341.84 L1012.2,342.40 L1012.3,342.94 L1012.5,343.46 L1012.6,343.96 L1012.8,344.43 L1013.0,344.87 L1013.1,345.29 L1013.3,345.68 L1013.4,346.03 L1013.6,346.36 L1013.8,346.66 L1013.9,346.92 L1014.1,347.14 L1014.3,347.33 L1014.5,347.49 L1014.6,347.60 L1014.8,347.67 L1015.0,347.71 L1015.2,347.70 L1015.4,347.65 L1015.5,347.56 L1015.7,347.44 L1015.9,347.27 L1016.1,347.07 L1016.3,346.83 L1016.5,346.57 L1016.7,346.26 L1016.9,345.93 L1017.1,345.56 L1017.3,345.17 L1017.5,344.75 L1017.7,344.30 L1017.9,343.83 L1018.1,343.33 L1018.3,342.81 L1018.5,342.27 L1018.7,341.71 L1018.9,341.12 L1019.1,340.52 L1019.3,339.90 L1019.5,339.27 L1019.7,338.62 L1019.9,337.96 L1020.1,337.29 L1020.3,336.60 L1020.5,335.90 L1020.7,335.20 L1020.9,334.49 L1021.1,333.77 L1021.3,333.05 L1021.5,332.32 L1021.7,331.59 L1021.8,330.86 L1022.0,330.12 L1022.2,329.39 L1022.4,328.66 L1022.5,327.94 L1022.7,327.22 L1022.9,326.50 L1023.0,325.79 L1023.2,325.09 L1023.3,324.40 L1023.5,323.71 L1023.6,323.03 L1023.8,322.37 L1023.9,321.71 L1024.0,321.05 L1024.2,320.41 L1024.3,319.77 L1024.4,319.14 L1024.6,318.52 L1024.7,317.90 L1024.8,317.29 L1024.9,316.68 L1025.0,316.09 L1025.1,315.49 L1025.3,314.91 L1025.4,314.33 L1025.5,313.75 L1025.6,313.18 L1025.7,312.61 L1025.8,312.05 L1025.9,311.50 L1026.0,310.94 L1026.1,310.40 L1026.2,309.85 L1026.3,309.31 L1026.3,308.78 L1026.4,308.24 L1026.5,307.71 L1026.6,307.18 L1026.7,306.66 L1026.8,306.14 L1026.9,305.62 L1027.0,305.10 L1027.1,304.58 L1027.1,304.07 L1027.2,303.56 L1027.3,303.05 L1027.4,302.54 L1027.5,302.03 L1027.6,301.52 L1027.6,301.01 L1027.7,300.51 L1027.8,300.00 L1027.9,299.49 L1028.0,298.98 L1028.1,298.48 L1028.2,297.97 L1028.3,297.46 L1028.4,296.95 L1028.4,296.44 L1028.5,295.93 L1028.6,295.42 L1028.7,294.90 L1028.8,294.39 L1028.9,293.88 L1029.0,293.37 L1029.1,292.85 L1029.2,292.34 L1029.3,291.82 L1029.4,291.31 L1029.5,290.79 L1029.6,290.27 L1029.7,289.76 L1029.8,289.24 L1029.9,288.72 L1030.0,288.20 L1030.1,287.68 L1030.2,287.16 L1030.3,286.64 L1030.4,286.12 L1030.5,285.60 L1030.7,285.08 L1030.8,284.55 L1030.9,284.03 L1031.0,283.51 L1031.1,282.98 L1031.2,282.46 L1031.3,281.93 L1031.4,281.41 L1031.5,280.88 L1031.6,280.36 L1031.8,279.83 L1031.9,279.30 L1032.0,278.77 L1032.1,278.25 L1032.2,277.72 L1032.3,277.19 L1032.5,276.66 L1032.6,276.13 L1032.7,275.60 L1032.8,275.07 L1032.9,274.54 L1033.0,274.01 L1033.2,273.48 L1033.3,272.94 L1033.4,272.41 L1033.5,271.88 L1033.7,271.34 L1033.8,270.81 L1033.9,270.28 L1034.0,269.74 L1034.1,269.21 L1034.3,268.67 L1034.4,268.14 L1034.5,267.60 L1034.6,267.07 L1034.8,266.53 L1034.9,265.99 L1035.0,265.46 L1035.2,264.92 L1035.3,264.38 L1035.4,263.84 L1035.5,263.31 L1035.7,262.77 L1035.8,262.23 L1035.9,261.69 L1036.1,261.15 L1036.2,260.61 L1036.3,260.07 L1036.5,259.53 L1036.6,258.99 L1036.7,258.45 L1036.8,257.91 L1037.0,257.37 L1037.1,256.83 L1037.2,256.28 L1037.4,255.74 L1037.5,255.20 L1037.7,254.66 L1037.8,254.12 L1037.9,253.57 L1038.1,253.03 L1038.2,252.49 L1038.3,251.94 L1038.5,251.40 L1038.6,250.86 L1038.7,250.31 L1038.9,249.77 L1039.0,249.22 L1039.1,248.68 L1039.3,248.13 L1039.4,247.59 L1039.6,247.04 L1039.7,246.50 L1039.8,245.95 L1040.0,245.41 L1040.1,244.86 L1040.2,244.32 L1040.4,243.77 L1040.5,243.22 L1040.7,242.68 L1040.8,242.13 L1040.9,241.59 L1041.1,241.04 L1041.2,240.49 L1041.4,239.95 L1041.5,239.40 L1041.6,238.85 L1041.8,238.31 L1041.9,237.76 L1042.1,237.21 L1042.2,236.66 L1042.3,236.12 L1042.5,235.57 L1042.6,235.02 L1042.8,234.48 L1042.9,233.93 L1043.0,233.38 L1043.2,232.83 L1043.3,232.29 L1043.5,231.74 L1043.6,231.19 L1043.8,230.64 L1043.9,230.10 L1044.0,229.55 L1044.2,229.00 L1044.3,228.45 L1044.5,227.91 L1044.6,227.36 L1044.8,226.81 L1044.9,226.26 L1045.1,225.72 L1045.2,225.17 L1045.3,224.62 L1045.5,224.08 L1045.6,223.53 L1045.8,222.98 L1045.9,222.44 L1046.1,221.89 L1046.2,221.34 L1046.4,220.80 L1046.5,220.25 L1046.7,219.70 L1046.8,219.16 L1047.0,218.61 L1047.1,218.07 L1047.3,217.52 L1047.4,216.98 L1047.6,216.43 L1047.8,215.89 L1047.9,215.34 L1048.1,214.80 L1048.2,214.25 L1048.4,213.71 L1048.5,213.16 L1048.7,212.62 L1048.9,212.08 L1049.0,211.53 L1049.2,210.99 L1049.3,210.45 L1049.5,209.91 L1049.7,209.36 L1049.8,208.82 L1050.0,208.28 L1050.2,207.74 L1050.3,207.20 L1050.5,206.66 L1050.7,206.12 L1050.8,205.58 L1051.0,205.04 L1051.2,204.50 L1051.3,203.96 L1051.5,203.42 L1051.7,202.88 L1051.9,202.34 L1052.0,201.80 L1052.2,201.27 L1052.4,200.73 L1052.6,200.19 L1052.8,199.65 L1052.9,199.12 L1053.1,198.58 L1053.3,198.05 L1053.5,197.51 L1053.7,196.98 L1053.9,196.44 L1054.0,195.91 L1054.2,195.38 L1054.4,194.84 L1054.6,194.31 L1054.8,193.78 L1055.0,193.25 L1055.2,192.72 L1055.4,192.19 L1055.6,191.66 L1055.8,191.13 L1056.0,190.60 L1056.2,190.07 L1056.4,189.54 L1056.6,189.02 L1056.8,188.49 L1057.0,187.96 L1057.2,187.44 L1057.4,186.91 L1057.6,186.39 L1057.8,185.86 L1058.1,185.34 L1058.3,184.81 L1058.5,184.29 L1058.7,183.77 L1058.9,183.25 L1059.1,182.73 L1059.4,182.21 L1059.6,181.69 L1059.8,181.17 L1060.0,180.65 L1060.3,180.13 L1060.5,179.61 L1060.7,179.10 L1061.0,178.58 L1061.2,178.07 L1061.4,177.55 L1061.7,177.04 L1061.9,176.53 L1062.2,176.01 L1062.4,175.50 L1062.6,174.99 L1062.9,174.48 L1063.1,173.97 L1063.4,173.46 L1063.6,172.95 L1063.9,172.44 L1064.1,171.94 L1064.4,171.43 L1064.7,170.92 L1064.9,170.42 L1065.2,169.92 L1065.4,169.41 L1065.7,168.91 L1066.0,168.41 L1066.2,167.91 L1066.5,167.41 L1066.8,166.91 L1067.1,166.41 L1067.3,165.91 L1067.6,165.41 L1067.9,164.92 L1068.2,164.42 L1068.5,163.93 L1068.8,163.44 L1069.0,162.94 L1069.3,162.45 L1069.6,161.96 L1069.9,161.47 L1070.2,160.98 L1070.5,160.49 L1070.8,160.00 L1071.1,159.52 L1071.4,159.03 L1071.7,158.55 L1072.0,158.06 L1072.4,157.58 L1072.7,157.10 L1073.0,156.62 L1073.3,156.14 L1073.6,155.66 L1073.9,155.18 L1074.3,154.70 L1074.6,154.22 L1074.9,153.75 L1075.3,153.27 L1075.6,152.80 L1075.9,152.33 L1076.3,151.86 L1076.6,151.39 L1077.0,150.92 L1077.3,150.45 L1077.6,149.98 L1078.0,149.51 L1078.4,149.05 L1078.7,148.58 L1079.1,148.12 L1079.4,147.66 L1079.8,147.20 L1080.2,146.74 L1080.5,146.28 L1080.9,145.82 L1081.3,145.36 L1081.6,144.91 L1082.0,144.45 L1082.4,144.00 L1082.8,143.55 L1083.2,143.10 L1083.6,142.64 L1083.9,142.20 L1084.3,141.75 L1084.7,141.30 L1085.1,140.86 L1085.5,140.41 L1085.9,139.97 L1086.3,139.53 L1086.8,139.08 L1087.2,138.64 L1087.6,138.21 L1088.0,137.77 L1088.4,137.33 L1088.8,136.90 L1089.3,136.46 L1089.7,136.03 L1090.1,135.60 L1090.6,135.17 L1091.0,134.74 L1091.4,134.31 L1091.9,133.89 L1092.3,133.46 L1092.8,133.04 L1093.2,132.62 L1093.7,132.19 L1094.1,131.77 L1094.6,131.36 L1095.1,130.94 L1095.5,130.52 L1096.0,130.11 L1096.5,129.69 L1096.9,129.28 L1097.4,128.87 L1097.9,128.46 L1098.4,128.05 L1098.9,127.65 L1099.4,127.24 L1099.9,126.84 L1100.4,126.44 L1100.9,126.04 L1101.4,125.64 L1101.9,125.24 L1102.4,124.84 L1102.9,124.45 L1103.4,124.05 L1103.9,123.66 L1104.4,123.27 L1105.0,122.89 L1105.5,122.50 L1106.0,122.12 L1106.5,121.73 L1107.1,121.35 L1107.6,120.97 L1108.2,120.60 L1108.7,120.22 L1109.2,119.85 L1109.8,119.48 L1110.3,119.11 L1110.9,118.75 L1111.4,118.38 L1112.0,118.02 L1112.6,117.66 L1113.1,117.31 L1113.7,116.95 L1114.3,116.60 L1114.8,116.25 L1115.4,115.91 L1116.0,115.56 L1116.6,115.22 L1117.1,114.88 L1117.7,114.54 L1118.3,114.21 L1118.9,113.88 L1119.5,113.55 L1120.1,113.23 L1120.7,112.90 L1121.3,112.58 L1121.9,112.27 L1122.4,111.95 L1123.1,111.64 L1123.7,111.34 L1124.3,111.03 L1124.9,110.73 L1125.5,110.43 L1126.1,110.14 L1126.7,109.84 L1127.3,109.56 L1127.9,109.27 L1128.6,108.99 L1129.2,108.71 L1129.8,108.43 L1130.4,108.16 L1131.0,107.89 L1131.7,107.63 L1132.3,107.37 L1132.9,107.11 L1133.6,106.86 L1134.2,106.61 L1134.8,106.36 L1135.5,106.12 L1136.1,105.88 L1136.8,105.64 L1137.4,105.41 L1138.0,105.18 L1138.7,104.96 L1139.3,104.74 L1140.0,104.53 L1140.6,104.32 L1141.3,104.11 L1141.9,103.91 L1142.6,103.71 L1143.2,103.51 L1143.9,103.32 L1144.6,103.14 L1145.2,102.95 L1145.9,102.78 L1146.5,102.60 L1147.2,102.43 L1147.9,102.27 L1148.5,102.11 L1149.2,101.95 L1149.9,101.80 L1150.5,101.65 L1151.2,101.51 L1151.9,101.37 L1152.5,101.23 L1153.2,101.10 L1153.9,100.97 L1154.6,100.84 L1155.2,100.72 L1155.9,100.61 L1156.6,100.49 L1157.3,100.38 L1157.9,100.28 L1158.6,100.17 L1159.3,100.07 L1160.0,99.98 L1160.7,99.89 L1161.3,99.80 L1162.0,99.71 L1162.7,99.63 L1163.4,99.55 L1164.1,99.47 L1164.8,99.40 L1165.5,99.33 L1166.1,99.27 L1166.8,99.20 L1167.5,99.14 L1168.2,99.09 L1168.9,99.03 L1169.6,98.98 L1170.3,98.93 L1171.0,98.89 L1171.6,98.85 L1172.3,98.81 L1173.0,98.77 L1173.7,98.74 L1174.4,98.71 L1175.1,98.68 L1175.8,98.65 L1176.5,98.63 L1177.2,98.61 L1177.9,98.59 L1178.5,98.57 L1179.2,98.56 L1179.9,98.55 L1180.6,98.54 L1181.3,98.54 L1182.0,98.53 L1182.7,98.53 L1183.4,98.53 L1184.1,98.54 L1184.8,98.54 L1185.5,98.55 L1186.2,98.56 L1186.8,98.58 L1187.5,98.59 L1188.2,98.61 L1188.9,98.63 L1189.6,98.66 L1190.3,98.69 L1191.0,98.72 L1191.7,98.75 L1192.4,98.79 L1193.0,98.83 L1193.7,98.87 L1194.4,98.91 L1195.1,98.96 L1195.8,99.01 L1196.5,99.07 L1197.2,99.12 L1197.9,99.18 L1198.5,99.25 L1199.2,99.32 L1199.9,99.39 L1200.6,99.46 L1201.3,99.54 L1201.9,99.62 L1202.6,99.70 L1203.3,99.79 L1204.0,99.88 L1204.7,99.97 L1205.3,100.07 L1206.0,100.17 L1206.7,100.27 L1207.4,100.38 L1208.0,100.49 L1208.7,100.61 L1209.4,100.73 L1210.0,100.85 L1210.7,100.98 L1211.4,101.11 L1212.0,101.24 L1212.7,101.38 L1213.4,101.52 L1214.0,101.67 L1214.7,101.82 L1215.4,101.97 L1216.0,102.13 L1216.7,102.29 L1217.3,102.46 L1218.0,102.63 L1218.7,102.80 L1219.3,102.98 L1220.0,103.16 L1220.6,103.35 L1221.3,103.54 L1221.9,103.74 L1222.6,103.94 L1223.2,104.14 L1223.8,104.35 L1224.5,104.56 L1225.1,104.78 L1225.8,105.00 L1226.4,105.23 L1227.0,105.45 L1227.7,105.69 L1228.3,105.93 L1228.9,106.17 L1229.6,106.41 L1230.2,106.66 L1230.8,106.91 L1231.4,107.17 L1232.1,107.43 L1232.7,107.69 L1233.3,107.96 L1233.9,108.23 L1234.5,108.51 L1235.1,108.79 L1235.8,109.07 L1236.4,109.36 L1237.0,109.64 L1237.6,109.94 L1238.2,110.23 L1238.8,110.53 L1239.4,110.83 L1240.0,111.14 L1240.6,111.45 L1241.2,111.76 L1241.7,112.07 L1242.3,112.39 L1242.9,112.71 L1243.5,113.04 L1244.1,113.36 L1244.7,113.69 L1245.2,114.03 L1245.8,114.36 L1246.4,114.70 L1246.9,115.04 L1247.5,115.39 L1248.1,115.73 L1248.6,116.08 L1249.2,116.43 L1249.7,116.79 L1250.3,117.14 L1250.8,117.50 L1251.4,117.86 L1251.9,118.23 L1252.5,118.59 L1253.0,118.96 L1253.6,119.33 L1254.1,119.70 L1254.6,120.08 L1255.1,120.46 L1255.7,120.84 L1256.2,121.22 L1256.7,121.60 L1257.2,121.99 L1257.7,122.37 L1258.2,122.76 L1258.7,123.15 L1259.3,123.55 L1259.8,123.94 L1260.2,124.34 L1260.7,124.73 L1261.2,125.13 L1261.7,125.54 L1262.2,125.94 L1262.7,126.34 L1263.2,126.75 L1263.6,127.16 L1264.1,127.56 L1264.6,127.97 L1265.1,128.38 L1265.5,128.80 L1266.0,129.21 L1266.4,129.63 L1266.9,130.04 L1267.4,130.46 L1267.8,130.88 L1268.3,131.30 L1268.7,131.72 L1269.2,132.14 L1269.6,132.56 L1270.1,132.98 L1270.5,133.41 L1270.9,133.83 L1271.4,134.26 L1271.8,134.68 L1272.3,135.11 L1272.7,135.54 L1273.1,135.96 L1273.6,136.39 L1274.0,136.82 L1274.4,137.25 L1274.9,137.68 L1275.3,138.11 L1275.7,138.54 L1276.2,138.97 L1276.6,139.40 L1277.0,139.84 L1277.4,140.27 L1277.9,140.70 L1278.3,141.13 L1278.7,141.56 L1279.1,141.99 L1279.6,142.43 L1280.0,142.86 L1280.4,143.29 L1280.9,143.72 L1281.3,144.15 L1281.7,144.58 L1282.1,145.02 L1282.6,145.45 L1283.0,145.88 L1283.4,146.31 L1283.8,146.74 L1284.3,147.16 L1284.7,147.59 L1285.1,148.02 L1285.6,148.45 L1286.0,148.87 L1286.4,149.30 L1286.9,149.73 L1287.3,150.15 L1287.7,150.57 L1288.2,151.00 L1288.6,151.42 L1289.1,151.84 L1289.5,152.26 L1290.0,152.68 L1290.4,153.10 L1290.8,153.51 L1291.3,153.93 L1291.8,154.35 L1292.2,154.76 L1292.7,155.17 L1293.1,155.58 L1293.6,155.99 L1294.0,156.40 L1294.5,156.81 L1295.0,157.21 L1295.5,157.62 L1295.9,158.02 L1296.4,158.42"/>
<path stroke="#FF0000" d="M70.8,53.54 L71.3,53.54 L71.8,53.54 L72.3,53.54 L72.8,53.54 L73.3,53.54 L73.8,53.54 L74.3,53.54 L74.8,53.54 L75.3,53.54 L75.8,53.54 L76.3,53.54 L76.8,53.54 L77.3,53.54 L77.8,53.54 L78.3,53.54 L78.8,53.54 L79.3,53.54 L79.8,53.54 L80.3,53.54 L80.8,53.54 L81.3,53.54 L81.8,53.54 L82.3,53.54 L82.8,53.54 L83.3,53.54 L83.8,53.54 L84.3,53.54 L84.8,53.54 L85.3,53.54 L85.8,53.54 L86.3,53.54 L86.8,53.54 L87.3,53.54 L87.8,53.54 L88.3,53.54 L88.8,53.54 L89.3,53.54 L89.8,53.54 L90.3,53.54 L90.8,53.54 L91.3,53.54 L91.8,53.54 L92.3,53.54 L92.8,53.54 L93.3,53.54 L93.8,53.54 L94.3,53.54 L94.8,53.54 L95.3,53.54 L95.8,53.54 L96.3,53.54 L96.8,53.54 L97.3,53.54 L97.8,53.54 L98.3,53.54 L98.8,53.54 L99.3,53.54 L99.8,53.54 L100.3,53.54 L100.8,53.54 L101.3,53.54 L101.8,53.54 L102.3,53.54 L102.8,53.54 L103.3,53.54 L103.8,53.54 L104.3,53.54 L104.8,53.54 L105.3,53.54 L105.8,53.54 L106.3,53.53 L106.8,53.52 L107.3,53.51 L107.8,53.49 L108.3,53.47 L108.8,53.45 L109.3,53.42 L109.8,53.40 L110.3,53.37 L110.8,53.34 L111.3,53.31 L111.8,53.28 L112.3,53.25 L112.8,53.21 L113.3,53.18 L113.8,53.15 L114.3,53.11 L114.8,53.08 L115.3,53.05 L115.8,53.01 L116.3,52.98 L116.8,52.95 L117.3,52.92 L117.8,52.90 L118.3,52.87 L118.8,52.85 L119.3,52.83 L119.8,52.81 L120.3,52.79 L120.8,52.78 L121.3,52.77 L121.8,52.76 L122.3,52.76 L122.8,52.76 L123.3,52.76 L123.8,52.78 L124.3,52.80 L124.8,52.83 L125.3,52.86 L125.8,52.90 L126.3,52.94 L126.8,52.99 L127.3,53.05 L127.8,53.10 L128.3,53.17 L128.8,53.23 L129.3,53.30 L129.8,53.37 L130.3,53.45 L130.8,53.53 L131.3,53.61 L131.8,53.69 L132.3,53.78 L132.8,53.86 L133.3,53.95 L133.8,54.04 L134.3,54.13 L134.8,54.22 L135.3,54.31 L135.8,54.40 L136.3,54.49 L136.8,54.58 L137.3,54.68 L137.8,54.78 L138.3,54.89 L138.8,55.01 L139.3,55.13 L139.8,55.26 L140.0,55.32 L140.7,55.49 L141.3,55.66 L142.0,55.84 L142.6,56.02 L143.3,56.21 L143.9,56.40 L144.5,56.60 L145.2,56.80 L145.8,57.00 L146.5,57.21 L147.1,57.42 L147.7,57.64 L148.3,57.85 L149.0,58.08 L149.6,58.30 L150.2,58.54 L150.8,58.78 L151.4,59.03 L152.0,59.29 L152.7,59.56 L153.3,59.84 L153.9,60.12 L154.5,60.41 L155.1,60.71 L155.7,61.02 L156.3,61.33 L156.9,61.65 L157.5,61.97 L158.0,62.30 L158.6,62.64 L159.2,62.98 L159.8,63.33 L160.4,63.68 L160.9,64.04 L161.5,64.41 L162.1,64.78 L162.6,65.16 L163.2,65.54 L163.8,65.93 L164.3,66.33 L164.9,66.73 L165.4,67.12 L166.0,67.52 L166.5,67.93 L167.1,68.33 L167.6,68.74 L168.1,69.15 L168.7,69.56 L169.2,69.97 L169.7,70.39 L170.3,70.81 L170.8,71.22 L171.3,71.64 L171.8,72.06 L172.3,72.48 L172.8,72.90 L173.3,73.32 L173.8,73.74 L174.3,74.16 L174.8,74.58 L175.3,75.00 L175.8,75.42 L176.3,75.83 L176.8,76.25 L177.2,76.67 L177.7,77.08 L178.2,77.50 L178.6,77.91 L179.1,78.33 L179.6,78.74 L180.0,79.15 L180.5,79.56 L180.9,79.97 L181.4,80.39 L181.8,80.80 L182.2,81.21 L182.7,81.62 L183.1,82.03 L183.6,82.44 L184.0,82.85 L184.4,83.25 L184.8,83.66 L185.3,84.07 L185.7,84.48 L186.1,84.89 L186.5,85.30 L186.9,85.71 L187.4,86.12 L187.8,86.53 L188.2,86.94 L188.6,87.35 L189.0,87.76 L189.4,88.17 L189.8,88.58 L190.2,88.99 L190.6,89.40 L191.0,89.81 L191.4,90.22 L191.8,90.64 L192.2,91.05 L192.6,91.46 L193.0,91.88 L193.4,92.29 L193.8,92.71 L194.1,93.12 L194.5,93.54 L194.9,93.96 L195.3,94.38 L195.7,94.80 L196.1,95.22 L196.5,95.64 L196.9,96.06 L197.2,96.49 L197.6,96.91 L198.0,97.34 L198.4,97.77 L198.8,98.19 L199.2,98.62 L199.5,99.05 L199.9,99.49 L200.3,99.92 L200.7,100.35 L201.1,100.79 L201.5,101.23 L201.9,101.67 L202.2,102.11 L202.6,102.55 L203.0,102.99 L203.4,103.44 L203.8,103.88 L204.2,104.33 L204.6,104.78 L205.0,105.24 L205.3,105.69 L205.7,106.14 L206.1,106.60 L206.5,107.06 L206.9,107.52 L207.3,107.99 L207.7,108.45 L208.1,108.92 L208.5,109.39 L208.9,109.86 L209.3,110.34 L209.7,110.81 L210.1,111.29 L210.6,111.77 L211.0,112.25 L211.4,112.74 L211.8,113.23 L212.2,113.71 L212.6,114.20 L213.1,114.69 L213.5,115.18 L213.9,115.67 L214.3,116.16 L214.8,116.65 L215.2,117.14 L215.6,117.63 L216.1,118.12 L216.5,118.60 L217.0,119.09 L217.4,119.57 L217.9,120.05 L218.3,120.53 L218.8,121.00 L219.3,121.47 L219.7,121.94 L220.2,122.40 L220.7,122.86 L221.2,123.32 L221.6,123.77 L222.1,124.21 L222.6,124.65 L223.1,125.09 L223.6,125.52 L224.1,125.94 L224.6,126.35 L225.1,126.76 L225.7,127.17 L226.2,127.56 L226.7,127.95 L227.2,128.33 L227.8,128.71 L228.3,129.07 L228.9,129.43 L229.4,129.77 L230.0,130.11 L230.6,130.44 L231.1,130.76 L231.7,131.06 L232.3,131.36 L232.9,131.65 L233.5,131.93 L234.1,132.19 L234.7,132.45 L235.3,132.69 L235.9,132.92 L236.5,133.14 L237.2,133.34 L237.8,133.53 L238.4,133.71 L239.1,133.88 L239.7,134.03 L240.4,134.17 L241.1,134.29 L241.7,134.40 L242.4,134.50 L243.1,134.58 L243.7,134.64 L244.4,134.69 L245.1,134.72 L245.7,134.74 L246.4,134.73 L247.1,134.72 L247.7,134.68 L248.4,134.63 L249.0,134.56 L249.7,134.48 L250.3,134.39 L251.0,134.27 L251.6,134.15 L252.3,134.01 L252.9,133.86 L253.6,133.69 L254.2,133.52 L254.9,133.33 L255.5,133.13 L256.1,132.92 L256.8,132.69 L257.4,132.46 L258.0,132.22 L258.6,131.97 L259.3,131.71 L259.9,131.45 L260.5,131.17 L261.1,130.89 L261.8,130.60 L262.4,130.31 L263.0,130.01 L263.6,129.70 L264.2,129.39 L264.8,129.07 L265.4,128.75 L266.0,128.43 L266.6,128.10 L267.3,127.77 L267.9,127.44 L268.5,127.11 L269.1,126.77 L269.7,126.43 L270.3,126.10 L270.9,125.76 L271.5,125.43 L272.1,125.09 L272.6,124.76 L273.2,124.42 L273.8,124.09 L274.4,123.76 L275.0,123.44 L275.6,123.11 L276.2,122.78 L276.8,122.46 L277.4,122.14 L278.0,121.82 L278.5,121.50 L279.1,121.18 L279.7,120.87 L280.3,120.55 L280.9,120.24 L281.5,119.93 L282.1,119.62 L282.6,119.31 L283.2,119.00 L283.8,118.70 L284.4,118.39 L285.0,118.09 L285.6,117.79 L286.2,117.49 L286.7,117.19 L287.3,116.90 L287.9,116.60 L288.5,116.31 L289.1,116.02 L289.7,115.73 L290.2,115.44 L290.8,115.15 L291.4,114.86 L292.0,114.58 L292.6,114.30 L293.2,114.02 L293.8,113.74 L294.4,113.46 L295.0,113.18 L295.5,112.91 L296.1,112.63 L296.7,112.36 L297.3,112.09 L297.9,111.82 L298.5,111.55 L299.1,111.29 L299.7,111.02 L300.3,110.76 L300.9,110.50 L301.5,110.24 L302.1,109.98 L302.7,109.72 L303.3,109.47 L303.9,109.21 L304.5,108.96 L305.2,108.71 L305.8,108.46 L306.4,108.21 L307.0,107.97 L307.6,107.72 L308.2,107.48 L308.9,107.24 L309.5,107.00 L310.1,106.76 L310.7,106.53 L311.3,106.29 L312.0,106.06 L312.6,105.83 L313.2,105.60 L313.9,105.37 L314.5,105.14 L315.1,104.92 L315.7,104.70 L316.4,104.48 L317.0,104.26 L317.7,104.04 L318.3,103.83 L318.9,103.61 L319.6,103.40 L320.2,103.19 L320.9,102.98 L321.5,102.78 L322.1,102.57 L322.8,102.37 L323.4,102.17 L324.1,101.97 L324.7,101.77 L325.4,101.58 L326.0,101.38 L326.7,101.19 L327.3,101.00 L328.0,100.82 L328.7,100.63 L329.3,100.45 L330.0,100.27 L330.6,100.09 L331.3,99.91 L331.9,99.73 L332.6,99.56 L333.3,99.39 L333.9,99.22 L334.6,99.05 L335.3,98.89 L335.9,98.72 L336.6,98.56 L337.3,98.40 L337.9,98.25 L338.6,98.09 L339.3,97.94 L340.0,97.79 L340.6,97.64 L341.3,97.49 L342.0,97.35 L342.6,97.21 L343.3,97.07 L344.0,96.93 L344.7,96.80 L345.4,96.66 L346.0,96.53 L346.7,96.40 L347.4,96.28 L348.1,96.15 L348.8,96.03 L349.5,95.91 L350.1,95.80 L350.8,95.68 L351.5,95.57 L352.2,95.46 L352.9,95.35 L353.6,95.25 L354.3,95.14 L354.9,95.04 L355.6,94.94 L356.3,94.85 L357.0,94.75 L357.7,94.66 L358.4,94.57 L359.1,94.49 L359.8,94.40 L360.5,94.32 L361.2,94.24 L361.9,94.17 L362.6,94.09 L363.3,94.02 L364.0,93.95 L364.7,93.88 L365.4,93.82 L366.1,93.76 L366.8,93.70 L367.5,93.64 L368.2,93.58 L368.9,93.53 L369.6,93.48 L370.3,93.43 L371.0,93.39 L371.7,93.34 L372.4,93.30 L373.1,93.26 L373.8,93.23 L374.5,93.19 L375.2,93.16 L375.9,93.13 L376.6,93.11 L377.3,93.08 L378.0,93.06 L378.7,93.04 L379.4,93.02 L380.1,93.01 L380.8,93.00 L381.5,92.99 L382.2,92.98 L382.9,92.97 L383.6,92.97 L384.3,92.97 L385.1,92.97 L385.8,92.97 L386.5,92.98 L387.2,92.99 L387.9,93.00 L388.6,93.01 L389.3,93.03 L390.0,93.04 L390.7,93.06 L391.4,93.09 L392.1,93.11 L392.8,93.14 L393.5,93.17 L394.2,93.20 L394.9,93.23 L395.6,93.27 L396.4,93.31 L397.1,93.35 L397.8,93.39 L398.5,93.44 L399.2,93.48 L399.9,93.53 L400.6,93.58 L401.3,93.64 L402.0,93.70 L402.7,93.75 L403.4,93.82 L404.1,93.88 L404.8,93.94 L405.5,94.01 L406.2,94.08 L406.9,94.15 L407.6,94.23 L408.3,94.31 L409.0,94.38 L409.7,94.47 L410.4,94.55 L411.1,94.64 L411.8,94.72 L412.5,94.81 L413.2,94.91 L413.9,95.00 L414.6,95.10 L415.3,95.20 L416.0,95.30 L416.7,95.40 L417.4,95.51 L418.1,95.62 L418.8,95.73 L419.5,95.84 L420.1,95.95 L420.8,96.07 L421.5,96.19 L422.2,96.31 L422.9,96.43 L423.6,96.56 L424.3,96.69 L425.0,96.82 L425.6,96.95 L426.3,97.08 L427.0,97.22 L427.7,97.36 L428.4,97.50 L429.1,97.64 L429.7,97.79 L430.4,97.94 L431.1,98.09 L431.8,98.24 L432.5,98.39 L433.1,98.55 L433.8,98.71 L434.5,98.87 L435.2,99.03 L435.8,99.19 L436.5,99.36 L437.2,99.53 L437.8,99.70 L438.5,99.87 L439.2,100.05 L439.8,100.23 L440.5,100.41 L441.2,100.59 L441.8,100.77 L442.5,100.96 L443.2,101.15 L443.8,101.34 L444.5,101.53 L445.1,101.73 L445.8,101.92 L446.4,102.12 L447.1,102.32 L447.8,102.52 L448.4,102.73 L449.1,102.94 L449.7,103.15 L450.4,103.36 L451.0,103.57 L451.6,103.79 L452.3,104.00 L452.9,104.22 L453.6,104.45 L454.2,104.67 L454.8,104.90 L455.5,105.12 L456.1,105.35 L456.7,105.59 L457.4,105.82 L458.0,106.06 L458.6,106.30 L459.3,106.54 L459.9,106.78 L460.5,107.02 L461.1,107.27 L461.8,107.52 L462.4,107.77 L463.0,108.02 L463.6,108.28 L464.2,108.53 L464.8,108.79 L465.4,109.05 L466.1,109.32 L466.7,109.58 L467.3,109.85 L467.9,110.12 L468.5,110.39 L469.1,110.66 L469.7,110.94 L470.3,111.22 L470.9,111.50 L471.5,111.78 L472.1,112.06 L472.7,112.35 L473.2,112.63 L473.8,112.92 L474.4,113.21 L475.0,113.51 L475.6,113.80 L476.2,114.10 L476.7,114.40 L477.3,114.70 L477.9,115.00 L478.4,115.31 L479.0,115.62 L479.6,115.92 L480.1,116.24 L480.7,116.55 L481.3,116.86 L481.8,117.18 L482.4,117.50 L482.9,117.82 L483.5,118.14 L484.0,118.47 L484.6,118.80 L485.1,119.12 L485.7,119.46 L486.2,119.79 L486.8,120.12 L487.3,120.46 L487.8,120.80 L488.4,121.14 L488.9,121.48 L489.4,121.83 L490.0,122.17 L490.5,122.52 L491.0,122.87 L491.5,123.22 L492.0,123.58 L492.6,123.93 L493.1,124.29 L493.6,124.65 L494.1,125.01 L494.6,125.38 L495.1,125.74 L495.6,126.11 L496.1,126.48 L496.6,126.85 L497.1,127.22 L497.6,127.60 L498.0,127.98 L498.5,128.35 L499.0,128.73 L499.5,129.12 L500.0,129.50 L500.4,129.89 L500.9,130.28 L501.4,130.67 L501.9,131.06 L502.3,131.45 L502.8,131.85 L503.2,132.25 L503.7,132.65 L504.1,133.05 L504.6,133.45 L505.0,133.85 L505.5,134.26 L505.9,134.67 L506.4,135.08 L506.8,135.49 L507.3,135.90 L507.7,136.32 L508.1,136.74 L508.5,137.16 L509.0,137.58 L509.4,138.00 L509.8,138.42 L510.2,138.85 L510.7,139.27 L511.1,139.70 L511.5,140.13 L511.9,140.57 L512.3,141.00 L512.7,141.43 L513.1,141.87 L513.5,142.31 L513.9,142.75 L514.3,143.19 L514.7,143.63 L515.1,144.08 L515.5,144.52 L515.9,144.97 L516.2,145.42 L516.6,145.87 L517.0,146.32 L517.4,146.78 L517.7,147.23 L518.1,147.69 L518.5,148.14 L518.9,148.60 L519.2,149.06 L519.6,149.53 L519.9,149.99 L520.3,150.45 L520.7,150.92 L521.0,151.39 L521.4,151.86 L521.7,152.33 L522.1,152.80 L522.4,153.27 L522.8,153.74 L523.1,154.22 L523.4,154.70 L523.8,155.17 L524.1,155.65 L524.4,156.13 L524.8,156.62 L525.1,157.10 L525.4,157.58 L525.8,158.07 L526.1,158.55 L526.4,159.04 L526.7,159.53 L527.0,160.02 L527.3,160.51 L527.7,161.00 L528.0,161.50 L528.3,161.99 L528.6,162.49 L528.9,162.98 L529.2,163.48 L529.5,163.98 L529.8,164.48 L530.1,164.98 L530.4,165.48 L530.7,165.98 L531.0,166.49 L531.3,166.99 L531.6,167.50 L531.8,168.01 L532.1,168.51 L532.4,169.02 L532.7,169.53 L533.0,170.04 L533.2,170.55 L533.5,171.07 L533.8,171.58 L534.1,172.10 L534.3,172.61 L534.6,173.13 L534.9,173.64 L535.1,174.16 L535.4,174.68 L535.7,175.20 L535.9,175.72 L536.2,176.24 L536.4,176.76 L536.7,177.29 L536.9,177.81 L537.2,178.33 L537.4,178.86 L537.7,179.38 L537.9,179.91 L538.2,180.44 L538.4,180.97 L538.7,181.49 L538.9,182.02 L539.1,182.55 L539.4,183.08 L539.6,183.62 L539.8,184.15 L540.1,184.68 L540.3,185.21 L540.5,185.75 L540.8,186.28 L541.0,186.82 L541.2,187.35 L541.4,187.89 L541.6,188.42 L541.9,188.96 L542.1,189.50 L542.3,190.04 L542.5,190.58 L542.7,191.12 L542.9,191.66 L543.2,192.20 L543.4,192.74 L543.6,193.28 L543.8,193.82 L544.0,194.36 L544.2,194.90 L544.4,195.45 L544.6,195.99 L544.8,196.53 L545.0,197.08 L545.2,197.62 L545.4,198.17 L545.6,198.71 L545.8,199.26 L546.0,199.80 L546.2,200.35 L546.3,200.90 L546.5,201.44 L546.7,201.99 L546.9,202.54 L547.1,203.09 L547.3,203.63 L547.4,204.18 L547.6,204.73 L547.8,205.28 L548.0,205.83 L548.2,206.38 L548.3,206.93 L548.5,207.48 L548.7,208.02 L548.9,208.57 L549.0,209.12 L549.2,209.67 L549.4,210.22 L549.5,210.77 L549.7,211.32 L549.9,211.88 L550.0,212.43 L550.2,212.98 L550.4,213.53 L550.5,214.08 L550.7,214.63 L550.8,215.18 L551.0,215.73 L551.2,216.28 L551.3,216.83 L551.5,217.38 L551.6,217.93 L551.8,218.48 L551.9,219.03 L552.1,219.58 L552.2,220.13 L552.4,220.68 L552.5,221.23 L552.7,221.78 L552.8,222.33 L553.0,222.88 L553.1,223.43 L553.3,223.98 L553.4,224.53 L553.5,225.08 L553.7,225.63 L553.8,226.18 L554.0,226.73 L554.1,227.28 L554.2,227.82 L554.4,228.37 L554.5,228.92 L554.7,229.47 L554.8,230.01 L554.9,230.56 L555.1,231.11 L555.2,231.65 L555.3,232.20 L555.5,232.75 L555.6,233.29 L555.7,233.84 L555.8,234.38 L556.0,234.92 L556.1,235.47 L556.2,236.01 L556.4,236.55 L556.5,237.10 L556.6,237.64 L556.7,238.18 L556.9,238.72 L557.0,239.26 L557.1,239.80 L557.2,240.34 L557.3,240.88 L557.5,241.42 L557.6,241.96 L557.7,242.50 L557.8,243.04 L557.9,243.57 L558.1,244.11 L558.2,244.64 L558.3,245.18 L558.4,245.71 L558.5,246.25 L558.6,246.78 L558.8,247.32 L558.9,247.85 L559.0,248.38 L559.1,248.91 L559.2,249.45 L559.3,249.98 L559.4,250.51 L559.5,251.04 L559.7,251.57 L559.8,252.10 L559.9,252.63 L560.0,253.16 L560.1,253.69 L560.2,254.22 L560.3,254.75 L560.4,255.28 L560.5,255.81 L560.6,256.34 L560.7,256.86 L560.8,257.39 L560.9,257.92 L561.0,258.45 L561.1,258.97 L561.2,259.50 L561.3,260.03 L561.5,260.56 L561.6,261.08 L561.7,261.61 L561.8,262.14 L561.8,262.66 L561.9,263.19 L562.0,263.72 L562.1,264.24 L562.2,264.77 L562.3,265.30 L562.4,265.82 L562.5,266.35 L562.6,266.88 L562.7,267.40 L562.8,267.93 L562.9,268.46 L563.0,268.99 L563.1,269.51 L563.2,270.04 L563.3,270.57 L563.4,271.10 L563.5,271.62 L563.5,272.15 L563.6,272.68 L563.7,273.21 L563.8,273.74 L563.9,274.26 L564.0,274.79 L564.1,275.32 L564.2,275.85 L564.2,276.38 L564.3,276.91 L564.4,277.44 L564.5,277.97 L564.6,278.50 L564.7,279.03 L564.7,279.57 L564.8,280.10 L564.9,280.63 L565.0,281.16 L565.1,281.70 L565.2,282.23 L565.2,282.76 L565.3,283.30 L565.4,283.83 L565.5,284.37 L565.5,284.90 L565.6,285.44 L565.7,285.98 L565.8,286.51 L565.9,287.05 L565.9,287.59 L566.0,288.13 L566.1,288.67 L566.2,289.21 L566.2,289.75 L566.3,290.29 L566.4,290.83 L566.4,291.37 L566.5,291.92 L566.6,292.46 L566.7,293.00 L566.7,293.55 L566.8,294.09 L566.9,294.64 L566.9,295.19 L567.0,295.74 L567.1,296.28 L567.1,296.83 L567.2,297.38 L567.3,297.93 L567.3,298.48 L567.4,299.04 L567.5,299.59 L567.5,300.14 L567.6,300.70 L567.7,301.25 L567.7,301.80 L567.8,302.36 L567.8,302.92 L567.9,303.47 L568.0,304.03 L568.0,304.59 L568.1,305.15 L568.1,305.70 L568.2,306.26 L568.3,306.82 L568.3,307.38 L568.4,307.94 L568.4,308.50 L568.5,309.06 L568.5,309.63 L568.6,310.19 L568.7,310.75 L568.7,311.31 L568.8,311.88 L568.8,312.44 L568.9,313.00 L568.9,313.57 L569.0,314.13 L569.0,314.69 L569.1,315.26 L569.1,315.82 L569.2,316.39 L569.2,316.95 L569.3,317.52 L569.3,318.08 L569.4,318.65 L569.4,319.21 L569.5,319.78 L569.5,320.35 L569.6,320.91 L569.6,321.48 L569.7,322.04 L569.7,322.61 L569.8,323.18 L569.8,323.74 L569.9,324.31 L569.9,324.87 L570.0,325.44 L570.0,326.01 L570.0,326.57 L570.1,327.14 L570.1,327.70 L570.2,328.27 L570.2,328.84 L570.2,329.40 L570.3,329.97 L570.3,330.53 L570.4,331.10 L570.4,331.66 L570.4,332.23 L570.5,332.79 L570.5,333.35 L570.6,333.92 L570.6,334.48 L570.6,335.04 L570.7,335.61 L570.7,336.17 L570.7,336.73 L570.8,337.29 L570.8,337.86 L570.9,338.42 L570.9,338.98 L570.9,339.54 L571.0,340.10 L571.0,340.66 L571.0,341.22 L571.1,341.77 L571.1,342.33 L571.1,342.89 L571.1,343.45 L571.2,344.00 L571.2,344.56 L571.2,345.12 L571.3,345.67 L571.3,346.23 L571.3,346.78 L571.4,347.33 L571.4,347.89 L571.4,348.44 L571.4,348.99 L571.5,349.54 L571.5,350.09 L571.5,350.64 L571.5,351.19 L571.6,351.73 L571.6,352.28 L571.6,352.83 L571.6,353.37 L571.7,353.92 L571.7,354.46 L571.7,355.01 L571.7,355.55 L571.8,356.09 L571.8,356.63 L571.8,357.17 L571.8,357.71 L571.8,358.25 L571.9,358.78 L571.9,359.32 L571.9,359.86 L571.9,360.39 L571.9,360.92 L572.0,361.46 L572.0,361.99 L572.0,362.52 L572.0,363.05 L572.1,363.57 L572.1,364.10 L572.1,364.63 L572.1,365.15 L572.1,365.68 L572.2,366.20 L572.2,366.72 L572.2,367.24 L572.2,367.76 L572.3,368.28 L572.3,368.80 L572.3,369.31 L572.3,369.83 L572.4,370.34 L572.4,370.86 L572.4,371.37 L572.4,371.88 L572.5,372.39 L572.5,372.89 L572.5,373.40 L572.6,373.91 L572.6,374.41 L572.6,374.91 L572.7,375.41 L572.7,375.92 L572.7,376.42 L572.8,376.92 L572.8,377.43 L572.8,377.93 L572.9,378.44 L572.9,378.94 L572.9,379.45 L573.0,379.97 L573.0,380.48 L573.1,381.00 L573.1,381.52 L573.1,382.05 L573.2,382.58 L573.2,383.11 L573.3,383.65 L573.3,384.20 L573.4,384.75 L573.4,385.30 L573.5,385.86 L573.5,386.43 L573.6,387.01 L573.6,387.59 L573.7,388.18 L573.8,388.78 L573.8,389.38 L573.9,389.99 L573.9,390.62 L574.0,391.25 L574.1,391.89 L574.1,392.54 L574.2,393.20 L574.3,393.87 L574.4,394.55 L574.4,395.24 L574.5,395.95 L574.6,396.66 L574.7,397.39 L574.7,398.13 L574.8,398.87 L574.9,399.61 L575.0,400.36 L575.1,401.11 L575.2,401.85 L575.3,402.59 L575.4,403.32 L575.5,404.04 L575.6,404.75 L575.7,405.45 L575.8,406.12 L575.9,406.78 L576.0,407.41 L576.1,408.03 L576.2,408.61 L576.3,409.17 L576.4,409.69 L576.5,410.18 L576.6,410.64 L576.8,411.05 L576.9,411.43 L577.0,411.76 L577.1,412.05 L577.3,412.29 L577.4,412.48 L577.5,412.62 L577.7,412.70 L577.8,412.73 L578.0,412.70 L578.1,412.61 L578.3,412.46 L578.4,412.27 L578.6,412.02 L578.7,411.73 L578.9,411.39 L579.0,411.02 L579.2,410.60 L579.3,410.14 L579.5,409.65 L579.6,409.12 L579.8,408.57 L579.9,407.99 L580.1,407.38 L580.2,406.74 L580.4,406.09 L580.5,405.42 L580.7,404.73 L580.8,404.03 L580.9,403.31 L581.1,402.59 L581.2,401.86 L581.3,401.13 L581.4,400.39 L581.6,399.65 L581.7,398.92 L581.8,398.19 L581.9,397.47 L582.0,396.76 L582.1,396.06 L582.1,395.37 L582.2,394.69 L582.3,394.03 L582.4,393.37 L582.4,392.73 L582.5,392.09 L582.5,391.46 L582.6,390.84 L582.6,390.23 L582.7,389.63 L582.7,389.04 L582.8,388.46 L582.8,387.88 L582.8,387.31 L582.9,386.74 L582.9,386.18 L582.9,385.63 L582.9,385.08 L582.9,384.54 L583.0,384.01 L583.0,383.47 L583.0,382.95 L583.0,382.42 L583.0,381.90 L583.0,381.39 L583.0,380.87 L583.0,380.36 L583.0,379.85 L583.0,379.34 L583.0,378.84 L583.0,378.33 L583.0,377.83 L583.0,377.33 L583.0,376.82 L583.0,376.32 L583.0,375.82 L583.1,375.31 L583.1,374.81 L583.1,374.30 L583.1,373.79 L583.1,373.28 L583.1,372.76 L583.1,372.25 L583.1,371.73 L583.2,371.21 L583.2,370.69 L583.2,370.17 L583.2,369.64 L583.2,369.12 L583.3,368.59 L583.3,368.06 L583.3,367.53 L583.3,367.00 L583.4,366.47 L583.4,365.93 L583.4,365.39 L583.5,364.86 L583.5,364.32 L583.5,363.78 L583.6,363.23 L583.6,362.69 L583.6,362.15 L583.7,361.60 L583.7,361.06 L583.7,360.51 L583.8,359.96 L583.8,359.41 L583.9,358.86 L583.9,358.31 L584.0,357.75 L584.0,357.20 L584.0,356.65 L584.1,356.09 L584.1,355.53 L584.2,354.98 L584.2,354.42 L584.3,353.86 L584.3,353.30 L584.4,352.74 L584.4,352.18 L584.5,351.62 L584.5,351.06 L584.6,350.50 L584.6,349.94 L584.7,349.38 L584.7,348.81 L584.8,348.25 L584.8,347.69 L584.9,347.13 L584.9,346.56 L585.0,346.00 L585.0,345.43 L585.1,344.87 L585.2,344.31 L585.2,343.74 L585.3,343.18 L585.3,342.61 L585.4,342.05 L585.4,341.49 L585.5,340.92 L585.5,340.36 L585.6,339.80 L585.6,339.23 L585.7,338.67 L585.7,338.11 L585.8,337.55 L585.8,336.99 L585.9,336.42 L585.9,335.86 L586.0,335.30 L586.0,334.74 L586.1,334.19 L586.1,333.63 L586.2,333.07 L586.2,332.51 L586.3,331.96 L586.3,331.40 L586.4,330.84 L586.4,330.29 L586.5,329.74 L586.5,329.18 L586.6,328.63 L586.6,328.08 L586.7,327.52 L586.7,326.97 L586.8,326.42 L586.8,325.87 L586.8,325.32 L586.9,324.77 L586.9,324.22 L587.0,323.67 L587.0,323.13 L587.1,322.58 L587.1,322.03 L587.2,321.48 L587.2,320.94 L587.3,320.39 L587.3,319.85 L587.3,319.30 L587.4,318.76 L587.4,318.21 L587.5,317.67 L587.5,317.12 L587.6,316.58 L587.6,316.04 L587.6,315.49 L587.7,314.95 L587.7,314.41 L587.8,313.87 L587.8,313.33 L587.9,312.78 L587.9,312.24 L588.0,311.70 L588.0,311.16 L588.0,310.62 L588.1,310.08 L588.1,309.54 L588.2,309.00 L588.2,308.46 L588.3,307.92 L588.3,307.38 L588.4,306.84 L588.4,306.30 L588.5,305.77 L588.5,305.23 L588.6,304.69 L588.6,304.15 L588.6,303.61 L588.7,303.07 L588.7,302.53 L588.8,302.00 L588.8,301.46 L588.9,300.92 L588.9,300.38 L589.0,299.84 L589.0,299.31 L589.1,298.77 L589.1,298.23 L589.2,297.69 L589.3,297.15 L589.3,296.62 L589.4,296.08 L589.4,295.54 L589.5,295.00 L589.5,294.46 L589.6,293.93 L589.6,293.39 L589.7,292.85 L589.8,292.31 L589.8,291.77 L589.9,291.23 L589.9,290.69 L590.0,290.15 L590.1,289.62 L590.1,289.08 L590.2,288.54 L590.2,288.00 L590.3,287.46 L590.4,286.92 L590.4,286.38 L590.5,285.84 L590.6,285.30 L590.6,284.75 L590.7,284.21 L590.8,283.67 L590.9,283.13 L590.9,282.59 L591.0,282.05 L591.1,281.50 L591.1,280.96 L591.2,280.42 L591.3,279.88 L591.4,279.33 L591.4,278.79 L591.5,278.24 L591.6,277.70 L591.7,277.16 L591.8,276.61 L591.8,276.07 L591.9,275.52 L592.0,274.98 L592.1,274.43 L592.2,273.89 L592.3,273.34 L592.3,272.80 L592.4,272.25 L592.5,271.70 L592.6,271.16 L592.7,270.61 L592.8,270.07 L592.9,269.52 L593.0,268.97 L593.0,268.42 L593.1,267.88 L593.2,267.33 L593.3,266.78 L593.4,266.23 L593.5,265.69 L593.6,265.14 L593.7,264.59 L593.8,264.04 L593.9,263.49 L594.0,262.95 L594.1,262.40 L594.2,261.85 L594.3,261.30 L594.4,260.75 L594.5,260.20 L594.6,259.65 L594.7,259.10 L594.8,258.55 L594.9,258.00 L595.0,257.46 L595.1,256.91 L595.2,256.36 L595.3,255.81 L595.4,255.26 L595.5,254.71 L595.6,254.16 L595.7,253.61 L595.9,253.06 L596.0,252.51 L596.1,251.95 L596.2,251.40 L596.3,250.85 L596.4,250.30 L596.5,249.75 L596.6,249.20 L596.7,248.65 L596.9,248.10 L597.0,247.55 L597.1,247.00 L597.2,246.45 L597.3,245.90 L597.4,245.35 L597.5,244.79 L597.7,244.24 L597.8,243.69 L597.9,243.14 L598.0,242.59 L598.1,242.04 L598.3,241.49 L598.4,240.94 L598.5,240.39 L598.6,239.84 L598.7,239.28 L598.9,238.73 L599.0,238.18 L599.1,237.63 L599.2,237.08 L599.4,236.53 L599.5,235.98 L599.6,235.43 L599.7,234.88 L599.9,234.33 L600.0,233.77 L600.1,233.22 L600.3,232.67 L600.4,232.12 L600.5,231.57 L600.6,231.02 L600.8,230.47 L600.9,229.92 L601.0,229.37 L601.2,228.82 L601.3,228.27 L601.4,227.72 L601.6,227.17 L601.7,226.62 L601.8,226.07 L601.9,225.52 L602.1,224.97 L602.2,224.42 L602.4,223.87 L602.5,223.32 L602.6,222.77 L602.8,222.22 L602.9,221.67 L603.0,221.12 L603.2,220.57 L603.3,220.02 L603.4,219.47 L603.6,218.92 L603.7,218.37 L603.9,217.83 L604.0,217.28 L604.1,216.73 L604.3,216.18 L604.4,215.63 L604.5,215.09 L604.7,214.54 L604.8,213.99 L605.0,213.44 L605.1,212.89 L605.3,212.35 L605.4,211.80 L605.5,211.25 L605.7,210.71 L605.8,210.16 L606.0,209.61 L606.1,209.07 L606.2,208.52 L606.4,207.98 L606.5,207.43 L606.7,206.88 L606.8,206.34 L607.0,205.79 L607.1,205.25 L607.3,204.70 L607.4,204.16 L607.5,203.62 L607.7,203.07 L607.8,202.53 L608.0,201.98 L608.1,201.44 L608.3,200.90 L608.4,200.35 L608.6,199.81 L608.7,199.27 L608.9,198.73 L609.0,198.18 L609.2,197.64 L609.3,197.10 L609.5,196.56 L609.6,196.02 L609.8,195.48 L609.9,194.94 L610.1,194.39 L610.2,193.85 L610.4,193.31 L610.5,192.77 L610.7,192.24 L610.8,191.70 L611.0,191.16 L611.1,190.62 L611.3,190.08 L611.4,189.54 L611.6,189.00 L611.7,188.47 L611.9,187.93 L612.0,187.39 L612.2,186.86 L612.3,186.32 L612.5,185.78 L612.6,185.25 L612.8,184.71 L612.9,184.18 L613.1,183.64 L613.2,183.11 L613.4,182.57 L613.5,182.04 L613.7,181.51 L613.8,180.97 L614.0,180.44 L614.1,179.91 L614.3,179.38 L614.4,178.84 L614.6,178.31 L614.7,177.78 L614.9,177.25 L615.0,176.72 L615.2,176.19 L615.4,175.66 L615.5,175.13 L615.7,174.60 L615.8,174.07 L616.0,173.55 L616.1,173.02 L616.3,172.49 L616.4,171.96 L616.6,171.44 L616.8,170.91 L616.9,170.38 L617.1,169.86 L617.3,169.33 L617.4,168.81 L617.6,168.28 L617.7,167.76 L617.9,167.24 L618.1,166.71 L618.2,166.19 L618.4,165.67 L618.6,165.15 L618.8,164.62 L618.9,164.10 L619.1,163.58 L619.3,163.06 L619.4,162.54 L619.6,162.02 L619.8,161.50 L620.0,160.99 L620.2,160.47 L620.3,159.95 L620.5,159.43 L620.7,158.92 L620.9,158.40 L621.1,157.89 L621.3,157.37 L621.5,156.86 L621.7,156.34 L621.8,155.83 L622.0,155.31 L622.2,154.80 L622.4,154.29 L622.6,153.78 L622.8,153.27 L623.0,152.75 L623.3,152.24 L623.5,151.73 L623.7,151.22 L623.9,150.72 L624.1,150.21 L624.3,149.70 L624.5,149.19 L624.8,148.69 L625.0,148.18 L625.2,147.67 L625.4,147.17 L625.7,146.66 L625.9,146.16 L626.1,145.66 L626.4,145.15 L626.6,144.65 L626.8,144.15 L627.1,143.65 L627.3,143.14 L627.6,142.64 L627.8,142.14 L628.1,141.65 L628.3,141.15 L628.6,140.65 L628.8,140.15 L629.1,139.65 L629.4,139.16 L629.6,138.66 L629.9,138.17 L630.2,137.67 L630.5,137.18 L630.7,136.68 L631.0,136.19 L631.3,135.70 L631.6,135.21 L631.9,134.72 L632.2,134.23 L632.5,133.74 L632.8,133.25 L633.1,132.76 L633.4,132.27 L633.7,131.78 L634.0,131.30 L634.3,130.81 L634.6,130.32 L635.0,129.84 L635.3,129.35 L635.6,128.87 L635.9,128.39 L636.3,127.91 L636.6,127.42 L637.0,126.94 L637.3,126.46 L637.7,125.98 L638.0,125.50 L638.4,125.03 L638.7,124.55 L639.1,124.07 L639.4,123.60 L639.8,123.12 L640.2,122.65 L640.6,122.18 L640.9,121.70 L641.3,121.23 L641.7,120.76 L642.1,120.30 L642.5,119.83 L642.9,119.36 L643.3,118.90 L643.7,118.43 L644.1,117.97 L644.5,117.51 L644.9,117.05 L645.3,116.59 L645.7,116.13 L646.1,115.68 L646.6,115.22 L647.0,114.77 L647.4,114.31 L647.9,113.86 L648.3,113.41 L648.7,112.97 L649.2,112.52 L649.6,112.08 L650.1,111.63 L650.5,111.19 L651.0,110.75 L651.4,110.31 L651.9,109.88 L652.3,109.44 L652.8,109.01 L653.2,108.58 L653.7,108.15 L654.2,107.72 L654.7,107.29 L655.1,106.87 L655.6,106.45 L656.1,106.03 L656.6,105.61 L657.1,105.19 L657.6,104.78 L658.0,104.37 L658.5,103.96 L659.0,103.55 L659.5,103.14 L660.0,102.74 L660.5,102.34 L661.0,101.94 L661.6,101.54 L662.1,101.15 L662.6,100.75 L663.1,100.36 L663.6,99.98 L664.1,99.59 L664.7,99.21 L665.2,98.83 L665.7,98.45 L666.2,98.07 L666.8,97.70 L667.3,97.33 L667.9,96.96 L668.4,96.60 L668.9,96.23 L669.5,95.87 L670.0,95.51 L670.6,95.16 L671.1,94.81 L671.7,94.46 L672.2,94.11 L672.8,93.77 L673.4,93.43 L673.9,93.09 L674.5,92.75 L675.1,92.42 L675.6,92.09 L676.2,91.76 L676.8,91.44 L677.3,91.12 L677.9,90.80 L678.5,90.49 L679.1,90.18 L679.7,89.87 L680.2,89.56 L680.8,89.26 L681.4,88.96 L682.0,88.67 L682.6,88.37 L683.2,88.08 L683.8,87.80 L684.4,87.52 L685.0,87.24 L685.6,86.96 L686.2,86.69 L686.8,86.42 L687.4,86.16 L688.0,85.89 L688.6,85.64 L689.2,85.38 L689.8,85.13 L690.5,84.88 L691.1,84.64 L691.7,84.40 L692.3,84.16 L692.9,83.93 L693.6,83.70 L694.2,83.48 L694.8,83.25 L695.4,83.04 L696.1,82.82 L696.7,82.61 L697.3,82.40 L698.0,82.20 L698.6,82.00 L699.2,81.80 L699.9,81.61 L700.5,81.41 L701.2,81.23 L701.8,81.04 L702.4,80.86 L703.1,80.68 L703.7,80.51 L704.4,80.34 L705.0,80.17 L705.7,80.00 L706.3,79.84 L707.0,79.68 L707.6,79.52 L708.3,79.37 L709.0,79.21 L709.6,79.06 L710.3,78.92 L710.9,78.77 L711.6,78.63 L712.3,78.50 L712.9,78.36 L713.6,78.23 L714.3,78.10 L714.9,77.97 L715.6,77.84 L716.3,77.72 L716.9,77.60 L717.6,77.48 L718.3,77.36 L718.9,77.25 L719.6,77.14 L720.3,77.03 L721.0,76.92 L721.6,76.81 L722.3,76.71 L723.0,76.61 L723.7,76.51 L724.4,76.41 L725.0,76.31 L725.7,76.22 L726.4,76.13 L727.1,76.04 L727.8,75.95 L728.5,75.86 L729.2,75.78 L729.8,75.69 L730.5,75.61 L731.2,75.53 L731.9,75.45 L732.6,75.37 L733.3,75.30 L734.0,75.22 L734.7,75.15 L735.4,75.08 L736.0,75.01 L736.7,74.94 L737.4,74.87 L738.1,74.80 L738.8,74.74 L739.5,74.67 L740.2,74.61 L740.9,74.55 L741.6,74.49 L742.3,74.43 L743.0,74.37 L743.7,74.31 L744.4,74.25 L745.1,74.19 L745.8,74.14 L746.5,74.08 L747.2,74.03 L747.9,73.97 L748.6,73.92 L749.3,73.87 L750.0,73.82 L750.7,73.77 L751.4,73.71 L752.1,73.66 L752.8,73.61 L753.5,73.56 L754.2,73.51 L754.9,73.47 L755.6,73.42 L756.3,73.37 L757.0,73.32 L757.7,73.27 L758.4,73.22 L759.1,73.18 L759.8,73.13 L760.5,73.08 L761.2,73.04 L761.9,72.99 L762.6,72.94 L763.3,72.90 L764.1,72.85 L764.8,72.81 L765.5,72.77 L766.2,72.72 L766.9,72.68 L767.6,72.64 L768.3,72.59 L769.0,72.55 L769.7,72.51 L770.4,72.47 L771.1,72.43 L771.8,72.39 L772.5,72.35 L773.2,72.31 L773.9,72.28 L774.6,72.24 L775.3,72.20 L776.0,72.17 L776.7,72.13 L777.4,72.10 L778.1,72.07 L778.8,72.03 L779.6,72.00 L780.3,71.97 L781.0,71.94 L781.7,71.91 L782.4,71.88 L783.1,71.85 L783.8,71.82 L784.5,71.80 L785.2,71.77 L785.9,71.75 L786.6,71.72 L787.3,71.70 L788.0,71.68 L788.7,71.65 L789.4,71.63 L790.1,71.62 L790.8,71.60 L791.5,71.58 L792.2,71.56 L792.9,71.55 L793.7,71.53 L794.4,71.52 L795.1,71.51 L795.8,71.49 L796.5,71.48 L797.2,71.48 L797.9,71.47 L798.6,71.46 L799.3,71.45 L800.0,71.45 L800.7,71.45 L801.4,71.44 L802.1,71.44 L802.8,71.44 L803.5,71.44 L804.2,71.45 L804.9,71.45 L805.6,71.45 L806.3,71.46 L807.0,71.47 L807.7,71.48 L808.4,71.49 L809.1,71.50 L809.8,71.51 L810.5,71.53 L811.2,71.54 L811.9,71.56 L812.6,71.57 L813.3,71.59 L814.0,71.61 L814.8,71.63 L815.5,71.66 L816.2,71.68 L816.9,71.70 L817.6,71.73 L818.3,71.76 L819.0,71.79 L819.7,71.81 L820.4,71.85 L821.1,71.88 L821.8,71.91 L822.5,71.94 L823.2,71.98 L823.9,72.01 L824.6,72.05 L825.3,72.09 L826.0,72.13 L826.7,72.17 L827.4,72.21 L828.1,72.25 L828.7,72.29 L829.4,72.34 L830.1,72.38 L830.8,72.43 L831.5,72.48 L832.2,72.53 L832.9,72.57 L833.6,72.62 L834.3,72.67 L835.0,72.72 L835.7,72.77 L836.4,72.82 L837.1,72.86 L837.8,72.91 L838.5,72.95 L839.2,73.00 L839.9,73.03 L840.6,73.07 L841.3,73.11 L842.0,73.14 L842.7,73.16 L843.4,73.19 L844.0,73.21 L844.7,73.22 L845.4,73.24 L846.1,73.24 L846.8,73.24 L847.5,73.24 L848.2,73.23 L848.9,73.21 L849.6,73.19 L850.3,73.16 L851.0,73.12 L851.6,73.08 L852.3,73.03 L853.0,72.97 L853.7,72.91 L854.4,72.84 L855.1,72.76 L855.8,72.67 L856.5,72.58 L857.1,72.48 L857.8,72.38 L858.5,72.27 L859.2,72.15 L859.9,72.03 L860.6,71.90 L861.3,71.77 L861.9,71.63 L862.6,71.49 L863.3,71.34 L864.0,71.18 L864.7,71.02 L865.4,70.86 L866.0,70.69 L866.7,70.52 L867.4,70.34 L868.1,70.16 L868.8,69.98 L869.4,69.79 L870.1,69.60 L870.8,69.40 L871.5,69.21 L872.2,69.00 L872.8,68.80 L873.5,68.59 L874.2,68.38 L874.9,68.17 L875.5,67.95 L876.2,67.74 L876.9,67.52 L877.6,67.29 L878.2,67.07 L878.9,66.84 L879.6,66.62 L880.3,66.39 L880.9,66.16 L881.6,65.93 L882.3,65.70 L882.9,65.46 L883.6,65.23 L884.3,64.99 L885.0,64.76 L885.6,64.53 L886.3,64.29 L887.0,64.06 L887.6,63.82 L888.3,63.59 L889.0,63.35 L889.6,63.12 L890.3,62.89 L891.0,62.65 L891.6,62.42 L892.3,62.19 L892.9,61.96 L893.6,61.74 L894.3,61.51 L894.9,61.29 L895.6,61.07 L896.3,60.85 L896.9,60.63 L897.6,60.42 L898.2,60.20 L898.9,59.99 L899.6,59.79 L900.2,59.58 L900.9,59.38 L901.5,59.18 L902.2,58.99 L902.8,58.80 L903.5,58.61 L904.1,58.42 L904.8,58.25 L905.4,58.07 L906.1,57.90 L906.8,57.73 L907.4,57.57 L908.1,57.41 L908.7,57.26 L909.4,57.11 L910.0,56.97 L910.6,56.83 L911.3,56.70 L911.9,56.57 L912.6,56.45 L913.2,56.33 L913.9,56.22 L914.5,56.12 L915.2,56.02 L915.8,55.93 L916.5,55.84 L917.1,55.76 L917.7,55.68 L918.4,55.62 L919.0,55.55 L919.7,55.49 L920.3,55.44 L921.0,55.39 L921.7,55.35 L922.3,55.31 L923.0,55.28 L923.6,55.25 L924.3,55.23 L925.0,55.21 L925.6,55.20 L926.3,55.20 L927.0,55.19 L927.7,55.20 L928.4,55.21 L929.0,55.22 L929.7,55.24 L930.4,55.26 L931.1,55.29 L931.8,55.32 L932.5,55.36 L933.2,55.40 L933.9,55.45 L934.6,55.50 L935.4,55.55 L936.1,55.61 L936.8,55.68 L937.5,55.74 L938.2,55.82 L938.9,55.89 L939.6,55.97 L940.3,56.06 L941.0,56.15 L941.7,56.24 L942.4,56.34 L943.1,56.44 L943.8,56.55 L944.5,56.66 L945.1,56.77 L945.8,56.89 L946.5,57.01 L947.2,57.13 L947.8,57.26 L948.5,57.39 L949.2,57.53 L949.9,57.66 L950.5,57.81 L951.2,57.95 L951.9,58.10 L952.5,58.26 L953.2,58.41 L953.8,58.57 L954.5,58.73 L955.1,58.90 L955.8,59.07 L956.4,59.24 L957.1,59.42 L957.7,59.59 L958.4,59.77 L959.0,59.96 L959.7,60.15 L960.3,60.34 L960.9,60.53 L961.6,60.72 L962.2,60.92 L962.8,61.12 L963.5,61.33 L964.1,61.53 L964.7,61.74 L965.4,61.95 L966.0,62.17 L966.6,62.38 L967.3,62.60 L967.9,62.82 L968.5,63.04 L969.1,63.27 L969.8,63.50 L970.4,63.73 L971.0,63.96 L971.6,64.19 L972.3,64.43 L972.9,64.66 L973.5,64.90 L974.1,65.15 L974.8,65.39 L975.4,65.63 L976.0,65.88 L976.6,66.13 L977.3,66.38 L977.9,66.63 L978.5,66.89 L979.1,67.14 L979.8,67.40 L980.4,67.66 L981.0,67.92 L981.6,68.18 L982.3,68.45 L982.9,68.72 L983.5,68.98 L984.1,69.25 L984.7,69.53 L985.4,69.80 L986.0,70.07 L986.6,70.35 L987.2,70.63 L987.8,70.91 L988.4,71.19 L989.1,71.48 L989.7,71.76 L990.3,72.05 L990.9,72.34 L991.5,72.63 L992.1,72.92 L992.7,73.22 L993.4,73.51 L994.0,73.81 L994.6,74.11 L995.2,74.41 L995.8,74.71 L996.4,75.02 L997.0,75.32 L997.6,75.63 L998.2,75.94 L998.8,76.25 L999.4,76.56 L1000.0,76.88 L1000.6,77.20 L1001.2,77.51 L1001.8,77.83 L1002.4,78.15 L1003.0,78.48 L1003.5,78.80 L1004.1,79.13 L1004.7,79.45 L1005.3,79.78 L1005.9,80.11 L1006.5,80.45 L1007.0,80.78 L1007.6,81.12 L1008.2,81.45 L1008.8,81.79 L1009.3,82.13 L1009.9,82.48 L1010.5,82.82 L1011.0,83.17 L1011.6,83.51 L1012.2,83.86 L1012.7,84.21 L1013.3,84.57 L1013.9,84.92 L1014.4,85.27 L1015.0,85.63 L1015.5,85.99 L1016.1,86.35 L1016.6,86.71 L1017.1,87.07 L1017.7,87.44 L1018.2,87.80 L1018.8,88.17 L1019.3,88.54 L1019.8,88.91 L1020.4,89.29 L1020.9,89.66 L1021.4,90.04 L1021.9,90.41 L1022.4,90.79 L1023.0,91.17 L1023.5,91.55 L1024.0,91.94 L1024.5,92.32 L1025.0,92.71 L1025.5,93.10 L1026.0,93.49 L1026.5,93.88 L1027.0,94.27 L1027.5,94.66 L1028.0,95.06 L1028.5,95.46 L1028.9,95.85 L1029.4,96.25 L1029.9,96.66 L1030.4,97.06 L1030.8,97.46 L1031.3,97.87 L1031.8,98.28 L1032.2,98.69 L1032.7,99.10 L1033.1,99.51 L1033.6,99.92 L1034.0,100.34 L1034.5,100.75 L1034.9,101.17 L1035.4,101.59 L1035.8,102.01 L1036.3,102.43 L1036.7,102.85 L1037.1,103.28 L1037.5,103.71 L1038.0,104.13 L1038.4,104.56 L1038.8,104.99 L1039.2,105.42 L1039.6,105.85 L1040.1,106.29 L1040.5,106.72 L1040.9,107.16 L1041.3,107.60 L1041.7,108.04 L1042.1,108.48 L1042.5,108.92 L1042.9,109.36 L1043.2,109.81 L1043.6,110.25 L1044.0,110.70 L1044.4,111.15 L1044.8,111.60 L1045.2,112.05 L1045.5,112.50 L1045.9,112.95 L1046.3,113.40 L1046.6,113.86 L1047.0,114.32 L1047.4,114.77 L1047.7,115.23 L1048.1,115.69 L1048.4,116.15 L1048.8,116.62 L1049.1,117.08 L1049.5,117.54 L1049.8,118.01 L1050.2,118.48 L1050.5,118.94 L1050.9,119.41 L1051.2,119.88 L1051.5,120.35 L1051.9,120.83 L1052.2,121.30 L1052.5,121.77 L1052.8,122.25 L1053.2,122.72 L1053.5,123.20 L1053.8,123.68 L1054.1,124.16 L1054.4,124.64 L1054.7,125.12 L1055.1,125.60 L1055.4,126.09 L1055.7,126.57 L1056.0,127.06 L1056.3,127.54 L1056.6,128.03 L1056.9,128.52 L1057.2,129.01 L1057.5,129.50 L1057.8,129.99 L1058.0,130.48 L1058.3,130.98 L1058.6,131.47 L1058.9,131.97 L1059.2,132.46 L1059.5,132.96 L1059.7,133.46 L1060.0,133.95 L1060.3,134.45 L1060.6,134.95 L1060.8,135.45 L1061.1,135.96 L1061.4,136.46 L1061.6,136.96 L1061.9,137.47 L1062.2,137.97 L1062.4,138.48 L1062.7,138.98 L1062.9,139.49 L1063.2,140.00 L1063.4,140.51 L1063.7,141.02 L1063.9,141.53 L1064.2,142.04 L1064.4,142.55 L1064.7,143.07 L1064.9,143.58 L1065.1,144.09 L1065.4,144.61 L1065.6,145.12 L1065.9,145.64 L1066.1,146.16 L1066.3,146.68 L1066.6,147.19 L1066.8,147.71 L1067.0,148.23 L1067.2,148.75 L1067.5,149.28 L1067.7,149.80 L1067.9,150.32 L1068.1,150.84 L1068.3,151.37 L1068.6,151.89 L1068.8,152.41 L1069.0,152.94 L1069.2,153.47 L1069.4,153.99 L1069.6,154.52 L1069.8,155.05 L1070.0,155.58 L1070.2,156.10 L1070.5,156.63 L1070.7,157.16 L1070.9,157.69 L1071.1,158.23 L1071.3,158.76 L1071.5,159.29 L1071.7,159.82 L1071.9,160.35 L1072.0,160.89 L1072.2,161.42 L1072.4,161.96 L1072.6,162.49 L1072.8,163.03 L1073.0,163.56 L1073.2,164.10 L1073.4,164.63 L1073.6,165.17 L1073.7,165.71 L1073.9,166.25 L1074.1,166.79 L1074.3,167.32 L1074.5,167.86 L1074.7,168.40 L1074.8,168.94 L1075.0,169.48 L1075.2,170.02 L1075.4,170.56 L1075.5,171.10 L1075.7,171.65 L1075.9,172.19 L1076.0,172.73 L1076.2,173.27 L1076.4,173.81 L1076.6,174.36 L1076.7,174.90 L1076.9,175.44 L1077.1,175.99 L1077.2,176.53 L1077.4,177.08 L1077.5,177.62 L1077.7,178.17 L1077.9,178.71 L1078.0,179.26 L1078.2,179.80 L1078.4,180.35 L1078.5,180.89 L1078.7,181.44 L1078.8,181.99 L1079.0,182.53 L1079.1,183.08 L1079.3,183.63 L1079.4,184.17 L1079.6,184.72 L1079.8,185.27 L1079.9,185.81 L1080.1,186.36 L1080.2,186.91 L1080.4,187.46 L1080.5,188.00 L1080.7,188.55 L1080.8,189.10 L1081.0,189.65 L1081.1,190.20 L1081.3,190.74 L1081.4,191.29 L1081.6,191.84 L1081.7,192.39 L1081.8,192.94 L1082.0,193.49 L1082.1,194.03 L1082.3,194.58 L1082.4,195.13 L1082.6,195.68 L1082.7,196.23 L1082.9,196.78 L1083.0,197.33 L1083.1,197.87 L1083.3,198.42 L1083.4,198.97 L1083.6,199.52 L1083.7,200.07 L1083.9,200.61 L1084.0,201.16 L1084.1,201.71 L1084.3,202.26 L1084.4,202.81 L1084.6,203.35 L1084.7,203.90 L1084.8,204.45 L1085.0,205.00 L1085.1,205.54 L1085.3,206.09 L1085.4,206.64 L1085.5,207.18 L1085.7,207.73 L1085.8,208.28 L1085.9,208.82 L1086.1,209.37 L1086.2,209.91 L1086.4,210.46 L1086.5,211.00 L1086.6,211.55 L1086.8,212.09 L1086.9,212.64 L1087.1,213.18 L1087.2,213.73 L1087.3,214.27 L1087.5,214.82 L1087.6,215.36 L1087.7,215.90 L1087.9,216.45 L1088.0,216.99 L1088.2,217.53 L1088.3,218.08 L1088.4,218.62 L1088.6,219.16 L1088.7,219.70 L1088.8,220.24 L1089.0,220.79 L1089.1,221.33 L1089.3,221.87 L1089.4,222.41 L1089.5,222.95 L1089.7,223.49 L1089.8,224.03 L1089.9,224.57 L1090.1,225.11 L1090.2,225.65 L1090.3,226.19 L1090.5,226.73 L1090.6,227.27 L1090.7,227.81 L1090.9,228.35 L1091.0,228.89 L1091.1,229.42 L1091.3,229.96 L1091.4,230.50 L1091.5,231.04 L1091.7,231.58 L1091.8,232.11 L1091.9,232.65 L1092.1,233.19 L1092.2,233.72 L1092.3,234.26 L1092.5,234.79 L1092.6,235.33 L1092.7,235.87 L1092.9,236.40 L1093.0,236.94 L1093.1,237.47 L1093.2,238.01 L1093.4,238.54 L1093.5,239.07 L1093.6,239.61 L1093.8,240.14 L1093.9,240.67 L1094.0,241.21 L1094.1,241.74 L1094.3,242.27 L1094.4,242.80 L1094.5,243.34 L1094.6,243.87 L1094.8,244.40 L1094.9,244.93 L1095.0,245.46 L1095.1,245.99 L1095.3,246.52 L1095.4,247.05 L1095.5,247.58 L1095.6,248.11 L1095.8,248.64 L1095.9,249.17 L1096.0,249.70 L1096.1,250.23 L1096.3,250.76 L1096.4,251.28 L1096.5,251.81 L1096.6,252.34 L1096.7,252.87 L1096.9,253.39 L1097.0,253.92 L1097.1,254.45 L1097.2,254.97 L1097.3,255.50 L1097.4,256.02 L1097.6,256.55 L1097.7,257.07 L1097.8,257.60 L1097.9,258.12 L1098.0,258.64 L1098.1,259.17 L1098.3,259.69 L1098.4,260.21 L1098.5,260.74 L1098.6,261.26 L1098.7,261.78 L1098.8,262.30 L1098.9,262.83 L1099.0,263.35 L1099.1,263.87 L1099.3,264.39 L1099.4,264.91 L1099.5,265.43 L1099.6,265.95 L1099.7,266.47 L1099.8,266.99 L1099.9,267.51 L1100.0,268.02 L1100.1,268.54 L1100.2,269.06 L1100.3,269.58 L1100.4,270.10 L1100.5,270.61 L1100.6,271.13 L1100.7,271.65 L1100.8,272.16 L1100.9,272.68 L1101.0,273.19 L1101.1,273.71 L1101.2,274.22 L1101.3,274.74 L1101.4,275.25 L1101.5,275.76 L1101.6,276.28 L1101.7,276.79 L1101.8,277.30 L1101.9,277.82 L1102.0,278.33 L1102.1,278.84 L1102.2,279.36 L1102.3,279.88 L1102.4,280.40 L1102.5,280.92 L1102.6,281.44 L1102.7,281.97 L1102.7,282.50 L1102.8,283.03 L1102.9,283.57 L1103.0,284.11 L1103.1,284.66 L1103.1,285.21 L1103.2,285.77 L1103.3,286.34 L1103.4,286.91 L1103.4,287.48 L1103.5,288.07 L1103.6,288.66 L1103.6,289.25 L1103.7,289.86 L1103.7,290.48 L1103.8,291.10 L1103.8,291.73 L1103.9,292.37 L1103.9,293.03 L1104.0,293.69 L1104.0,294.36 L1104.0,295.04 L1104.1,295.74 L1104.1,296.44 L1104.1,297.16 L1104.1,297.89 L1104.2,298.63 L1104.2,299.39 L1104.2,300.15 L1104.2,300.92 L1104.2,301.70 L1104.2,302.49 L1104.2,303.27 L1104.2,304.06 L1104.2,304.84 L1104.2,305.63 L1104.2,306.41 L1104.2,307.18 L1104.3,307.95 L1104.3,308.71 L1104.3,309.46 L1104.3,310.20 L1104.3,310.92 L1104.3,311.63 L1104.4,312.32 L1104.4,312.99 L1104.5,313.64 L1104.5,314.27 L1104.6,314.87 L1104.6,315.45 L1104.7,316.00 L1104.8,316.52 L1104.9,317.01 L1105.0,317.47 L1105.1,317.89 L1105.2,318.28 L1105.3,318.63 L1105.5,318.94 L1105.6,319.21 L1105.8,319.44 L1106.0,319.63 L1106.1,319.76 L1106.4,319.85 L1106.6,319.89 L1106.8,319.88 L1107.1,319.82 L1107.3,319.70 L1107.6,319.53 L1107.9,319.31 L1108.2,319.05 L1108.5,318.74 L1108.8,318.39 L1109.2,318.01 L1109.5,317.60 L1109.8,317.17 L1110.2,316.71 L1110.5,316.23 L1110.8,315.74 L1111.2,315.24 L1111.5,314.74 L1111.8,314.23 L1112.1,313.71 L1112.4,313.20 L1112.7,312.68 L1113.0,312.15 L1113.3,311.63 L1113.6,311.10 L1113.9,310.56 L1114.2,310.03 L1114.4,309.49 L1114.7,308.95 L1115.0,308.41 L1115.2,307.87 L1115.5,307.32 L1115.7,306.77 L1115.9,306.22 L1116.2,305.67 L1116.4,305.11 L1116.6,304.56 L1116.8,304.00 L1117.0,303.44 L1117.2,302.88 L1117.4,302.32 L1117.6,301.76 L1117.8,301.19 L1118.0,300.63 L1118.2,300.06 L1118.4,299.50 L1118.6,298.93 L1118.7,298.36 L1118.9,297.80 L1119.1,297.23 L1119.2,296.66 L1119.4,296.09 L1119.5,295.52 L1119.7,294.96 L1119.8,294.39 L1119.9,293.82 L1120.1,293.25 L1120.2,292.69 L1120.3,292.12 L1120.5,291.56 L1120.6,290.99 L1120.7,290.43 L1120.8,289.87 L1120.9,289.31 L1121.0,288.75 L1121.1,288.19 L1121.2,287.63 L1121.3,287.07 L1121.4,286.51 L1121.5,285.96 L1121.6,285.40 L1121.7,284.85 L1121.8,284.30 L1121.9,283.74 L1122.0,283.19 L1122.0,282.64 L1122.1,282.09 L1122.2,281.54 L1122.3,280.99 L1122.4,280.44 L1122.4,279.89 L1122.5,279.34 L1122.6,278.80 L1122.6,278.25 L1122.7,277.70 L1122.8,277.16 L1122.8,276.61 L1122.9,276.07 L1123.0,275.53 L1123.0,274.98 L1123.1,274.44 L1123.2,273.90 L1123.2,273.35 L1123.3,272.81 L1123.4,272.27 L1123.4,271.73 L1123.5,271.19 L1123.5,270.65 L1123.6,270.11 L1123.7,269.57 L1123.7,269.03 L1123.8,268.49 L1123.9,267.95 L1123.9,267.41 L1124.0,266.87 L1124.1,266.33 L1124.1,265.79 L1124.2,265.25 L1124.3,264.71 L1124.3,264.17 L1124.4,263.63 L1124.5,263.09 L1124.5,262.56 L1124.6,262.02 L1124.7,261.48 L1124.8,260.94 L1124.9,260.40 L1124.9,259.86 L1125.0,259.32 L1125.1,258.79 L1125.2,258.25 L1125.3,257.71 L1125.3,257.17 L1125.4,256.63 L1125.5,256.09 L1125.6,255.56 L1125.7,255.02 L1125.8,254.48 L1125.9,253.94 L1126.0,253.40 L1126.1,252.87 L1126.2,252.33 L1126.3,251.79 L1126.4,251.25 L1126.4,250.71 L1126.5,250.18 L1126.6,249.64 L1126.7,249.10 L1126.8,248.56 L1127.0,248.03 L1127.1,247.49 L1127.2,246.95 L1127.3,246.41 L1127.4,245.87 L1127.5,245.34 L1127.6,244.80 L1127.7,244.26 L1127.8,243.73 L1127.9,243.19 L1128.0,242.65 L1128.1,242.11 L1128.3,241.58 L1128.4,241.04 L1128.5,240.50 L1128.6,239.96 L1128.7,239.43 L1128.8,238.89 L1129.0,238.35 L1129.1,237.81 L1129.2,237.28 L1129.3,236.74 L1129.5,236.20 L1129.6,235.67 L1129.7,235.13 L1129.8,234.59 L1130.0,234.05 L1130.1,233.52 L1130.2,232.98 L1130.3,232.44 L1130.5,231.90 L1130.6,231.37 L1130.7,230.83 L1130.9,230.29 L1131.0,229.76 L1131.1,229.22 L1131.3,228.68 L1131.4,228.14 L1131.5,227.61 L1131.7,227.07 L1131.8,226.53 L1132.0,225.99 L1132.1,225.46 L1132.2,224.92 L1132.4,224.38 L1132.5,223.85 L1132.7,223.31 L1132.8,222.77 L1133.0,222.23 L1133.1,221.70 L1133.3,221.16 L1133.4,220.62 L1133.6,220.08 L1133.7,219.55 L1133.9,219.01 L1134.0,218.47 L1134.2,217.93 L1134.3,217.40 L1134.5,216.86 L1134.6,216.32 L1134.8,215.78 L1134.9,215.25 L1135.1,214.71 L1135.2,214.17 L1135.4,213.63 L1135.6,213.09 L1135.7,212.56 L1135.9,212.02 L1136.0,211.48 L1136.2,210.94 L1136.4,210.40 L1136.5,209.87 L1136.7,209.33 L1136.8,208.79 L1137.0,208.25 L1137.2,207.71 L1137.3,207.18 L1137.5,206.64 L1137.7,206.10 L1137.8,205.56 L1138.0,205.02 L1138.2,204.48 L1138.4,203.94 L1138.5,203.41 L1138.7,202.87 L1138.9,202.33 L1139.0,201.79 L1139.2,201.25 L1139.4,200.71 L1139.6,200.17 L1139.7,199.63 L1139.9,199.09 L1140.1,198.56 L1140.3,198.02 L1140.4,197.48 L1140.6,196.94 L1140.8,196.40 L1141.0,195.86 L1141.2,195.32 L1141.3,194.78 L1141.5,194.24 L1141.7,193.70 L1141.9,193.16 L1142.1,192.62 L1142.2,192.08 L1142.4,191.54 L1142.6,191.00 L1142.8,190.46 L1143.0,189.92 L1143.2,189.38 L1143.3,188.84 L1143.5,188.30 L1143.7,187.76 L1143.9,187.22 L1144.1,186.68 L1144.3,186.14 L1144.5,185.60 L1144.7,185.05 L1144.9,184.51 L1145.0,183.97 L1145.2,183.43 L1145.4,182.89 L1145.6,182.35 L1145.8,181.81 L1146.0,181.27 L1146.2,180.73 L1146.4,180.19 L1146.6,179.64 L1146.8,179.10 L1147.0,178.56 L1147.2,178.03 L1147.4,177.49 L1147.6,176.95 L1147.8,176.41 L1148.0,175.87 L1148.2,175.33 L1148.4,174.80 L1148.6,174.26 L1148.8,173.72 L1149.0,173.19 L1149.3,172.65 L1149.5,172.12 L1149.7,171.59 L1149.9,171.05 L1150.1,170.52 L1150.4,169.99 L1150.6,169.46 L1150.8,168.93 L1151.0,168.40 L1151.3,167.87 L1151.5,167.35 L1151.7,166.82 L1152.0,166.30 L1152.2,165.77 L1152.4,165.25 L1152.7,164.73 L1152.9,164.21 L1153.2,163.69 L1153.4,163.17 L1153.7,162.65 L1153.9,162.14 L1154.2,161.62 L1154.5,161.11 L1154.7,160.60 L1155.0,160.09 L1155.3,159.58 L1155.5,159.07 L1155.8,158.56 L1156.1,158.06 L1156.4,157.56 L1156.7,157.06 L1156.9,156.56 L1157.2,156.06 L1157.5,155.56 L1157.8,155.07 L1158.1,154.57 L1158.4,154.08 L1158.7,153.59 L1159.1,153.10 L1159.4,152.62 L1159.7,152.13 L1160.0,151.65 L1160.3,151.17 L1160.7,150.69 L1161.0,150.22 L1161.3,149.74 L1161.7,149.27 L1162.0,148.80 L1162.4,148.34 L1162.7,147.87 L1163.1,147.41 L1163.4,146.95 L1163.8,146.49 L1164.2,146.03 L1164.6,145.58 L1164.9,145.12 L1165.3,144.68 L1165.7,144.23 L1166.1,143.78 L1166.5,143.34 L1166.9,142.90 L1167.3,142.47 L1167.7,142.03 L1168.1,141.60 L1168.5,141.17 L1169.0,140.74 L1169.4,140.32 L1169.8,139.90 L1170.3,139.48 L1170.7,139.07 L1171.2,138.65 L1171.6,138.25 L1172.1,137.84 L1172.5,137.43 L1173.0,137.03 L1173.5,136.64 L1173.9,136.24 L1174.4,135.85 L1174.9,135.46 L1175.4,135.08 L1175.9,134.69 L1176.4,134.32 L1176.9,133.94 L1177.4,133.57 L1177.9,133.20 L1178.4,132.83 L1178.9,132.47 L1179.5,132.11 L1180.0,131.75 L1180.5,131.40 L1181.1,131.05 L1181.6,130.71 L1182.2,130.37 L1182.7,130.03 L1183.3,129.69 L1183.8,129.36 L1184.4,129.04 L1184.9,128.71 L1185.5,128.39 L1186.1,128.08 L1186.7,127.76 L1187.2,127.46 L1187.8,127.15 L1188.4,126.85 L1189.0,126.55 L1189.6,126.26 L1190.2,125.97 L1190.8,125.69 L1191.4,125.41 L1192.0,125.13 L1192.6,124.86 L1193.2,124.59 L1193.9,124.33 L1194.5,124.07 L1195.1,123.81 L1195.7,123.56 L1196.4,123.31 L1197.0,123.07 L1197.7,122.83 L1198.3,122.60 L1198.9,122.37 L1199.6,122.14 L1200.2,121.92 L1200.9,121.71 L1201.6,121.50 L1202.2,121.29 L1202.9,121.09 L1203.5,120.89 L1204.2,120.70 L1204.9,120.51 L1205.5,120.32 L1206.2,120.15 L1206.9,119.97 L1207.6,119.80 L1208.3,119.64 L1208.9,119.48 L1209.6,119.33 L1210.3,119.18 L1211.0,119.03 L1211.7,118.89 L1212.4,118.76 L1213.0,118.63 L1213.7,118.51 L1214.4,118.39 L1215.1,118.27 L1215.8,118.17 L1216.5,118.06 L1217.2,117.97 L1217.9,117.87 L1218.6,117.79 L1219.3,117.70 L1220.0,117.63 L1220.7,117.56 L1221.4,117.49 L1222.1,117.43 L1222.8,117.38 L1223.5,117.33 L1224.1,117.29 L1224.8,117.25 L1225.5,117.22 L1226.2,117.19 L1226.9,117.17 L1227.6,117.16 L1228.3,117.15 L1229.0,117.15 L1229.7,117.15 L1230.4,117.16 L1231.1,117.17 L1231.8,117.19 L1232.5,117.22 L1233.2,117.25 L1233.8,117.29 L1234.5,117.33 L1235.2,117.38 L1235.9,117.43 L1236.6,117.49 L1237.3,117.55 L1238.0,117.62 L1238.6,117.69 L1239.3,117.77 L1240.0,117.85 L1240.7,117.94 L1241.4,118.03 L1242.0,118.13 L1242.7,118.23 L1243.4,118.34 L1244.1,118.45 L1244.8,118.57 L1245.4,118.69 L1246.1,118.81 L1246.8,118.94 L1247.4,119.08 L1248.1,119.21 L1248.8,119.36 L1249.5,119.50 L1250.1,119.65 L1250.8,119.81 L1251.5,119.96 L1252.1,120.13 L1252.8,120.29 L1253.5,120.46 L1254.1,120.63 L1254.8,120.81 L1255.4,120.99 L1256.1,121.18 L1256.8,121.36 L1257.4,121.56 L1258.1,121.75 L1258.7,121.95 L1259.4,122.15 L1260.0,122.35 L1260.7,122.56 L1261.3,122.77 L1262.0,122.98 L1262.6,123.20 L1263.3,123.42 L1263.9,123.64 L1264.6,123.87 L1265.2,124.09 L1265.9,124.32 L1266.5,124.56 L1267.1,124.79 L1267.8,125.03 L1268.4,125.27 L1269.1,125.51 L1269.7,125.76 L1270.3,126.01 L1271.0,126.26 L1271.6,126.51 L1272.2,126.76 L1272.9,127.02 L1273.5,127.27 L1274.1,127.53 L1274.7,127.80 L1275.4,128.06 L1276.0,128.32 L1276.6,128.59 L1277.2,128.86 L1277.9,129.13 L1278.5,129.40 L1279.1,129.67 L1279.7,129.95 L1280.3,130.22 L1280.9,130.50 L1281.6,130.78 L1282.2,131.06 L1282.8,131.34 L1283.4,131.62 L1284.0,131.90 L1284.6,132.19 L1285.2,132.47 L1285.8,132.76 L1286.4,133.04 L1287.0,133.33 L1287.6,133.61 L1288.2,133.90 L1288.8,134.19 L1289.4,134.48 L1290.0,134.77 L1290.6,135.06 L1291.2,135.35 L1291.7,135.64 L1292.3,135.93 L1292.9,136.22 L1293.5,136.51 L1294.1,136.80 L1294.7,137.09 L1295.2,137.38 L1295.8,137.67 L1296.4,137.96"/>
<path stroke="#D000D8" d="M70.8,53.31 L71.3,53.31 L71.8,53.31 L72.3,53.31 L72.8,53.31 L73.3,53.31 L73.8,53.31 L74.3,53.31 L74.8,53.31 L75.3,53.31 L75.8,53.31 L76.3,53.31 L76.8,53.31 L77.3,53.31 L77.8,53.31 L78.3,53.31 L78.8,53.31 L79.3,53.31 L79.8,53.31 L80.3,53.31 L80.8,53.31 L81.3,53.31 L81.8,53.31 L82.3,53.31 L82.8,53.31 L83.3,53.31 L83.8,53.31 L84.3,53.31 L84.8,53.31 L85.3,53.31 L85.8,53.31 L86.3,53.31 L86.8,53.31 L87.3,53.31 L87.8,53.31 L88.3,53.31 L88.8,53.31 L89.3,53.31 L89.8,53.31 L90.3,53.31 L90.8,53.31 L91.3,53.31 L91.8,53.31 L92.3,53.31 L92.8,53.31 L93.3,53.31 L93.8,53.31 L94.3,53.31 L94.8,53.31 L95.3,53.31 L95.8,53.31 L96.3,53.31 L96.8,53.31 L97.3,53.31 L97.8,53.32 L98.3,53.32 L98.8,53.32 L99.3,53.33 L99.8,53.33 L100.3,53.34 L100.8,53.34 L101.3,53.35 L101.8,53.35 L102.3,53.36 L102.8,53.37 L103.3,53.38 L103.8,53.38 L104.3,53.39 L104.8,53.40 L105.3,53.41 L105.8,53.42 L106.3,53.43 L106.8,53.44 L107.3,53.46 L107.8,53.47 L108.3,53.48 L108.8,53.49 L109.3,53.50 L109.8,53.52 L110.3,53.53 L110.8,53.55 L111.3,53.56 L111.8,53.58 L112.3,53.59 L112.8,53.61 L113.3,53.62 L113.8,53.64 L114.3,53.67 L114.8,53.70 L115.3,53.74 L115.8,53.78 L116.3,53.84 L116.8,53.89 L117.3,53.95 L117.8,54.02 L118.3,54.09 L118.8,54.16 L119.3,54.24 L119.8,54.33 L120.3,54.41 L120.8,54.50 L121.3,54.60 L121.8,54.69 L122.3,54.79 L122.8,54.89 L123.3,55.00 L123.8,55.10 L124.3,55.21 L124.8,55.32 L125.3,55.43 L125.8,55.54 L126.3,55.65 L126.8,55.76 L127.3,55.87 L127.8,55.99 L128.3,56.12 L128.8,56.25 L129.3,56.39 L129.8,56.54 L130.3,56.70 L130.8,56.86 L131.3,57.03 L131.8,57.20 L132.3,57.38 L132.8,57.56 L133.3,57.75 L133.8,57.94 L134.3,58.13 L134.8,58.33 L135.3,58.53 L135.8,58.74 L136.3,58.94 L136.8,59.15 L137.3,59.36 L137.8,59.57 L138.3,59.78 L138.8,59.99 L139.3,60.20 L139.8,60.41 L140.2,60.58 L140.8,60.83 L141.5,61.08 L142.1,61.33 L142.7,61.59 L143.3,61.85 L143.9,62.12 L144.5,62.39 L145.1,62.66 L145.7,62.94 L146.3,63.22 L147.0,63.51 L147.6,63.79 L148.2,64.08 L148.8,64.38 L149.4,64.67 L150.0,64.97 L150.6,65.27 L151.2,65.57 L151.8,65.88 L152.3,66.19 L152.9,66.50 L153.5,66.81 L154.1,67.12 L154.7,67.44 L155.3,67.76 L155.9,68.08 L156.5,68.41 L157.1,68.74 L157.7,69.07 L158.3,69.41 L158.9,69.75 L159.4,70.09 L160.0,70.44 L160.6,70.78 L161.2,71.13 L161.8,71.49 L162.4,71.84 L163.0,72.20 L163.6,72.56 L164.1,72.92 L164.7,73.28 L165.3,73.63 L165.9,73.97 L166.5,74.32 L167.1,74.66 L167.7,75.00 L168.3,75.34 L168.8,75.67 L169.4,76.01 L170.0,76.34 L170.6,76.67 L171.2,77.00 L171.8,77.33 L172.4,77.65 L173.0,77.97 L173.6,78.29 L174.2,78.60 L174.8,78.91 L175.4,79.22 L176.0,79.52 L176.6,79.82 L177.2,80.12 L177.8,80.41 L178.4,80.70 L179.0,80.98 L179.6,81.26 L180.2,81.54 L180.8,81.80 L181.4,82.07 L182.0,82.33 L182.6,82.58 L183.2,82.83 L183.8,83.07 L184.4,83.31 L185.1,83.54 L185.7,83.77 L186.3,83.99 L186.9,84.20 L187.5,84.40 L188.2,84.60 L188.8,84.80 L189.4,84.98 L190.1,85.16 L190.7,85.33 L191.3,85.49 L192.0,85.65 L192.6,85.80 L193.2,85.94 L193.9,86.07 L194.5,86.20 L195.2,86.31 L195.8,86.43 L196.5,86.53 L197.1,86.63 L197.8,86.71 L198.4,86.80 L199.1,86.87 L199.7,86.94 L200.4,87.00 L201.1,87.06 L201.7,87.11 L202.4,87.15 L203.1,87.19 L203.7,87.22 L204.4,87.25 L205.1,87.27 L205.7,87.28 L206.4,87.29 L207.1,87.29 L207.8,87.29 L208.5,87.28 L209.1,87.27 L209.8,87.25 L210.5,87.23 L211.2,87.20 L211.9,87.16 L212.6,87.13 L213.2,87.08 L213.9,87.04 L214.6,86.99 L215.3,86.93 L216.0,86.87 L216.7,86.81 L217.4,86.74 L218.1,86.67 L218.8,86.59 L219.5,86.51 L220.2,86.43 L220.9,86.35 L221.6,86.26 L222.3,86.17 L223.0,86.07 L223.7,85.97 L224.4,85.87 L225.1,85.77 L225.8,85.66 L226.5,85.55 L227.2,85.44 L227.9,85.32 L228.6,85.21 L229.3,85.09 L230.0,84.97 L230.7,84.85 L231.4,84.72 L232.1,84.59 L232.8,84.47 L233.5,84.34 L234.2,84.21 L234.9,84.07 L235.6,83.94 L236.3,83.81 L237.0,83.67 L237.7,83.53 L238.4,83.40 L239.1,83.26 L239.8,83.12 L240.5,82.98 L241.2,82.84 L241.9,82.70 L242.6,82.56 L243.3,82.42 L244.0,82.28 L244.7,82.14 L245.5,82.00 L246.2,81.86 L246.9,81.72 L247.6,81.58 L248.3,81.44 L249.0,81.31 L249.6,81.17 L250.3,81.03 L251.0,80.90 L251.7,80.77 L252.4,80.64 L253.1,80.50 L253.8,80.38 L254.5,80.25 L255.2,80.12 L255.9,80.00 L256.6,79.87 L257.3,79.75 L258.0,79.63 L258.7,79.51 L259.3,79.39 L260.0,79.27 L260.7,79.15 L261.4,79.04 L262.1,78.92 L262.8,78.81 L263.5,78.69 L264.2,78.58 L264.8,78.47 L265.5,78.36 L266.2,78.26 L266.9,78.15 L267.6,78.05 L268.2,77.94 L268.9,77.84 L269.6,77.74 L270.3,77.63 L271.0,77.53 L271.7,77.44 L272.3,77.34 L273.0,77.24 L273.7,77.14 L274.4,77.05 L275.0,76.96 L275.7,76.86 L276.4,76.77 L277.1,76.68 L277.8,76.59 L278.4,76.50 L279.1,76.41 L279.8,76.33 L280.5,76.24 L281.1,76.16 L281.8,76.07 L282.5,75.99 L283.2,75.91 L283.8,75.83 L284.5,75.75 L285.2,75.67 L285.9,75.59 L286.5,75.51 L287.2,75.43 L287.9,75.36 L288.6,75.28 L289.2,75.21 L289.9,75.14 L290.6,75.06 L291.3,74.99 L291.9,74.92 L292.6,74.85 L293.3,74.78 L294.0,74.71 L294.6,74.64 L295.3,74.58 L296.0,74.51 L296.7,74.45 L297.3,74.38 L298.0,74.32 L298.7,74.25 L299.4,74.19 L300.1,74.13 L300.7,74.07 L301.4,74.01 L302.1,73.95 L302.8,73.89 L303.4,73.83 L304.1,73.77 L304.8,73.72 L305.5,73.66 L306.2,73.60 L306.8,73.55 L307.5,73.49 L308.2,73.44 L308.9,73.39 L309.6,73.33 L310.2,73.28 L310.9,73.23 L311.6,73.18 L312.3,73.13 L313.0,73.08 L313.7,73.03 L314.3,72.98 L315.0,72.93 L315.7,72.88 L316.4,72.84 L317.1,72.79 L317.8,72.75 L318.5,72.70 L319.1,72.66 L319.8,72.61 L320.5,72.57 L321.2,72.53 L321.9,72.48 L322.6,72.44 L323.3,72.40 L324.0,72.36 L324.7,72.32 L325.4,72.28 L326.0,72.24 L326.7,72.21 L327.4,72.17 L328.1,72.13 L328.8,72.10 L329.5,72.06 L330.2,72.03 L330.9,72.00 L331.6,71.96 L332.3,71.93 L333.0,71.90 L333.7,71.87 L334.4,71.84 L335.1,71.81 L335.8,71.78 L336.5,71.75 L337.2,71.73 L337.9,71.70 L338.6,71.67 L339.3,71.65 L340.0,71.63 L340.7,71.60 L341.4,71.58 L342.1,71.56 L342.8,71.54 L343.5,71.52 L344.2,71.50 L344.9,71.48 L345.6,71.46 L346.3,71.45 L347.0,71.43 L347.7,71.42 L348.4,71.40 L349.1,71.39 L349.8,71.37 L350.5,71.36 L351.2,71.35 L351.9,71.34 L352.6,71.33 L353.3,71.32 L354.0,71.32 L354.7,71.31 L355.4,71.31 L356.1,71.30 L356.8,71.30 L357.5,71.29 L358.2,71.29 L358.9,71.29 L359.6,71.29 L360.3,71.29 L361.0,71.29 L361.7,71.30 L362.4,71.30 L363.1,71.30 L363.9,71.31 L364.6,71.32 L365.3,71.32 L366.0,71.33 L366.7,71.34 L367.4,71.35 L368.1,71.36 L368.8,71.38 L369.5,71.39 L370.2,71.40 L370.9,71.42 L371.6,71.43 L372.3,71.45 L373.0,71.47 L373.7,71.49 L374.4,71.51 L375.2,71.53 L375.9,71.55 L376.6,71.58 L377.3,71.60 L378.0,71.63 L378.7,71.66 L379.4,71.68 L380.1,71.71 L380.8,71.74 L381.5,71.77 L382.2,71.81 L382.9,71.84 L383.6,71.87 L384.3,71.91 L385.0,71.95 L385.7,71.98 L386.5,72.02 L387.2,72.06 L387.9,72.10 L388.6,72.15 L389.3,72.19 L390.0,72.23 L390.7,72.28 L391.4,72.33 L392.1,72.38 L392.8,72.42 L393.5,72.47 L394.2,72.53 L394.9,72.58 L395.6,72.63 L396.3,72.69 L397.0,72.75 L397.7,72.80 L398.4,72.86 L399.2,72.92 L399.9,72.98 L400.6,73.05 L401.3,73.11 L402.0,73.18 L402.7,73.24 L403.4,73.31 L404.1,73.38 L404.8,73.45 L405.5,73.52 L406.2,73.59 L406.9,73.67 L407.6,73.74 L408.3,73.82 L409.0,73.90 L409.7,73.98 L410.4,74.06 L411.1,74.14 L411.8,74.22 L412.5,74.31 L413.2,74.39 L413.9,74.48 L414.6,74.57 L415.3,74.66 L416.0,74.75 L416.7,74.84 L417.4,74.94 L418.1,75.03 L418.8,75.13 L419.5,75.23 L420.2,75.33 L420.9,75.43 L421.6,75.53 L422.3,75.63 L423.0,75.74 L423.7,75.84 L424.4,75.95 L425.1,76.05 L425.7,76.15 L426.4,76.26 L427.1,76.36 L427.8,76.46 L428.5,76.56 L429.2,76.66 L429.9,76.75 L430.6,76.84 L431.3,76.93 L431.9,77.02 L432.6,77.10 L433.3,77.18 L434.0,77.25 L434.7,77.32 L435.4,77.39 L436.0,77.45 L436.7,77.51 L437.4,77.56 L438.0,77.60 L438.7,77.64 L439.4,77.67 L440.0,77.69 L440.7,77.71 L441.4,77.72 L442.0,77.73 L442.7,77.72 L443.3,77.71 L444.0,77.68 L444.6,77.65 L445.3,77.61 L445.9,77.56 L446.6,77.50 L447.2,77.43 L447.9,77.36 L448.5,77.26 L449.1,77.16 L449.8,77.05 L450.4,76.93 L451.0,76.79 L451.6,76.64 L452.2,76.48 L452.9,76.31 L453.5,76.12 L454.1,75.92 L454.7,75.71 L455.3,75.48 L455.9,75.24 L456.5,74.98 L457.1,74.71 L457.7,74.43 L458.2,74.13 L458.8,73.81 L459.4,73.48 L460.0,73.13 L460.5,72.76 L461.1,72.38 L461.7,71.98 L462.2,71.56 L462.8,71.12 L463.3,70.67 L463.9,70.21 L464.4,69.73 L464.9,69.24 L465.5,68.74 L466.0,68.24 L466.5,67.73 L467.1,67.21 L467.6,66.70 L468.1,66.18 L468.6,65.66 L469.2,65.14 L469.7,64.63 L470.2,64.13 L470.7,63.63 L471.2,63.14 L471.8,62.67 L472.3,62.20 L472.8,61.75 L473.3,61.32 L473.8,60.90 L474.4,60.50 L474.9,60.12 L475.4,59.76 L475.9,59.42 L476.5,59.09 L477.0,58.77 L477.5,58.47 L478.1,58.18 L478.6,57.90 L479.2,57.63 L479.7,57.37 L480.3,57.12 L480.8,56.88 L481.4,56.64 L481.9,56.40 L482.5,56.17 L483.1,55.95 L483.7,55.72 L484.2,55.50 L484.8,55.27 L485.4,55.05 L486.0,54.83 L486.6,54.63 L487.2,54.43 L487.9,54.25 L488.5,54.09 L489.1,53.95 L489.7,53.83 L490.4,53.74 L491.0,53.69 L491.6,53.67 L492.2,53.68 L492.9,53.74 L493.5,53.83 L494.1,53.96 L494.8,54.12 L495.4,54.31 L496.1,54.53 L496.7,54.77 L497.3,55.03 L498.0,55.30 L498.6,55.59 L499.2,55.89 L499.8,56.20 L500.5,56.51 L501.1,56.83 L501.7,57.14 L502.3,57.46 L502.9,57.78 L503.5,58.10 L504.1,58.42 L504.8,58.74 L505.4,59.06 L506.0,59.38 L506.5,59.70 L507.1,60.03 L507.7,60.35 L508.3,60.68 L508.9,61.01 L509.5,61.33 L510.1,61.66 L510.6,61.99 L511.2,62.32 L511.8,62.66 L512.4,62.99 L512.9,63.32 L513.5,63.66 L514.0,63.99 L514.6,64.33 L515.2,64.66 L515.7,65.00 L516.3,65.34 L516.8,65.68 L517.4,66.02 L517.9,66.36 L518.5,66.70 L519.0,67.05 L519.6,67.39 L520.1,67.73 L520.6,68.08 L521.2,68.43 L521.7,68.77 L522.3,69.12 L522.8,69.47 L523.3,69.82 L523.9,70.17 L524.4,70.52 L524.9,70.87 L525.4,71.22 L526.0,71.58 L526.5,71.93 L527.0,72.28 L527.5,72.64 L528.1,73.00 L528.6,73.35 L529.1,73.71 L529.6,74.07 L530.1,74.43 L530.7,74.79 L531.2,75.15 L531.7,75.51 L532.2,75.87 L532.7,76.23 L533.2,76.59 L533.7,76.96 L534.3,77.32 L534.8,77.69 L535.3,78.05 L535.8,78.42 L536.3,78.79 L536.8,79.15 L537.3,79.52 L537.8,79.89 L538.3,80.26 L538.8,80.63 L539.4,81.00 L539.9,81.38 L540.4,81.75 L540.9,82.12 L541.4,82.50 L541.9,82.87 L542.4,83.25 L542.9,83.63 L543.4,84.00 L543.9,84.38 L544.4,84.76 L544.9,85.14 L545.4,85.52 L545.9,85.90 L546.4,86.29 L546.9,86.67 L547.4,87.05 L547.8,87.44 L548.3,87.82 L548.8,88.21 L549.3,88.60 L549.8,88.99 L550.3,89.38 L550.8,89.77 L551.3,90.16 L551.8,90.55 L552.2,90.95 L552.7,91.34 L553.2,91.73 L553.7,92.13 L554.2,92.53 L554.6,92.93 L555.1,93.33 L555.6,93.73 L556.0,94.13 L556.5,94.53 L557.0,94.93 L557.5,95.34 L557.9,95.74 L558.4,96.15 L558.9,96.56 L559.3,96.97 L559.8,97.38 L560.2,97.79 L560.7,98.20 L561.1,98.61 L561.6,99.03 L562.1,99.44 L562.5,99.86 L563.0,100.28 L563.4,100.70 L563.8,101.12 L564.3,101.54 L564.7,101.96 L565.2,102.38 L565.6,102.81 L566.1,103.23 L566.5,103.66 L566.9,104.09 L567.4,104.52 L567.8,104.95 L568.2,105.38 L568.6,105.82 L569.1,106.25 L569.5,106.69 L569.9,107.12 L570.3,107.56 L570.7,108.00 L571.2,108.44 L571.6,108.89 L572.0,109.33 L572.4,109.77 L572.8,110.22 L573.2,110.67 L573.6,111.12 L574.0,111.57 L574.4,112.02 L574.8,112.47 L575.2,112.93 L575.6,113.39 L575.9,113.84 L576.3,114.30 L576.7,114.76 L577.1,115.22 L577.5,115.69 L577.9,116.15 L578.2,116.62 L578.6,117.08 L579.0,117.55 L579.3,118.02 L579.7,118.49 L580.1,118.96 L580.4,119.44 L580.8,119.91 L581.1,120.39 L581.5,120.86 L581.9,121.34 L582.2,121.82 L582.5,122.30 L582.9,122.78 L583.2,123.26 L583.6,123.75 L583.9,124.23 L584.3,124.72 L584.6,125.20 L584.9,125.69 L585.3,126.18 L585.6,126.67 L585.9,127.16 L586.3,127.65 L586.6,128.14 L586.9,128.64 L587.2,129.13 L587.5,129.63 L587.9,130.12 L588.2,130.62 L588.5,131.12 L588.8,131.62 L589.1,132.12 L589.4,132.62 L589.7,133.12 L590.0,133.62 L590.3,134.12 L590.6,134.63 L590.9,135.13 L591.2,135.64 L591.5,136.15 L591.8,136.65 L592.1,137.16 L592.4,137.67 L592.7,138.18 L593.0,138.69 L593.2,139.20 L593.5,139.71 L593.8,140.22 L594.1,140.73 L594.4,141.25 L594.6,141.76 L594.9,142.27 L595.2,142.79 L595.5,143.30 L595.7,143.82 L596.0,144.33 L596.3,144.85 L596.5,145.37 L596.8,145.89 L597.1,146.41 L597.3,146.92 L597.6,147.44 L597.8,147.96 L598.1,148.48 L598.3,149.00 L598.6,149.52 L598.8,150.04 L599.1,150.57 L599.3,151.09 L599.6,151.61 L599.8,152.13 L600.1,152.66 L600.3,153.18 L600.6,153.70 L600.8,154.23 L601.0,154.75 L601.3,155.27 L601.5,155.80 L601.7,156.32 L602.0,156.85 L602.2,157.37 L602.4,157.90 L602.7,158.42 L602.9,158.95 L603.1,159.47 L603.4,160.00 L603.6,160.53 L603.8,161.05 L604.0,161.58 L604.2,162.10 L604.5,162.63 L604.7,163.16 L604.9,163.68 L605.1,164.21 L605.3,164.73 L605.5,165.26 L605.7,165.79 L606.0,166.31 L606.2,166.84 L606.4,167.36 L606.6,167.89 L606.8,168.42 L607.0,168.94 L607.2,169.47 L607.4,169.99 L607.6,170.52 L607.8,171.04 L608.0,171.57 L608.2,172.09 L608.4,172.62 L608.6,173.14 L608.8,173.66 L609.0,174.19 L609.2,174.71 L609.4,175.24 L609.6,175.76 L609.7,176.29 L609.9,176.81 L610.1,177.34 L610.3,177.86 L610.5,178.38 L610.7,178.91 L610.9,179.43 L611.0,179.96 L611.2,180.48 L611.4,181.01 L611.6,181.53 L611.8,182.05 L611.9,182.58 L612.1,183.10 L612.3,183.63 L612.5,184.15 L612.6,184.68 L612.8,185.20 L613.0,185.73 L613.2,186.25 L613.3,186.78 L613.5,187.30 L613.7,187.83 L613.8,188.36 L614.0,188.88 L614.2,189.41 L614.3,189.93 L614.5,190.46 L614.7,190.99 L614.8,191.51 L615.0,192.04 L615.1,192.57 L615.3,193.10 L615.5,193.62 L615.6,194.15 L615.8,194.68 L615.9,195.21 L616.1,195.74 L616.2,196.27 L616.4,196.80 L616.5,197.33 L616.7,197.86 L616.8,198.39 L617.0,198.92 L617.1,199.45 L617.3,199.98 L617.4,200.51 L617.6,201.04 L617.7,201.57 L617.9,202.11 L618.0,202.64 L618.2,203.17 L618.3,203.71 L618.4,204.24 L618.6,204.77 L618.7,205.31 L618.9,205.84 L619.0,206.38 L619.1,206.92 L619.3,207.45 L619.4,207.99 L619.5,208.53 L619.7,209.06 L619.8,209.60 L619.9,210.14 L620.1,210.68 L620.2,211.22 L620.3,211.76 L620.5,212.30 L620.6,212.84 L620.7,213.38 L620.8,213.93 L621.0,214.47 L621.1,215.01 L621.2,215.56 L621.3,216.10 L621.5,216.65 L621.6,217.19 L621.7,217.74 L621.8,218.29 L621.9,218.83 L622.1,219.38 L622.2,219.93 L622.3,220.48 L622.4,221.03 L622.5,221.58 L622.7,222.13 L622.8,222.68 L622.9,223.24 L623.0,223.79 L623.1,224.34 L623.2,224.90 L623.3,225.45 L623.5,226.01 L623.6,226.56 L623.7,227.12 L623.8,227.67 L623.9,228.23 L624.0,228.79 L624.1,229.35 L624.2,229.90 L624.3,230.46 L624.4,231.02 L624.5,231.58 L624.6,232.14 L624.7,232.70 L624.8,233.26 L624.9,233.82 L625.0,234.38 L625.2,234.94 L625.3,235.50 L625.4,236.06 L625.5,236.62 L625.6,237.18 L625.7,237.75 L625.7,238.31 L625.8,238.87 L625.9,239.43 L626.0,239.99 L626.1,240.55 L626.2,241.12 L626.3,241.68 L626.4,242.24 L626.5,242.80 L626.6,243.36 L626.7,243.92 L626.8,244.48 L626.9,245.05 L627.0,245.61 L627.1,246.17 L627.2,246.73 L627.2,247.29 L627.3,247.85 L627.4,248.41 L627.5,248.97 L627.6,249.53 L627.7,250.09 L627.8,250.65 L627.9,251.20 L627.9,251.76 L628.0,252.32 L628.1,252.88 L628.2,253.44 L628.3,253.99 L628.4,254.55 L628.5,255.10 L628.5,255.66 L628.6,256.21 L628.7,256.77 L628.8,257.32 L628.9,257.87 L628.9,258.43 L629.0,258.98 L629.1,259.53 L629.2,260.08 L629.3,260.63 L629.3,261.18 L629.4,261.73 L629.5,262.28 L629.6,262.82 L629.7,263.37 L629.7,263.92 L629.8,264.46 L629.9,265.01 L630.0,265.55 L630.0,266.09 L630.1,266.63 L630.2,267.17 L630.3,267.71 L630.3,268.25 L630.4,268.79 L630.5,269.33 L630.6,269.86 L630.6,270.40 L630.7,270.93 L630.8,271.47 L630.8,272.00 L630.9,272.53 L631.0,273.06 L631.1,273.59 L631.1,274.12 L631.2,274.64 L631.3,275.17 L631.3,275.69 L631.4,276.22 L631.5,276.74 L631.5,277.26 L631.6,277.78 L631.7,278.30 L631.7,278.82 L631.8,279.33 L631.9,279.85 L631.9,280.36 L632.0,280.87 L632.1,281.38 L632.1,281.89 L632.2,282.40 L632.3,282.90 L632.3,283.41 L632.4,283.91 L632.5,284.41 L632.5,284.91 L632.6,285.41 L632.7,285.91 L632.7,286.41 L632.8,286.90 L632.9,287.39 L632.9,287.88 L633.0,288.38 L633.1,288.87 L633.1,289.36 L633.2,289.85 L633.2,290.34 L633.3,290.83 L633.4,291.32 L633.4,291.81 L633.5,292.30 L633.6,292.80 L633.6,293.29 L633.7,293.79 L633.8,294.29 L633.8,294.79 L633.9,295.29 L633.9,295.79 L634.0,296.30 L634.1,296.81 L634.1,297.32 L634.2,297.84 L634.3,298.35 L634.3,298.88 L634.4,299.40 L634.4,299.93 L634.5,300.47 L634.6,301.00 L634.6,301.55 L634.7,302.09 L634.8,302.64 L634.8,303.20 L634.9,303.76 L634.9,304.33 L635.0,304.90 L635.1,305.48 L635.1,306.07 L635.2,306.66 L635.3,307.26 L635.3,307.86 L635.4,308.48 L635.4,309.09 L635.5,309.72 L635.6,310.35 L635.6,311.00 L635.7,311.64 L635.8,312.30 L635.8,312.97 L635.9,313.64 L636.0,314.32 L636.0,315.02 L636.1,315.72 L636.2,316.43 L636.2,317.15 L636.3,317.88 L636.4,318.61 L636.4,319.36 L636.5,320.11 L636.6,320.86 L636.6,321.62 L636.7,322.39 L636.8,323.15 L636.8,323.92 L636.9,324.68 L637.0,325.45 L637.0,326.21 L637.1,326.97 L637.2,327.72 L637.3,328.47 L637.3,329.21 L637.4,329.94 L637.5,330.67 L637.5,331.38 L637.6,332.09 L637.7,332.78 L637.8,333.46 L637.8,334.12 L637.9,334.77 L638.0,335.40 L638.1,336.02 L638.1,336.62 L638.2,337.19 L638.3,337.75 L638.4,338.28 L638.4,338.79 L638.5,339.28 L638.6,339.74 L638.7,340.18 L638.8,340.59 L638.8,340.97 L638.9,341.32 L639.0,341.64 L639.1,341.93 L639.2,342.19 L639.3,342.42 L639.3,342.60 L639.4,342.76 L639.5,342.87 L639.6,342.95 L639.7,342.99 L639.8,342.99 L639.9,342.95 L639.9,342.87 L640.0,342.75 L640.1,342.59 L640.2,342.39 L640.3,342.16 L640.4,341.89 L640.5,341.59 L640.6,341.26 L640.7,340.89 L640.8,340.50 L640.9,340.08 L640.9,339.63 L641.0,339.16 L641.1,338.66 L641.2,338.14 L641.3,337.59 L641.4,337.03 L641.5,336.44 L641.6,335.84 L641.7,335.21 L641.8,334.58 L641.9,333.92 L642.0,333.26 L642.1,332.58 L642.2,331.89 L642.3,331.19 L642.4,330.48 L642.5,329.76 L642.6,329.04 L642.7,328.31 L642.8,327.58 L642.9,326.85 L643.0,326.11 L643.1,325.37 L643.2,324.64 L643.3,323.90 L643.4,323.17 L643.5,322.45 L643.6,321.73 L643.7,321.02 L643.8,320.31 L643.9,319.62 L644.0,318.93 L644.1,318.25 L644.2,317.57 L644.3,316.91 L644.4,316.25 L644.5,315.59 L644.6,314.95 L644.7,314.31 L644.8,313.67 L645.0,313.05 L645.1,312.42 L645.2,311.81 L645.3,311.20 L645.4,310.59 L645.5,310.00 L645.6,309.40 L645.7,308.81 L645.8,308.23 L645.9,307.65 L646.0,307.08 L646.1,306.51 L646.2,305.94 L646.3,305.38 L646.4,304.82 L646.5,304.27 L646.6,303.72 L646.7,303.17 L646.8,302.63 L646.9,302.09 L647.0,301.55 L647.1,301.02 L647.2,300.48 L647.3,299.95 L647.4,299.43 L647.4,298.90 L647.5,298.38 L647.6,297.86 L647.7,297.34 L647.8,296.82 L647.9,296.31 L648.0,295.79 L648.1,295.28 L648.2,294.77 L648.3,294.25 L648.4,293.74 L648.5,293.23 L648.6,292.72 L648.7,292.21 L648.8,291.70 L648.8,291.19 L648.9,290.68 L649.0,290.17 L649.1,289.66 L649.2,289.14 L649.3,288.63 L649.4,288.12 L649.4,287.61 L649.5,287.09 L649.6,286.58 L649.7,286.07 L649.8,285.55 L649.9,285.04 L649.9,284.52 L650.0,284.01 L650.1,283.49 L650.2,282.98 L650.3,282.46 L650.4,281.94 L650.4,281.43 L650.5,280.91 L650.6,280.39 L650.7,279.88 L650.8,279.36 L650.8,278.84 L650.9,278.32 L651.0,277.80 L651.1,277.28 L651.1,276.77 L651.2,276.25 L651.3,275.73 L651.4,275.21 L651.5,274.69 L651.5,274.16 L651.6,273.64 L651.7,273.12 L651.8,272.60 L651.8,272.08 L651.9,271.56 L652.0,271.03 L652.1,270.51 L652.2,269.99 L652.2,269.46 L652.3,268.94 L652.4,268.42 L652.5,267.89 L652.6,267.37 L652.6,266.84 L652.7,266.32 L652.8,265.79 L652.9,265.27 L652.9,264.74 L653.0,264.21 L653.1,263.69 L653.2,263.16 L653.3,262.63 L653.3,262.11 L653.4,261.58 L653.5,261.05 L653.6,260.52 L653.7,259.99 L653.8,259.46 L653.8,258.93 L653.9,258.40 L654.0,257.87 L654.1,257.34 L654.2,256.81 L654.3,256.28 L654.3,255.75 L654.4,255.22 L654.5,254.69 L654.6,254.16 L654.7,253.62 L654.8,253.09 L654.9,252.56 L655.0,252.03 L655.0,251.49 L655.1,250.96 L655.2,250.43 L655.3,249.89 L655.4,249.36 L655.5,248.82 L655.6,248.29 L655.7,247.75 L655.8,247.22 L655.9,246.68 L656.0,246.14 L656.1,245.61 L656.2,245.07 L656.3,244.53 L656.4,243.99 L656.5,243.46 L656.6,242.92 L656.7,242.38 L656.8,241.84 L656.9,241.30 L657.0,240.76 L657.1,240.22 L657.2,239.69 L657.3,239.15 L657.4,238.60 L657.6,238.06 L657.7,237.52 L657.8,236.98 L657.9,236.44 L658.0,235.90 L658.1,235.36 L658.3,234.81 L658.4,234.27 L658.5,233.73 L658.6,233.19 L658.7,232.64 L658.9,232.10 L659.0,231.55 L659.1,231.01 L659.2,230.47 L659.4,229.92 L659.5,229.38 L659.6,228.83 L659.8,228.28 L659.9,227.74 L660.0,227.19 L660.2,226.65 L660.3,226.10 L660.4,225.55 L660.6,225.00 L660.7,224.46 L660.9,223.91 L661.0,223.36 L661.2,222.81 L661.3,222.26 L661.5,221.71 L661.6,221.17 L661.8,220.62 L661.9,220.07 L662.1,219.52 L662.2,218.97 L662.4,218.41 L662.6,217.86 L662.7,217.31 L662.9,216.76 L663.1,216.21 L663.2,215.66 L663.4,215.10 L663.6,214.55 L663.7,214.00 L663.9,213.45 L664.1,212.89 L664.3,212.34 L664.5,211.78 L664.6,211.23 L664.8,210.68 L665.0,210.12 L665.2,209.57 L665.4,209.01 L665.6,208.46 L665.8,207.90 L665.9,207.35 L666.1,206.79 L666.3,206.24 L666.5,205.68 L666.7,205.13 L666.9,204.57 L667.1,204.02 L667.3,203.46 L667.5,202.91 L667.7,202.35 L667.9,201.80 L668.1,201.24 L668.3,200.69 L668.5,200.13 L668.7,199.58 L668.9,199.02 L669.1,198.47 L669.3,197.91 L669.5,197.36 L669.7,196.80 L669.9,196.25 L670.1,195.69 L670.3,195.14 L670.5,194.59 L670.7,194.03 L670.9,193.48 L671.1,192.92 L671.3,192.37 L671.5,191.82 L671.7,191.27 L671.9,190.71 L672.1,190.16 L672.3,189.61 L672.5,189.06 L672.7,188.51 L672.9,187.96 L673.1,187.41 L673.3,186.86 L673.5,186.31 L673.7,185.76 L673.9,185.21 L674.1,184.66 L674.3,184.12 L674.5,183.57 L674.7,183.02 L674.9,182.48 L675.1,181.93 L675.3,181.38 L675.5,180.84 L675.7,180.29 L675.8,179.75 L676.0,179.21 L676.2,178.67 L676.4,178.12 L676.6,177.58 L676.8,177.04 L676.9,176.50 L677.1,175.96 L677.3,175.42 L677.5,174.88 L677.6,174.35 L677.8,173.81 L678.0,173.27 L678.2,172.74 L678.3,172.20 L678.5,171.67 L678.7,171.13 L678.9,170.60 L679.0,170.07 L679.2,169.54 L679.4,169.01 L679.5,168.48 L679.7,167.95 L679.9,167.42 L680.1,166.89 L680.2,166.37 L680.4,165.84 L680.6,165.32 L680.8,164.79 L680.9,164.27 L681.1,163.75 L681.3,163.23 L681.5,162.71 L681.7,162.19 L681.8,161.67 L682.0,161.15 L682.2,160.64 L682.4,160.12 L682.6,159.61 L682.8,159.10 L683.0,158.58 L683.2,158.07 L683.4,157.56 L683.6,157.05 L683.8,156.55 L684.0,156.04 L684.2,155.54 L684.4,155.03 L684.6,154.53 L684.8,154.03 L685.0,153.53 L685.2,153.03 L685.5,152.53 L685.7,152.03 L685.9,151.53 L686.2,151.04 L686.4,150.55 L686.6,150.05 L686.9,149.56 L687.1,149.07 L687.4,148.59 L687.6,148.10 L687.9,147.61 L688.1,147.13 L688.4,146.65 L688.7,146.16 L689.0,145.68 L689.2,145.20 L689.5,144.73 L689.8,144.25 L690.1,143.78 L690.4,143.30 L690.7,142.83 L691.0,142.36 L691.3,141.89 L691.6,141.43 L692.0,140.96 L692.3,140.50 L692.6,140.03 L692.9,139.57 L693.3,139.11 L693.6,138.65 L694.0,138.20 L694.3,137.74 L694.7,137.29 L695.1,136.84 L695.4,136.39 L695.8,135.94 L696.2,135.49 L696.5,135.05 L696.9,134.60 L697.3,134.16 L697.7,133.72 L698.1,133.28 L698.5,132.85 L698.9,132.41 L699.3,131.98 L699.7,131.55 L700.1,131.12 L700.6,130.69 L701.0,130.27 L701.4,129.84 L701.8,129.42 L702.3,129.00 L702.7,128.58 L703.2,128.16 L703.6,127.75 L704.1,127.34 L704.5,126.93 L705.0,126.52 L705.4,126.11 L705.9,125.70 L706.4,125.30 L706.8,124.90 L707.3,124.50 L707.8,124.10 L708.3,123.71 L708.8,123.31 L709.2,122.92 L709.7,122.53 L710.2,122.15 L710.7,121.76 L711.2,121.38 L711.7,121.00 L712.3,120.62 L712.8,120.24 L713.3,119.87 L713.8,119.50 L714.3,119.13 L714.8,118.76 L715.4,118.39 L715.9,118.03 L716.4,117.67 L717.0,117.31 L717.5,116.95 L718.0,116.60 L718.6,116.24 L719.1,115.89 L719.7,115.55 L720.2,115.20 L720.8,114.86 L721.4,114.52 L721.9,114.18 L722.5,113.84 L723.0,113.51 L723.6,113.18 L724.2,112.85 L724.8,112.52 L725.3,112.19 L725.9,111.87 L726.5,111.55 L727.1,111.24 L727.7,110.92 L728.2,110.61 L728.8,110.30 L729.4,109.99 L730.0,109.69 L730.6,109.39 L731.2,109.09 L731.8,108.79 L732.4,108.49 L733.0,108.20 L733.6,107.91 L734.2,107.63 L734.9,107.34 L735.5,107.06 L736.1,106.78 L736.7,106.51 L737.3,106.23 L737.9,105.96 L738.6,105.69 L739.2,105.43 L739.8,105.17 L740.4,104.91 L741.1,104.65 L741.7,104.39 L742.3,104.14 L743.0,103.89 L743.6,103.65 L744.2,103.40 L744.9,103.16 L745.5,102.92 L746.1,102.69 L746.8,102.46 L747.4,102.23 L748.1,102.00 L748.7,101.78 L749.4,101.56 L750.0,101.34 L750.7,101.13 L751.3,100.91 L752.0,100.71 L752.6,100.50 L753.3,100.30 L753.9,100.10 L754.6,99.90 L755.3,99.70 L755.9,99.51 L756.6,99.32 L757.2,99.14 L757.9,98.96 L758.6,98.78 L759.2,98.60 L759.9,98.42 L760.6,98.25 L761.2,98.08 L761.9,97.92 L762.6,97.76 L763.2,97.60 L763.9,97.44 L764.6,97.28 L765.2,97.13 L765.9,96.98 L766.6,96.84 L767.3,96.69 L767.9,96.55 L768.6,96.41 L769.3,96.28 L770.0,96.15 L770.7,96.02 L771.3,95.89 L772.0,95.76 L772.7,95.64 L773.4,95.52 L774.1,95.41 L774.7,95.29 L775.4,95.18 L776.1,95.07 L776.8,94.97 L777.5,94.86 L778.2,94.76 L778.9,94.66 L779.5,94.57 L780.2,94.48 L780.9,94.38 L781.6,94.30 L782.3,94.21 L783.0,94.13 L783.7,94.05 L784.4,93.97 L785.1,93.90 L785.8,93.82 L786.5,93.75 L787.2,93.69 L787.9,93.62 L788.5,93.56 L789.2,93.50 L789.9,93.44 L790.6,93.39 L791.3,93.34 L792.0,93.29 L792.7,93.24 L793.4,93.19 L794.1,93.15 L794.8,93.11 L795.5,93.07 L796.2,93.04 L796.9,93.00 L797.6,92.97 L798.3,92.95 L799.0,92.92 L799.7,92.90 L800.4,92.88 L801.1,92.86 L801.8,92.84 L802.5,92.83 L803.2,92.82 L803.9,92.81 L804.6,92.80 L805.3,92.79 L806.0,92.79 L806.7,92.79 L807.5,92.79 L808.2,92.80 L808.9,92.81 L809.6,92.82 L810.3,92.83 L811.0,92.84 L811.7,92.86 L812.4,92.87 L813.1,92.89 L813.8,92.92 L814.5,92.94 L815.2,92.97 L815.9,93.00 L816.6,93.03 L817.3,93.06 L818.0,93.10 L818.7,93.14 L819.4,93.18 L820.1,93.22 L820.8,93.26 L821.5,93.31 L822.2,93.36 L822.9,93.41 L823.6,93.46 L824.3,93.52 L825.0,93.57 L825.7,93.63 L826.4,93.69 L827.1,93.76 L827.8,93.82 L828.5,93.89 L829.2,93.96 L829.9,94.03 L830.6,94.10 L831.3,94.18 L832.0,94.25 L832.7,94.33 L833.4,94.42 L834.1,94.50 L834.8,94.58 L835.5,94.67 L836.2,94.76 L836.9,94.85 L837.6,94.95 L838.3,95.04 L839.0,95.14 L839.7,95.24 L840.4,95.34 L841.1,95.44 L841.8,95.55 L842.5,95.65 L843.1,95.76 L843.8,95.87 L844.5,95.98 L845.2,96.10 L845.9,96.21 L846.6,96.33 L847.3,96.45 L848.0,96.57 L848.7,96.70 L849.3,96.82 L850.0,96.95 L850.7,97.08 L851.4,97.21 L852.1,97.34 L852.8,97.47 L853.4,97.61 L854.1,97.75 L854.8,97.89 L855.5,98.03 L856.2,98.17 L856.8,98.31 L857.5,98.46 L858.2,98.61 L858.9,98.76 L859.5,98.91 L860.2,99.06 L860.9,99.22 L861.6,99.38 L862.2,99.53 L862.9,99.69 L863.6,99.86 L864.2,100.02 L864.9,100.18 L865.6,100.35 L866.2,100.52 L866.9,100.69 L867.6,100.86 L868.2,101.04 L868.9,101.21 L869.5,101.39 L870.2,101.57 L870.9,101.75 L871.5,101.94 L872.2,102.12 L872.8,102.31 L873.5,102.50 L874.1,102.69 L874.8,102.88 L875.4,103.07 L876.1,103.27 L876.7,103.47 L877.4,103.67 L878.0,103.87 L878.6,104.07 L879.3,104.28 L879.9,104.48 L880.6,104.69 L881.2,104.90 L881.8,105.11 L882.5,105.33 L883.1,105.54 L883.7,105.76 L884.3,105.98 L885.0,106.20 L885.6,106.43 L886.2,106.65 L886.8,106.88 L887.4,107.11 L888.1,107.34 L888.7,107.57 L889.3,107.81 L889.9,108.04 L890.5,108.28 L891.1,108.52 L891.7,108.76 L892.3,109.01 L892.9,109.25 L893.5,109.50 L894.1,109.75 L894.7,110.00 L895.3,110.26 L895.9,110.51 L896.5,110.77 L897.1,111.03 L897.7,111.29 L898.3,111.55 L898.8,111.82 L899.4,112.09 L900.0,112.35 L900.6,112.63 L901.2,112.90 L901.7,113.17 L902.3,113.45 L902.9,113.73 L903.4,114.01 L904.0,114.29 L904.6,114.58 L905.1,114.86 L905.7,115.15 L906.2,115.44 L906.8,115.74 L907.3,116.03 L907.9,116.33 L908.4,116.63 L909.0,116.93 L909.5,117.23 L910.1,117.54 L910.6,117.84 L911.1,118.15 L911.7,118.47 L912.2,118.78 L912.8,119.10 L913.3,119.41 L913.8,119.73 L914.4,120.06 L914.9,120.38 L915.4,120.71 L916.0,121.04 L916.5,121.37 L917.0,121.70 L917.6,122.04 L918.1,122.37 L918.6,122.71 L919.2,123.06 L919.7,123.40 L920.2,123.75 L920.8,124.10 L921.3,124.45 L921.8,124.80 L922.3,125.16 L922.9,125.52 L923.4,125.88 L923.9,126.24 L924.5,126.61 L925.0,126.98 L925.5,127.35 L926.1,127.72 L926.6,128.09 L927.1,128.47 L927.7,128.85 L928.2,129.23 L928.7,129.62 L929.3,130.01 L929.8,130.39 L930.3,130.79 L930.9,131.18 L931.4,131.58 L932.0,131.98 L932.5,132.38 L933.0,132.79 L933.6,133.19 L934.1,133.60 L934.7,134.01 L935.2,134.43 L935.8,134.85 L936.3,135.27 L936.9,135.69 L937.4,136.11 L938.0,136.54 L938.6,136.97 L939.1,137.41 L939.7,137.84 L940.2,138.28 L940.8,138.72 L941.4,139.16 L942.0,139.61 L942.5,140.06 L943.1,140.51 L943.7,140.96 L944.3,141.41 L944.8,141.86 L945.4,142.31 L946.0,142.74 L946.6,143.17 L947.2,143.59 L947.8,144.00 L948.4,144.40 L949.0,144.78 L949.5,145.14 L950.1,145.49 L950.7,145.81 L951.3,146.11 L951.9,146.39 L952.5,146.65 L953.1,146.87 L953.7,147.07 L954.2,147.24 L954.8,147.38 L955.4,147.48 L956.0,147.54 L956.5,147.57 L957.1,147.56 L957.7,147.51 L958.2,147.41 L958.8,147.28 L959.4,147.11 L959.9,146.91 L960.5,146.68 L961.0,146.42 L961.6,146.13 L962.1,145.82 L962.6,145.49 L963.2,145.15 L963.7,144.78 L964.2,144.41 L964.7,144.03 L965.2,143.64 L965.7,143.24 L966.2,142.83 L966.7,142.42 L967.2,142.00 L967.7,141.57 L968.2,141.14 L968.7,140.70 L969.1,140.25 L969.6,139.80 L970.1,139.35 L970.5,138.89 L971.0,138.43 L971.4,137.96 L971.9,137.50 L972.3,137.03 L972.7,136.56 L973.1,136.09 L973.6,135.61 L974.0,135.14 L974.4,134.67 L974.8,134.19 L975.2,133.72 L975.6,133.25 L976.0,132.77 L976.4,132.29 L976.8,131.82 L977.2,131.34 L977.6,130.87 L978.0,130.39 L978.3,129.91 L978.7,129.43 L979.1,128.95 L979.4,128.47 L979.8,128.00 L980.2,127.52 L980.5,127.04 L980.9,126.56 L981.2,126.08 L981.5,125.59 L981.9,125.11 L982.2,124.63 L982.6,124.15 L982.9,123.67 L983.2,123.18 L983.5,122.70 L983.9,122.22 L984.2,121.73 L984.5,121.25 L984.8,120.76 L985.1,120.28 L985.4,119.79 L985.7,119.30 L986.0,118.82 L986.3,118.33 L986.6,117.84 L986.9,117.35 L987.2,116.86 L987.5,116.37 L987.8,115.88 L988.1,115.38 L988.4,114.89 L988.6,114.40 L988.9,113.90 L989.2,113.41 L989.5,112.91 L989.7,112.41 L990.0,111.91 L990.3,111.42 L990.5,110.92 L990.8,110.42 L991.0,109.91 L991.3,109.41 L991.5,108.91 L991.8,108.40 L992.0,107.90 L992.3,107.39 L992.5,106.88 L992.8,106.37 L993.0,105.86 L993.2,105.35 L993.5,104.84 L993.7,104.33 L993.9,103.81 L994.1,103.30 L994.4,102.78 L994.6,102.26 L994.8,101.74 L995.0,101.22 L995.3,100.70 L995.5,100.18 L995.7,99.65 L995.9,99.13 L996.1,98.60 L996.3,98.07 L996.5,97.54 L996.7,97.01 L996.9,96.48 L997.1,95.94 L997.3,95.41 L997.5,94.87 L997.7,94.34 L997.9,93.80 L998.1,93.26 L998.3,92.72 L998.5,92.18 L998.7,91.64 L998.9,91.10 L999.1,90.56 L999.4,90.02 L999.6,89.48 L999.8,88.94 L1000.0,88.40 L1000.2,87.86 L1000.4,87.32 L1000.6,86.78 L1000.8,86.24 L1001.0,85.71 L1001.2,85.17 L1001.4,84.64 L1001.7,84.10 L1001.9,83.57 L1002.1,83.03 L1002.4,82.50 L1002.6,81.97 L1002.8,81.45 L1003.1,80.92 L1003.3,80.39 L1003.6,79.87 L1003.8,79.35 L1004.1,78.83 L1004.3,78.31 L1004.6,77.80 L1004.9,77.29 L1005.2,76.78 L1005.4,76.27 L1005.7,75.76 L1006.0,75.26 L1006.3,74.76 L1006.6,74.26 L1006.9,73.77 L1007.3,73.28 L1007.6,72.79 L1007.9,72.31 L1008.3,71.82 L1008.6,71.35 L1009.0,70.87 L1009.3,70.40 L1009.7,69.94 L1010.1,69.47 L1010.5,69.02 L1010.9,68.56 L1011.3,68.11 L1011.7,67.66 L1012.1,67.22 L1012.5,66.79 L1013.0,66.35 L1013.4,65.92 L1013.9,65.50 L1014.3,65.08 L1014.8,64.67 L1015.3,64.26 L1015.8,63.86 L1016.3,63.46 L1016.8,63.07 L1017.3,62.68 L1017.9,62.30 L1018.4,61.92 L1019.0,61.55 L1019.6,61.19 L1020.1,60.83 L1020.7,60.49 L1021.3,60.15 L1021.9,59.82 L1022.5,59.51 L1023.2,59.20 L1023.8,58.91 L1024.4,58.63 L1025.1,58.37 L1025.7,58.12 L1026.3,57.89 L1027.0,57.67 L1027.6,57.48 L1028.3,57.30 L1029.0,57.14 L1029.6,57.00 L1030.3,56.88 L1030.9,56.78 L1031.6,56.71 L1032.2,56.66 L1032.9,56.63 L1033.5,56.63 L1034.2,56.65 L1034.8,56.70 L1035.4,56.78 L1036.1,56.89 L1036.7,57.03 L1037.3,57.19 L1037.9,57.39 L1038.5,57.62 L1039.1,57.88 L1039.7,58.16 L1040.3,58.48 L1040.8,58.81 L1041.4,59.17 L1042.0,59.55 L1042.5,59.94 L1043.1,60.35 L1043.6,60.78 L1044.1,61.21 L1044.6,61.66 L1045.2,62.11 L1045.7,62.58 L1046.2,63.04 L1046.7,63.51 L1047.2,63.97 L1047.6,64.44 L1048.1,64.90 L1048.6,65.35 L1049.0,65.81 L1049.5,66.25 L1050.0,66.70 L1050.4,67.14 L1050.8,67.58 L1051.3,68.02 L1051.7,68.45 L1052.1,68.89 L1052.5,69.32 L1053.0,69.75 L1053.4,70.18 L1053.8,70.61 L1054.2,71.04 L1054.5,71.47 L1054.9,71.90 L1055.3,72.34 L1055.7,72.77 L1056.1,73.21 L1056.4,73.65 L1056.8,74.09 L1057.1,74.54 L1057.5,74.98 L1057.8,75.44 L1058.2,75.89 L1058.5,76.35 L1058.8,76.82 L1059.2,77.28 L1059.5,77.76 L1059.8,78.23 L1060.1,78.72 L1060.4,79.20 L1060.8,79.69 L1061.1,80.18 L1061.4,80.67 L1061.7,81.17 L1062.0,81.67 L1062.2,82.17 L1062.5,82.68 L1062.8,83.19 L1063.1,83.70 L1063.4,84.21 L1063.7,84.72 L1063.9,85.24 L1064.2,85.76 L1064.5,86.28 L1064.7,86.80 L1065.0,87.32 L1065.2,87.84 L1065.5,88.37 L1065.7,88.89 L1066.0,89.42 L1066.2,89.94 L1066.5,90.47 L1066.7,91.00 L1067.0,91.52 L1067.2,92.05 L1067.4,92.58 L1067.7,93.11 L1067.9,93.63 L1068.1,94.16 L1068.4,94.69 L1068.6,95.22 L1068.8,95.75 L1069.0,96.28 L1069.3,96.81 L1069.5,97.34 L1069.7,97.87 L1069.9,98.40 L1070.1,98.93 L1070.3,99.46 L1070.5,99.99 L1070.7,100.53 L1070.9,101.06 L1071.1,101.59 L1071.3,102.12 L1071.5,102.66 L1071.7,103.19 L1071.9,103.72 L1072.1,104.26 L1072.3,104.79 L1072.5,105.32 L1072.7,105.86 L1072.8,106.39 L1073.0,106.93 L1073.2,107.46 L1073.4,108.00 L1073.6,108.54 L1073.7,109.07 L1073.9,109.61 L1074.1,110.14 L1074.3,110.68 L1074.4,111.22 L1074.6,111.75 L1074.8,112.29 L1074.9,112.83 L1075.1,113.37 L1075.2,113.91 L1075.4,114.44 L1075.5,114.98 L1075.7,115.52 L1075.9,116.06 L1076.0,116.60 L1076.2,117.14 L1076.3,117.68 L1076.5,118.22 L1076.6,118.76 L1076.7,119.30 L1076.9,119.84 L1077.0,120.38 L1077.2,120.92 L1077.3,121.46 L1077.4,122.00 L1077.6,122.54 L1077.7,123.08 L1077.9,123.62 L1078.0,124.16 L1078.1,124.71 L1078.2,125.25 L1078.4,125.79 L1078.5,126.33 L1078.6,126.87 L1078.8,127.42 L1078.9,127.96 L1079.0,128.50 L1079.1,129.05 L1079.2,129.59 L1079.4,130.13 L1079.5,130.67 L1079.6,131.22 L1079.7,131.76 L1079.8,132.31 L1079.9,132.85 L1080.0,133.39 L1080.2,133.94 L1080.3,134.48 L1080.4,135.03 L1080.5,135.57 L1080.6,136.11 L1080.7,136.66 L1080.8,137.20 L1080.9,137.75 L1081.0,138.29 L1081.1,138.84 L1081.2,139.38 L1081.3,139.93 L1081.4,140.47 L1081.5,141.02 L1081.6,141.57 L1081.7,142.11 L1081.8,142.66 L1081.9,143.20 L1082.0,143.75 L1082.1,144.29 L1082.2,144.84 L1082.3,145.39 L1082.4,145.93 L1082.5,146.48 L1082.6,147.02 L1082.7,147.57 L1082.8,148.12 L1082.8,148.66 L1082.9,149.21 L1083.0,149.75 L1083.1,150.30 L1083.2,150.85 L1083.3,151.39 L1083.4,151.94 L1083.5,152.49 L1083.5,153.03 L1083.6,153.58 L1083.7,154.13 L1083.8,154.67 L1083.9,155.22 L1084.0,155.77 L1084.1,156.31 L1084.1,156.86 L1084.2,157.41 L1084.3,157.95 L1084.4,158.50 L1084.5,159.05 L1084.6,159.59 L1084.6,160.14 L1084.7,160.69 L1084.8,161.23 L1084.9,161.78 L1085.0,162.33 L1085.0,162.87 L1085.1,163.42 L1085.2,163.97 L1085.3,164.51 L1085.4,165.06 L1085.4,165.61 L1085.5,166.15 L1085.6,166.70 L1085.7,167.25 L1085.8,167.79 L1085.8,168.34 L1085.9,168.88 L1086.0,169.43 L1086.1,169.98 L1086.2,170.52 L1086.2,171.07 L1086.3,171.62 L1086.4,172.16 L1086.5,172.71 L1086.6,173.25 L1086.6,173.80 L1086.7,174.34 L1086.8,174.89 L1086.9,175.44 L1087.0,175.98 L1087.0,176.53 L1087.1,177.07 L1087.2,177.62 L1087.3,178.16 L1087.4,178.71 L1087.5,179.25 L1087.5,179.80 L1087.6,180.34 L1087.7,180.89 L1087.8,181.43 L1087.9,181.97 L1088.0,182.52 L1088.1,183.06 L1088.1,183.61 L1088.2,184.15 L1088.3,184.69 L1088.4,185.24 L1088.5,185.78 L1088.6,186.33 L1088.7,186.87 L1088.7,187.41 L1088.8,187.96 L1088.9,188.50 L1089.0,189.04 L1089.1,189.59 L1089.2,190.13 L1089.3,190.67 L1089.4,191.22 L1089.5,191.76 L1089.5,192.31 L1089.6,192.85 L1089.7,193.39 L1089.8,193.94 L1089.9,194.48 L1090.0,195.03 L1090.1,195.57 L1090.2,196.11 L1090.3,196.66 L1090.4,197.20 L1090.4,197.75 L1090.5,198.29 L1090.6,198.84 L1090.7,199.38 L1090.8,199.93 L1090.9,200.47 L1091.0,201.02 L1091.1,201.56 L1091.2,202.11 L1091.3,202.65 L1091.3,203.20 L1091.4,203.75 L1091.5,204.29 L1091.6,204.84 L1091.7,205.39 L1091.8,205.93 L1091.9,206.48 L1092.0,207.03 L1092.1,207.57 L1092.1,208.12 L1092.2,208.67 L1092.3,209.22 L1092.4,209.77 L1092.5,210.32 L1092.6,210.87 L1092.7,211.42 L1092.7,211.97 L1092.8,212.52 L1092.9,213.07 L1093.0,213.62 L1093.1,214.17 L1093.2,214.72 L1093.2,215.27 L1093.3,215.82 L1093.4,216.38 L1093.5,216.93 L1093.6,217.48 L1093.7,218.04 L1093.7,218.59 L1093.8,219.15 L1093.9,219.70 L1094.0,220.26 L1094.1,220.81 L1094.1,221.37 L1094.2,221.93 L1094.3,222.48 L1094.4,223.04 L1094.4,223.60 L1094.5,224.16 L1094.6,224.72 L1094.7,225.28 L1094.7,225.84 L1094.8,226.40 L1094.9,226.96 L1094.9,227.52 L1095.0,228.08 L1095.1,228.63 L1095.1,229.19 L1095.2,229.75 L1095.3,230.31 L1095.3,230.87 L1095.4,231.43 L1095.5,231.98 L1095.5,232.54 L1095.6,233.09 L1095.7,233.65 L1095.7,234.20 L1095.8,234.75 L1095.9,235.30 L1095.9,235.85 L1096.0,236.40 L1096.0,236.94 L1096.1,237.48 L1096.2,238.02 L1096.2,238.56 L1096.3,239.10 L1096.3,239.64 L1096.4,240.17 L1096.4,240.70 L1096.5,241.23 L1096.6,241.75 L1096.6,242.27 L1096.7,242.79 L1096.7,243.31 L1096.8,243.82 L1096.8,244.33 L1096.9,244.84 L1096.9,245.35 L1097.0,245.85 L1097.0,246.35 L1097.1,246.85 L1097.1,247.35 L1097.2,247.84 L1097.2,248.34 L1097.3,248.84 L1097.3,249.33 L1097.4,249.83 L1097.4,250.33 L1097.4,250.83 L1097.5,251.34 L1097.5,251.84 L1097.6,252.35 L1097.6,252.87 L1097.7,253.38 L1097.7,253.90 L1097.7,254.43 L1097.8,254.95 L1097.8,255.49 L1097.9,256.03 L1097.9,256.58 L1097.9,257.13 L1098.0,257.69 L1098.0,258.25 L1098.1,258.83 L1098.1,259.41 L1098.1,260.00 L1098.2,260.60 L1098.2,261.21 L1098.2,261.83 L1098.3,262.46 L1098.3,263.10 L1098.3,263.75 L1098.4,264.41 L1098.4,265.08 L1098.4,265.77 L1098.5,266.46 L1098.5,267.17 L1098.5,267.89 L1098.6,268.63 L1098.6,269.37 L1098.6,270.12 L1098.6,270.89 L1098.7,271.66 L1098.7,272.44 L1098.7,273.23 L1098.8,274.02 L1098.8,274.82 L1098.8,275.63 L1098.8,276.45 L1098.9,277.27 L1098.9,278.09 L1098.9,278.92 L1098.9,279.76 L1099.0,280.59 L1099.0,281.43 L1099.0,282.28 L1099.0,283.12 L1099.1,283.97 L1099.1,284.81 L1099.1,285.66 L1099.1,286.50 L1099.1,287.35 L1099.2,288.19 L1099.2,289.03 L1099.2,289.87 L1099.2,290.71 L1099.2,291.54 L1099.3,292.37 L1099.3,293.20 L1099.3,294.02 L1099.3,294.83 L1099.3,295.64 L1099.3,296.44 L1099.4,297.23 L1099.4,298.02 L1099.4,298.80 L1099.4,299.57 L1099.4,300.33 L1099.4,301.08 L1099.5,301.82 L1099.5,302.55 L1099.5,303.27 L1099.5,303.98 L1099.5,304.68 L1099.5,305.36 L1099.5,306.03 L1099.5,306.68 L1099.6,307.32 L1099.6,307.95 L1099.6,308.56 L1099.6,309.15 L1099.6,309.73 L1099.6,310.29 L1099.6,310.84 L1099.6,311.36 L1099.6,311.87 L1099.7,312.36 L1099.7,312.83 L1099.7,313.27 L1099.7,313.70 L1099.7,314.11 L1099.7,314.49 L1099.7,314.86 L1099.7,315.20 L1099.7,315.51 L1099.7,315.81 L1099.7,316.07 L1099.7,316.32 L1099.7,316.54 L1099.7,316.73 L1099.8,316.90 L1099.8,317.04 L1099.8,317.15 L1099.8,317.23 L1099.8,317.29 L1099.8,317.32 L1099.8,317.31 L1099.8,317.28 L1099.8,317.22 L1099.8,317.12 L1099.8,317.00 L1099.8,316.84 L1099.8,316.65 L1099.8,316.43 L1099.8,316.17 L1099.8,315.88 L1099.8,315.55 L1099.8,315.20 L1099.8,314.81 L1099.8,314.39 L1099.8,313.94 L1099.8,313.47 L1099.8,312.97 L1099.8,312.44 L1099.8,311.90 L1099.8,311.33 L1099.8,310.75 L1099.8,310.15 L1099.8,309.53 L1099.8,308.90 L1099.8,308.26 L1099.8,307.61 L1099.8,306.95 L1099.8,306.27 L1099.8,305.60 L1099.8,304.92 L1099.8,304.23 L1099.8,303.55 L1099.8,302.86 L1099.8,302.18 L1099.8,301.50 L1099.8,300.83 L1099.8,300.16 L1099.8,299.50 L1099.8,298.85 L1099.8,298.21 L1099.8,297.58 L1099.8,296.97 L1099.8,296.37 L1099.8,295.79 L1099.8,295.23 L1099.8,294.70 L1099.8,294.18 L1099.8,293.69 L1099.7,293.22 L1099.7,292.78 L1099.7,292.37 L1099.7,291.99 L1099.7,291.64 L1099.7,291.32 L1099.7,291.04 L1099.7,290.80 L1099.7,290.59 L1099.7,290.42 L1099.7,290.28 L1099.7,290.17 L1099.7,290.10 L1099.7,290.06 L1099.7,290.06 L1099.7,290.09 L1099.7,290.14 L1099.7,290.23 L1099.7,290.35 L1099.7,290.50 L1099.7,290.67 L1099.6,290.88 L1099.6,291.11 L1099.6,291.37 L1099.6,291.65 L1099.6,291.96 L1099.6,292.29 L1099.6,292.65 L1099.6,293.04 L1099.6,293.44 L1099.6,293.87 L1099.6,294.32 L1099.6,294.79 L1099.6,295.28 L1099.6,295.79 L1099.6,296.33 L1099.6,296.88 L1099.6,297.44 L1099.6,298.03 L1099.6,298.63 L1099.6,299.25 L1099.6,299.89 L1099.6,300.53 L1099.6,301.20 L1099.6,301.88 L1099.6,302.57 L1099.6,303.27 L1099.6,303.99 L1099.6,304.71 L1099.6,305.45 L1099.6,306.20 L1099.6,306.96 L1099.6,307.72 L1099.6,308.50 L1099.6,309.28 L1099.6,310.07 L1099.6,310.86 L1099.6,311.66 L1099.6,312.47 L1099.6,313.28 L1099.6,314.09 L1099.6,314.91 L1099.6,315.73 L1099.7,316.55 L1099.7,317.38 L1099.7,318.20 L1099.7,319.03 L1099.7,319.85 L1099.7,320.68 L1099.7,321.50 L1099.7,322.32 L1099.7,323.14 L1099.8,323.95 L1099.8,324.76 L1099.8,325.56 L1099.8,326.36 L1099.8,327.15 L1099.8,327.94 L1099.8,328.72 L1099.9,329.49 L1099.9,330.26 L1099.9,331.01 L1099.9,331.75 L1099.9,332.49 L1100.0,333.21 L1100.0,333.92 L1100.0,334.62 L1100.0,335.31 L1100.1,335.98 L1100.1,336.64 L1100.1,337.29 L1100.1,337.92 L1100.2,338.53 L1100.2,339.13 L1100.2,339.72 L1100.3,340.30 L1100.3,340.87 L1100.3,341.42 L1100.4,341.97 L1100.4,342.51 L1100.4,343.04 L1100.5,343.56 L1100.5,344.08 L1100.5,344.59 L1100.6,345.10 L1100.6,345.60 L1100.7,346.10 L1100.7,346.59 L1100.8,347.09 L1100.8,347.58 L1100.8,348.08 L1100.9,348.57 L1100.9,349.07 L1101.0,349.56 L1101.0,350.06 L1101.1,350.57 L1101.1,351.08 L1101.2,351.59 L1101.2,352.11 L1101.3,352.64 L1101.4,353.18 L1101.4,353.72 L1101.5,354.27 L1101.5,354.84 L1101.6,355.41 L1101.7,355.99 L1101.7,356.59 L1101.8,357.20 L1101.9,357.83 L1101.9,358.47 L1102.0,359.12 L1102.1,359.79 L1102.1,360.48 L1102.2,361.18 L1102.3,361.90 L1102.4,362.62 L1102.4,363.36 L1102.5,364.10 L1102.6,364.84 L1102.7,365.58 L1102.7,366.31 L1102.8,367.05 L1102.9,367.77 L1103.0,368.48 L1103.1,369.18 L1103.2,369.86 L1103.3,370.52 L1103.3,371.16 L1103.4,371.78 L1103.5,372.37 L1103.6,372.93 L1103.7,373.46 L1103.8,373.95 L1103.9,374.40 L1104.0,374.82 L1104.1,375.19 L1104.1,375.52 L1104.2,375.79 L1104.3,376.02 L1104.4,376.20 L1104.5,376.31 L1104.6,376.37 L1104.7,376.37 L1104.8,376.31 L1104.9,376.19 L1105.0,376.01 L1105.1,375.78 L1105.2,375.50 L1105.2,375.18 L1105.3,374.80 L1105.4,374.39 L1105.5,373.94 L1105.6,373.44 L1105.7,372.92 L1105.8,372.36 L1105.9,371.77 L1106.0,371.15 L1106.1,370.51 L1106.1,369.84 L1106.2,369.16 L1106.3,368.45 L1106.4,367.74 L1106.5,367.01 L1106.6,366.27 L1106.7,365.52 L1106.7,364.77 L1106.8,364.01 L1106.9,363.26 L1107.0,362.51 L1107.1,361.76 L1107.1,361.02 L1107.2,360.29 L1107.3,359.58 L1107.4,358.87 L1107.4,358.18 L1107.5,357.51 L1107.6,356.84 L1107.7,356.19 L1107.7,355.55 L1107.8,354.92 L1107.9,354.30 L1107.9,353.69 L1108.0,353.09 L1108.1,352.50 L1108.1,351.91 L1108.2,351.34 L1108.2,350.78 L1108.3,350.22 L1108.4,349.67 L1108.4,349.12 L1108.5,348.59 L1108.5,348.06 L1108.6,347.53 L1108.6,347.01 L1108.7,346.50 L1108.8,345.99 L1108.8,345.48 L1108.9,344.98 L1108.9,344.47 L1109.0,343.98 L1109.0,343.48 L1109.1,342.99 L1109.1,342.50 L1109.2,342.01 L1109.2,341.52 L1109.3,341.03 L1109.3,340.54 L1109.4,340.05 L1109.4,339.56 L1109.4,339.07 L1109.5,338.57 L1109.5,338.07 L1109.6,337.58 L1109.6,337.07 L1109.7,336.57 L1109.7,336.06 L1109.8,335.55 L1109.8,335.03 L1109.8,334.52 L1109.9,333.99 L1109.9,333.47 L1110.0,332.94 L1110.0,332.42 L1110.1,331.88 L1110.1,331.35 L1110.1,330.81 L1110.2,330.28 L1110.2,329.73 L1110.3,329.19 L1110.3,328.65 L1110.3,328.10 L1110.4,327.55 L1110.4,327.00 L1110.5,326.45 L1110.5,325.90 L1110.5,325.34 L1110.6,324.79 L1110.6,324.23 L1110.7,323.67 L1110.7,323.12 L1110.7,322.56 L1110.8,322.00 L1110.8,321.44 L1110.9,320.87 L1110.9,320.31 L1110.9,319.75 L1111.0,319.19 L1111.0,318.62 L1111.1,318.06 L1111.1,317.50 L1111.2,316.94 L1111.2,316.37 L1111.2,315.81 L1111.3,315.25 L1111.3,314.69 L1111.4,314.13 L1111.4,313.56 L1111.5,313.00 L1111.5,312.44 L1111.6,311.88 L1111.6,311.32 L1111.6,310.76 L1111.7,310.21 L1111.7,309.65 L1111.8,309.09 L1111.8,308.53 L1111.9,307.97 L1111.9,307.42 L1112.0,306.86 L1112.0,306.30 L1112.1,305.75 L1112.1,305.19 L1112.2,304.63 L1112.2,304.08 L1112.3,303.52 L1112.3,302.97 L1112.4,302.41 L1112.4,301.86 L1112.5,301.30 L1112.5,300.75 L1112.6,300.20 L1112.6,299.64 L1112.7,299.09 L1112.7,298.54 L1112.8,297.98 L1112.8,297.43 L1112.9,296.88 L1112.9,296.33 L1113.0,295.77 L1113.0,295.22 L1113.1,294.67 L1113.1,294.12 L1113.2,293.57 L1113.3,293.02 L1113.3,292.47 L1113.4,291.91 L1113.4,291.36 L1113.5,290.81 L1113.5,290.26 L1113.6,289.71 L1113.6,289.16 L1113.7,288.61 L1113.7,288.06 L1113.8,287.52 L1113.9,286.97 L1113.9,286.42 L1114.0,285.87 L1114.0,285.32 L1114.1,284.77 L1114.1,284.22 L1114.2,283.67 L1114.2,283.13 L1114.3,282.58 L1114.4,282.03 L1114.4,281.48 L1114.5,280.93 L1114.5,280.39 L1114.6,279.84 L1114.6,279.29 L1114.7,278.74 L1114.7,278.20 L1114.8,277.65 L1114.9,277.10 L1114.9,276.55 L1115.0,276.01 L1115.0,275.46 L1115.1,274.91 L1115.1,274.37 L1115.2,273.82 L1115.3,273.27 L1115.3,272.73 L1115.4,272.18 L1115.4,271.63 L1115.5,271.09 L1115.5,270.54 L1115.6,269.99 L1115.7,269.45 L1115.7,268.90 L1115.8,268.35 L1115.8,267.81 L1115.9,267.26 L1115.9,266.71 L1116.0,266.17 L1116.0,265.62 L1116.1,265.07 L1116.2,264.53 L1116.2,263.98 L1116.3,263.43 L1116.3,262.89 L1116.4,262.34 L1116.4,261.79 L1116.5,261.25 L1116.5,260.70 L1116.6,260.15 L1116.7,259.61 L1116.7,259.06 L1116.8,258.52 L1116.8,257.97 L1116.9,257.42 L1116.9,256.88 L1117.0,256.33 L1117.1,255.78 L1117.1,255.24 L1117.2,254.69 L1117.2,254.14 L1117.3,253.60 L1117.3,253.05 L1117.4,252.50 L1117.5,251.96 L1117.5,251.41 L1117.6,250.86 L1117.6,250.32 L1117.7,249.77 L1117.8,249.22 L1117.8,248.68 L1117.9,248.13 L1117.9,247.58 L1118.0,247.04 L1118.1,246.49 L1118.1,245.94 L1118.2,245.40 L1118.2,244.85 L1118.3,244.30 L1118.4,243.76 L1118.4,243.21 L1118.5,242.66 L1118.6,242.12 L1118.6,241.57 L1118.7,241.03 L1118.7,240.48 L1118.8,239.93 L1118.9,239.39 L1118.9,238.84 L1119.0,238.29 L1119.1,237.75 L1119.2,237.20 L1119.2,236.66 L1119.3,236.11 L1119.4,235.56 L1119.4,235.02 L1119.5,234.47 L1119.6,233.93 L1119.6,233.38 L1119.7,232.83 L1119.8,232.29 L1119.9,231.74 L1119.9,231.20 L1120.0,230.65 L1120.1,230.11 L1120.2,229.56 L1120.3,229.01 L1120.3,228.47 L1120.4,227.92 L1120.5,227.38 L1120.6,226.83 L1120.7,226.29 L1120.7,225.74 L1120.8,225.20 L1120.9,224.65 L1121.0,224.11 L1121.1,223.56 L1121.2,223.02 L1121.3,222.47 L1121.3,221.93 L1121.4,221.38 L1121.5,220.84 L1121.6,220.29 L1121.7,219.75 L1121.8,219.20 L1121.9,218.66 L1122.0,218.11 L1122.1,217.57 L1122.2,217.03 L1122.3,216.48 L1122.4,215.94 L1122.5,215.39 L1122.6,214.85 L1122.7,214.30 L1122.8,213.76 L1122.9,213.22 L1123.0,212.67 L1123.1,212.13 L1123.2,211.58 L1123.3,211.04 L1123.4,210.50 L1123.5,209.95 L1123.6,209.41 L1123.8,208.87 L1123.9,208.32 L1124.0,207.78 L1124.1,207.24 L1124.2,206.69 L1124.3,206.15 L1124.5,205.61 L1124.6,205.07 L1124.7,204.52 L1124.8,203.98 L1125.0,203.44 L1125.1,202.89 L1125.2,202.35 L1125.3,201.81 L1125.5,201.27 L1125.6,200.73 L1125.7,200.18 L1125.9,199.64 L1126.0,199.10 L1126.1,198.56 L1126.3,198.02 L1126.4,197.47 L1126.6,196.93 L1126.7,196.39 L1126.9,195.85 L1127.0,195.31 L1127.1,194.77 L1127.3,194.23 L1127.4,193.68 L1127.6,193.14 L1127.8,192.60 L1127.9,192.06 L1128.1,191.52 L1128.2,190.98 L1128.4,190.44 L1128.5,189.90 L1128.7,189.36 L1128.9,188.82 L1129.0,188.28 L1129.2,187.74 L1129.4,187.20 L1129.5,186.66 L1129.7,186.12 L1129.9,185.58 L1130.1,185.04 L1130.2,184.50 L1130.4,183.96 L1130.6,183.43 L1130.8,182.89 L1131.0,182.35 L1131.2,181.81 L1131.3,181.27 L1131.5,180.74 L1131.7,180.20 L1131.9,179.66 L1132.1,179.13 L1132.3,178.59 L1132.5,178.05 L1132.7,177.52 L1132.9,176.98 L1133.1,176.45 L1133.3,175.92 L1133.5,175.38 L1133.7,174.85 L1134.0,174.32 L1134.2,173.79 L1134.4,173.26 L1134.6,172.73 L1134.8,172.20 L1135.0,171.67 L1135.3,171.14 L1135.5,170.61 L1135.7,170.08 L1136.0,169.56 L1136.2,169.03 L1136.4,168.51 L1136.7,167.98 L1136.9,167.46 L1137.1,166.94 L1137.4,166.41 L1137.6,165.89 L1137.9,165.37 L1138.1,164.85 L1138.4,164.34 L1138.6,163.82 L1138.9,163.30 L1139.2,162.79 L1139.4,162.27 L1139.7,161.76 L1140.0,161.25 L1140.2,160.73 L1140.5,160.22 L1140.8,159.71 L1141.1,159.21 L1141.3,158.70 L1141.6,158.19 L1141.9,157.69 L1142.2,157.18 L1142.5,156.68 L1142.8,156.18 L1143.1,155.68 L1143.4,155.18 L1143.7,154.68 L1144.0,154.19 L1144.3,153.69 L1144.6,153.20 L1144.9,152.71 L1145.2,152.22 L1145.5,151.73 L1145.8,151.24 L1146.2,150.75 L1146.5,150.27 L1146.8,149.78 L1147.1,149.30 L1147.5,148.82 L1147.8,148.34 L1148.2,147.86 L1148.5,147.39 L1148.8,146.91 L1149.2,146.44 L1149.5,145.97 L1149.9,145.50 L1150.2,145.03 L1150.6,144.56 L1151.0,144.10 L1151.3,143.63 L1151.7,143.17 L1152.1,142.71 L1152.4,142.25 L1152.8,141.80 L1153.2,141.34 L1153.6,140.89 L1154.0,140.44 L1154.4,139.99 L1154.7,139.54 L1155.1,139.10 L1155.5,138.66 L1155.9,138.21 L1156.3,137.78 L1156.7,137.34 L1157.2,136.90 L1157.6,136.47 L1158.0,136.04 L1158.4,135.61 L1158.8,135.18 L1159.3,134.76 L1159.7,134.33 L1160.1,133.91 L1160.6,133.49 L1161.0,133.08 L1161.4,132.66 L1161.9,132.25 L1162.3,131.84 L1162.8,131.43 L1163.3,131.03 L1163.7,130.63 L1164.2,130.22 L1164.6,129.83 L1165.1,129.43 L1165.6,129.04 L1166.1,128.64 L1166.5,128.26 L1167.0,127.87 L1167.5,127.48 L1168.0,127.10 L1168.5,126.72 L1169.0,126.35 L1169.5,125.97 L1170.0,125.60 L1170.5,125.23 L1171.0,124.86 L1171.6,124.50 L1172.1,124.14 L1172.6,123.78 L1173.1,123.42 L1173.7,123.07 L1174.2,122.72 L1174.7,122.37 L1175.3,122.03 L1175.8,121.68 L1176.4,121.34 L1176.9,121.01 L1177.5,120.67 L1178.1,120.34 L1178.6,120.02 L1179.2,119.69 L1179.8,119.37 L1180.3,119.06 L1180.9,118.74 L1181.5,118.43 L1182.1,118.13 L1182.7,117.82 L1183.3,117.52 L1183.9,117.23 L1184.5,116.94 L1185.1,116.65 L1185.7,116.36 L1186.3,116.08 L1186.9,115.81 L1187.5,115.54 L1188.1,115.27 L1188.7,115.01 L1189.3,114.75 L1190.0,114.49 L1190.6,114.24 L1191.2,114.00 L1191.9,113.76 L1192.5,113.52 L1193.1,113.29 L1193.8,113.06 L1194.4,112.84 L1195.0,112.62 L1195.7,112.41 L1196.3,112.20 L1197.0,112.00 L1197.6,111.81 L1198.3,111.61 L1199.0,111.43 L1199.6,111.25 L1200.3,111.07 L1200.9,110.90 L1201.6,110.74 L1202.3,110.58 L1202.9,110.43 L1203.6,110.28 L1204.3,110.14 L1205.0,110.00 L1205.6,109.87 L1206.3,109.75 L1207.0,109.63 L1207.7,109.52 L1208.3,109.41 L1209.0,109.32 L1209.7,109.22 L1210.4,109.14 L1211.1,109.06 L1211.8,108.98 L1212.5,108.92 L1213.2,108.86 L1213.9,108.80 L1214.6,108.75 L1215.2,108.71 L1215.9,108.67 L1216.6,108.64 L1217.3,108.62 L1218.0,108.60 L1218.7,108.59 L1219.4,108.58 L1220.1,108.58 L1220.8,108.59 L1221.5,108.60 L1222.2,108.62 L1222.9,108.64 L1223.7,108.67 L1224.4,108.70 L1225.1,108.74 L1225.8,108.78 L1226.5,108.83 L1227.2,108.89 L1227.9,108.95 L1228.6,109.01 L1229.3,109.08 L1230.0,109.16 L1230.7,109.24 L1231.4,109.32 L1232.1,109.41 L1232.8,109.51 L1233.5,109.61 L1234.2,109.72 L1234.9,109.83 L1235.6,109.94 L1236.3,110.06 L1236.9,110.18 L1237.6,110.31 L1238.3,110.45 L1239.0,110.58 L1239.7,110.72 L1240.4,110.87 L1241.1,111.02 L1241.8,111.18 L1242.5,111.34 L1243.1,111.50 L1243.8,111.67 L1244.5,111.84 L1245.2,112.01 L1245.8,112.19 L1246.5,112.38 L1247.2,112.57 L1247.8,112.76 L1248.5,112.95 L1249.2,113.15 L1249.8,113.35 L1250.5,113.56 L1251.1,113.77 L1251.8,113.98 L1252.5,114.20 L1253.1,114.42 L1253.7,114.64 L1254.4,114.87 L1255.0,115.10 L1255.7,115.33 L1256.3,115.57 L1256.9,115.81 L1257.6,116.05 L1258.2,116.30 L1258.8,116.55 L1259.4,116.80 L1260.0,117.06 L1260.6,117.31 L1261.2,117.57 L1261.8,117.84 L1262.5,118.10 L1263.0,118.37 L1263.6,118.64 L1264.2,118.92 L1264.8,119.19 L1265.4,119.47 L1266.0,119.75 L1266.6,120.04 L1267.2,120.32 L1267.7,120.61 L1268.3,120.90 L1268.9,121.20 L1269.5,121.49 L1270.0,121.79 L1270.6,122.09 L1271.2,122.39 L1271.7,122.69 L1272.3,122.99 L1272.9,123.30 L1273.4,123.61 L1274.0,123.92 L1274.6,124.23 L1275.1,124.54 L1275.7,124.86 L1276.2,125.17 L1276.8,125.49 L1277.3,125.81 L1277.9,126.13 L1278.4,126.45 L1279.0,126.78 L1279.6,127.10 L1280.1,127.43 L1280.7,127.75 L1281.2,128.08 L1281.8,128.41 L1282.3,128.74 L1282.9,129.07 L1283.4,129.40 L1284.0,129.74 L1284.5,130.07 L1285.1,130.40 L1285.6,130.74 L1286.2,131.07 L1286.8,131.41 L1287.3,131.75 L1287.9,132.08 L1288.4,132.42 L1289.0,132.76 L1289.5,133.10 L1290.1,133.44 L1290.7,133.78 L1291.2,134.12 L1291.8,134.45 L1292.4,134.79 L1292.9,135.13 L1293.5,135.47 L1294.1,135.81 L1294.7,136.15 L1295.2,136.49 L1295.8,136.83 L1296.4,137.17"/>
</g>
<rect x="752.8" y="439" width="170.3" height="260.5" fill="none" stroke="#1a1a1a" stroke-width="2.8"/>
<text stroke="#FF7733" stroke-width="0.35" transform="translate(775.00,493.40) scale(0.8370,1.0000)" font-family="Liberation Serif" font-size="37" text-anchor="start" fill="#FF7733">Lf=15mm</text>
<text stroke="#22DD55" stroke-width="0.35" transform="translate(775.00,537.00) scale(0.8370,1.0000)" font-family="Liberation Serif" font-size="37" text-anchor="start" fill="#22DD55">Lf=17mm</text>
<text stroke="#2222FF" stroke-width="0.35" transform="translate(775.00,580.40) scale(0.8370,1.0000)" font-family="Liberation Serif" font-size="37" text-anchor="start" fill="#2222FF">Lf=19mm</text>
<text stroke="#FF1111" stroke-width="0.35" transform="translate(775.00,624.10) scale(0.8370,1.0000)" font-family="Liberation Serif" font-size="37" text-anchor="start" fill="#FF1111">Lf=25mm</text>
<text stroke="#D811D8" stroke-width="0.35" transform="translate(775.00,672.70) scale(0.8370,1.0000)" font-family="Liberation Serif" font-size="37" text-anchor="start" fill="#D811D8">Lf=35mm</text>
<text transform="translate(48.50,78.80) scale(0.7800,1.0000)" font-family="Liberation Sans" font-size="40" text-anchor="end" fill="#000" stroke="#fff" stroke-width="0.4">0</text>
<text transform="translate(50.00,160.40) scale(0.7800,1.0000)" font-family="Liberation Sans" font-size="40" text-anchor="end" fill="#000" stroke="#fff" stroke-width="0.4">5</text>
<rect x="23.20" y="148.10" width="9.8" height="2.4" fill="#000"/>
<text transform="translate(50.00,242.20) scale(0.7800,1.0000)" font-family="Liberation Sans" font-size="40" text-anchor="end" fill="#000" stroke="#fff" stroke-width="0.4">10</text>
<rect x="6.20" y="229.90" width="9.8" height="2.4" fill="#000"/>
<text transform="translate(50.00,321.90) scale(0.7800,1.0000)" font-family="Liberation Sans" font-size="40" text-anchor="end" fill="#000" stroke="#fff" stroke-width="0.4">15</text>
<rect x="6.20" y="309.60" width="9.8" height="2.4" fill="#000"/>
<text transform="translate(50.00,403.60) scale(0.7800,1.0000)" font-family="Liberation Sans" font-size="40" text-anchor="end" fill="#000" stroke="#fff" stroke-width="0.4">20</text>
<rect x="5.20" y="391.30" width="9.8" height="2.4" fill="#000"/>
<text transform="translate(50.00,485.80) scale(0.7800,1.0000)" font-family="Liberation Sans" font-size="40" text-anchor="end" fill="#000" stroke="#fff" stroke-width="0.4">25</text>
<rect x="5.20" y="473.50" width="9.8" height="2.4" fill="#000"/>
<text transform="translate(50.00,567.30) scale(0.7800,1.0000)" font-family="Liberation Sans" font-size="40" text-anchor="end" fill="#000" stroke="#fff" stroke-width="0.4">30</text>
<rect x="5.20" y="555.00" width="9.8" height="2.4" fill="#000"/>
<text transform="translate(50.00,649.50) scale(0.7800,1.0000)" font-family="Liberation Sans" font-size="40" text-anchor="end" fill="#000" stroke="#fff" stroke-width="0.4">35</text>
<rect x="5.20" y="637.20" width="9.8" height="2.4" fill="#000"/>
<text transform="translate(50.00,731.50) scale(0.7800,1.0000)" font-family="Liberation Sans" font-size="40" text-anchor="end" fill="#000" stroke="#fff" stroke-width="0.4">40</text>
<rect x="4.20" y="719.20" width="9.8" height="2.4" fill="#000"/>
<text transform="translate(69.80,780.30) scale(0.7800,1.0000)" font-family="Liberation Sans" font-size="40" text-anchor="middle" fill="#000" stroke="#fff" stroke-width="0.4">1</text>
<text transform="translate(223.20,780.30) scale(0.7800,1.0000)" font-family="Liberation Sans" font-size="40" text-anchor="middle" fill="#000" stroke="#fff" stroke-width="0.4">2</text>
<text transform="translate(376.30,780.30) scale(0.7800,1.0000)" font-family="Liberation Sans" font-size="40" text-anchor="middle" fill="#000" stroke="#fff" stroke-width="0.4">3</text>
<text transform="translate(529.30,780.30) scale(0.7800,1.0000)" font-family="Liberation Sans" font-size="40" text-anchor="middle" fill="#000" stroke="#fff" stroke-width="0.4">4</text>
<text transform="translate(682.70,780.30) scale(0.7800,1.0000)" font-family="Liberation Sans" font-size="40" text-anchor="middle" fill="#000" stroke="#fff" stroke-width="0.4">5</text>
<text transform="translate(835.90,780.30) scale(0.7800,1.0000)" font-family="Liberation Sans" font-size="40" text-anchor="middle" fill="#000" stroke="#fff" stroke-width="0.4">6</text>
<text transform="translate(989.20,780.30) scale(0.7800,1.0000)" font-family="Liberation Sans" font-size="40" text-anchor="middle" fill="#000" stroke="#fff" stroke-width="0.4">7</text>
<text transform="translate(1142.40,780.30) scale(0.7800,1.0000)" font-family="Liberation Sans" font-size="40" text-anchor="middle" fill="#000" stroke="#fff" stroke-width="0.4">8</text>
<text transform="translate(1295.50,780.30) scale(0.7800,1.0000)" font-family="Liberation Sans" font-size="40" text-anchor="middle" fill="#000" stroke="#fff" stroke-width="0.4">9</text>
<text transform="translate(600.10,35.30) scale(0.8500,1.0000)" font-family="Liberation Sans" font-size="40" text-anchor="start" fill="#000" stroke="#fff" stroke-width="0.4">|</text>
<text transform="translate(610.30,35.30) scale(0.6960,1.0000)" font-family="Liberation Sans" font-size="40" text-anchor="start" fill="#000" stroke="#fff" stroke-width="0.4">S</text>
<text transform="translate(628.30,35.30) scale(0.7700,1.0000)" font-family="Liberation Sans" font-size="40" text-anchor="start" fill="#000" stroke="#fff" stroke-width="0.4">1</text>
<text transform="translate(641.70,35.30) scale(1.2000,1.5000)" font-family="Liberation Sans" font-size="40" text-anchor="start" fill="#000" stroke="#fff" stroke-width="0.4">,</text>
<text transform="translate(656.60,35.30) scale(0.7700,1.0000)" font-family="Liberation Sans" font-size="40" text-anchor="start" fill="#000" stroke="#fff" stroke-width="0.4">1</text>
<text transform="translate(675.10,35.30) scale(0.8500,1.0000)" font-family="Liberation Sans" font-size="40" text-anchor="start" fill="#000" stroke="#fff" stroke-width="0.4">|</text>
<text transform="translate(696.58,35.30) scale(0.7385,1.0000)" font-family="Liberation Sans" font-size="40" text-anchor="start" fill="#000" stroke="#fff" stroke-width="0.4">in</text>
<text transform="translate(729.34,35.30) scale(0.7800,1.0000)" font-family="Liberation Sans" font-size="40" text-anchor="start" fill="#000" stroke="#fff" stroke-width="0.4">dB</text>
<text transform="translate(563.16,836.80) scale(0.7785,1.0000)" font-family="Liberation Sans" font-size="40" text-anchor="start" fill="#000" stroke="#fff" stroke-width="0.4">Frequency</text>
<text transform="translate(720.80,841.70) scale(1.0818,1.2000)" font-family="Liberation Sans" font-size="40" text-anchor="start" fill="#000" stroke="#fff" stroke-width="0.4">/</text>
<text transform="translate(744.59,836.80) scale(0.7526,1.0000)" font-family="Liberation Sans" font-size="40" text-anchor="start" fill="#000" stroke="#fff" stroke-width="0.4">GHz</text>
</svg></body></html>
